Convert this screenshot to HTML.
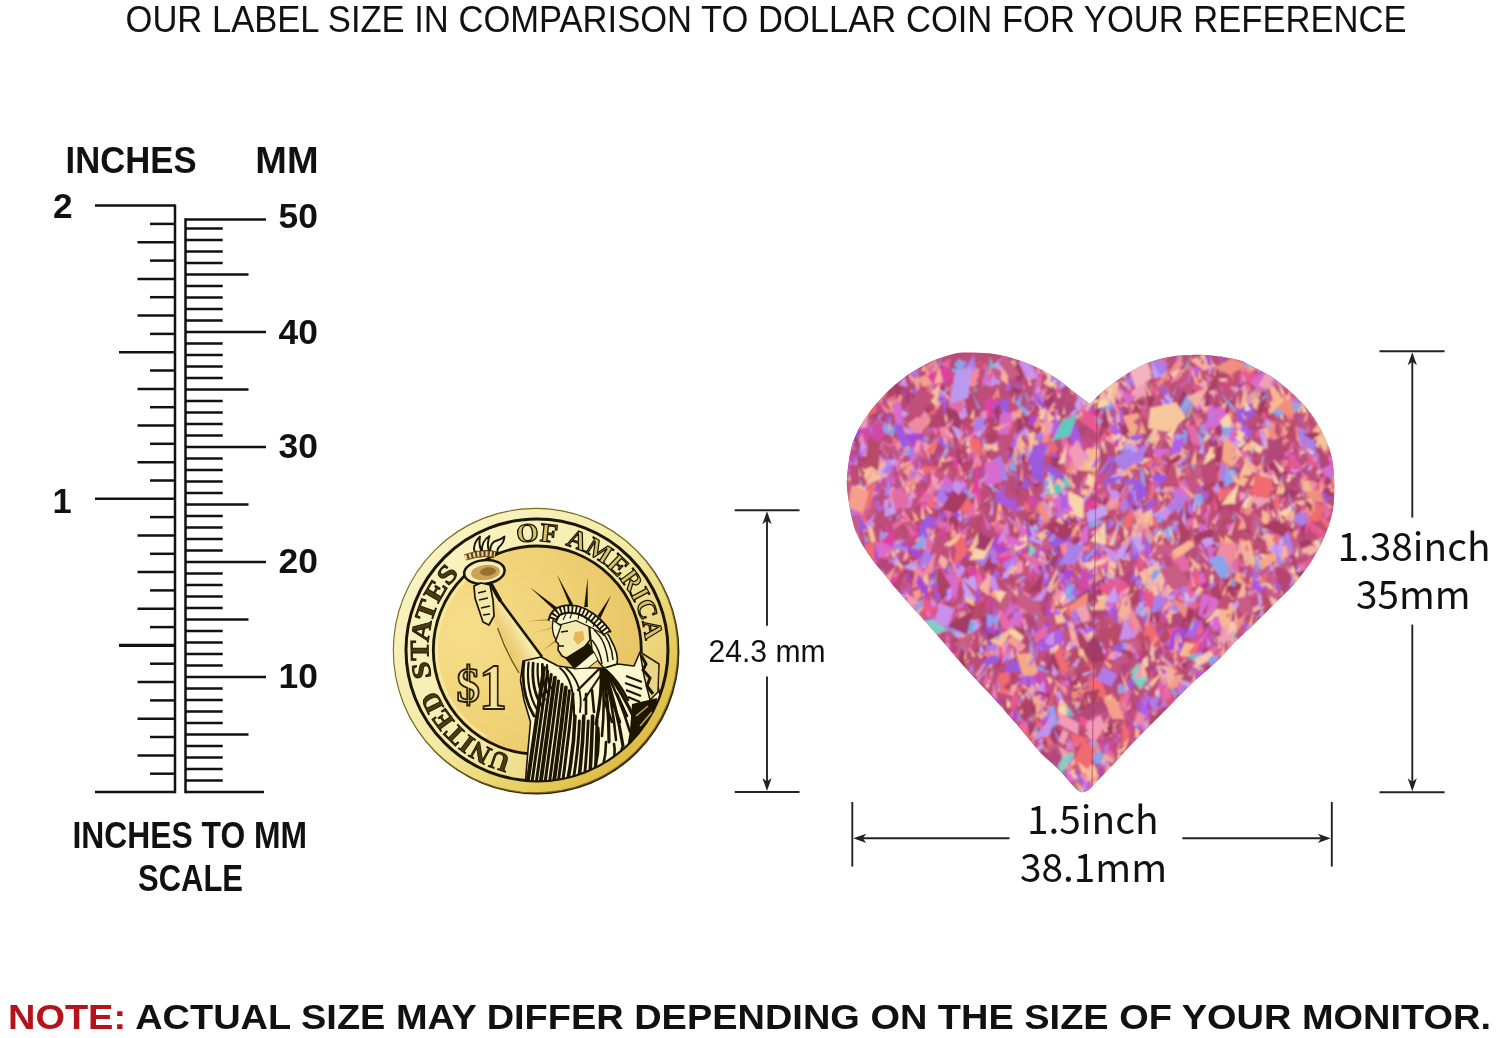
<!DOCTYPE html>
<html lang="en">
<head>
<meta charset="utf-8">
<title>Label size comparison</title>
<style>
html,body{margin:0;padding:0;background:#fff;}
body{width:1500px;height:1038px;overflow:hidden;position:relative;font-family:"Liberation Sans",sans-serif;}
svg{position:absolute;left:0;top:0;display:block;}
text{font-family:"Liberation Sans",sans-serif;fill:#111;}
.b{font-weight:bold;}
.n{font-family:"Noto Sans CJK SC","Liberation Sans",sans-serif;}
</style>
</head>
<body>
<svg width="1500" height="1038" viewBox="0 0 1500 1038">
<rect width="1500" height="1038" fill="#fff"/>
<!--TEXTS-->
<g stroke="#111" stroke-width="2.5" stroke-linecap="butt" fill="none">
<line x1="175.0" y1="204.4" x2="175.0" y2="793.2"/>
<line x1="185.5" y1="218.3" x2="185.5" y2="793.2"/>
<line x1="95" y1="792.0" x2="175.0" y2="792.0" stroke-width="2.5"/>
<line x1="150" y1="773.7" x2="175.0" y2="773.7" stroke-width="2.5"/>
<line x1="137.5" y1="755.4" x2="175.0" y2="755.4" stroke-width="2.5"/>
<line x1="150" y1="737.0" x2="175.0" y2="737.0" stroke-width="2.5"/>
<line x1="137.5" y1="718.7" x2="175.0" y2="718.7" stroke-width="2.5"/>
<line x1="150" y1="700.4" x2="175.0" y2="700.4" stroke-width="2.5"/>
<line x1="137.5" y1="682.0" x2="175.0" y2="682.0" stroke-width="2.5"/>
<line x1="150" y1="663.7" x2="175.0" y2="663.7" stroke-width="2.5"/>
<line x1="119" y1="645.4" x2="175.0" y2="645.4" stroke-width="3.2"/>
<line x1="150" y1="627.1" x2="175.0" y2="627.1" stroke-width="2.5"/>
<line x1="137.5" y1="608.8" x2="175.0" y2="608.8" stroke-width="2.5"/>
<line x1="150" y1="590.4" x2="175.0" y2="590.4" stroke-width="2.5"/>
<line x1="137.5" y1="572.1" x2="175.0" y2="572.1" stroke-width="2.5"/>
<line x1="150" y1="553.8" x2="175.0" y2="553.8" stroke-width="2.5"/>
<line x1="137.5" y1="535.5" x2="175.0" y2="535.5" stroke-width="2.5"/>
<line x1="150" y1="517.1" x2="175.0" y2="517.1" stroke-width="2.5"/>
<line x1="95" y1="498.8" x2="175.0" y2="498.8" stroke-width="2.5"/>
<line x1="150" y1="480.5" x2="175.0" y2="480.5" stroke-width="2.5"/>
<line x1="137.5" y1="462.2" x2="175.0" y2="462.2" stroke-width="2.5"/>
<line x1="150" y1="443.8" x2="175.0" y2="443.8" stroke-width="2.5"/>
<line x1="137.5" y1="425.5" x2="175.0" y2="425.5" stroke-width="2.5"/>
<line x1="150" y1="407.2" x2="175.0" y2="407.2" stroke-width="2.5"/>
<line x1="137.5" y1="388.9" x2="175.0" y2="388.9" stroke-width="2.5"/>
<line x1="150" y1="370.5" x2="175.0" y2="370.5" stroke-width="2.5"/>
<line x1="119" y1="352.2" x2="175.0" y2="352.2" stroke-width="2.5"/>
<line x1="150" y1="333.9" x2="175.0" y2="333.9" stroke-width="2.5"/>
<line x1="137.5" y1="315.6" x2="175.0" y2="315.6" stroke-width="2.5"/>
<line x1="150" y1="297.2" x2="175.0" y2="297.2" stroke-width="2.5"/>
<line x1="137.5" y1="278.9" x2="175.0" y2="278.9" stroke-width="2.5"/>
<line x1="150" y1="260.6" x2="175.0" y2="260.6" stroke-width="2.5"/>
<line x1="137.5" y1="242.2" x2="175.0" y2="242.2" stroke-width="2.5"/>
<line x1="150" y1="223.9" x2="175.0" y2="223.9" stroke-width="2.5"/>
<line x1="95" y1="205.6" x2="175.0" y2="205.6" stroke-width="2.5"/>
<line x1="185.5" y1="792.0" x2="264" y2="792.0"/>
<line x1="185.5" y1="780.5" x2="222.7" y2="780.5"/>
<line x1="185.5" y1="769.0" x2="222.7" y2="769.0"/>
<line x1="185.5" y1="757.5" x2="222.7" y2="757.5"/>
<line x1="185.5" y1="746.0" x2="222.7" y2="746.0"/>
<line x1="185.5" y1="734.5" x2="248.5" y2="734.5"/>
<line x1="185.5" y1="723.0" x2="222.7" y2="723.0"/>
<line x1="185.5" y1="711.5" x2="222.7" y2="711.5"/>
<line x1="185.5" y1="700.0" x2="222.7" y2="700.0"/>
<line x1="185.5" y1="688.5" x2="222.7" y2="688.5"/>
<line x1="185.5" y1="677.0" x2="266" y2="677.0"/>
<line x1="185.5" y1="665.5" x2="222.7" y2="665.5"/>
<line x1="185.5" y1="654.0" x2="222.7" y2="654.0"/>
<line x1="185.5" y1="642.5" x2="222.7" y2="642.5"/>
<line x1="185.5" y1="631.0" x2="222.7" y2="631.0"/>
<line x1="185.5" y1="619.5" x2="248.5" y2="619.5"/>
<line x1="185.5" y1="608.0" x2="222.7" y2="608.0"/>
<line x1="185.5" y1="596.5" x2="222.7" y2="596.5"/>
<line x1="185.5" y1="585.0" x2="222.7" y2="585.0"/>
<line x1="185.5" y1="573.5" x2="222.7" y2="573.5"/>
<line x1="185.5" y1="562.0" x2="266" y2="562.0"/>
<line x1="185.5" y1="550.5" x2="222.7" y2="550.5"/>
<line x1="185.5" y1="539.0" x2="222.7" y2="539.0"/>
<line x1="185.5" y1="527.5" x2="222.7" y2="527.5"/>
<line x1="185.5" y1="516.0" x2="222.7" y2="516.0"/>
<line x1="185.5" y1="504.5" x2="248.5" y2="504.5"/>
<line x1="185.5" y1="493.0" x2="222.7" y2="493.0"/>
<line x1="185.5" y1="481.5" x2="222.7" y2="481.5"/>
<line x1="185.5" y1="470.0" x2="222.7" y2="470.0"/>
<line x1="185.5" y1="458.5" x2="222.7" y2="458.5"/>
<line x1="185.5" y1="447.0" x2="266" y2="447.0"/>
<line x1="185.5" y1="435.5" x2="222.7" y2="435.5"/>
<line x1="185.5" y1="424.0" x2="222.7" y2="424.0"/>
<line x1="185.5" y1="412.5" x2="222.7" y2="412.5"/>
<line x1="185.5" y1="401.0" x2="222.7" y2="401.0"/>
<line x1="185.5" y1="389.5" x2="248.5" y2="389.5"/>
<line x1="185.5" y1="378.0" x2="222.7" y2="378.0"/>
<line x1="185.5" y1="366.5" x2="222.7" y2="366.5"/>
<line x1="185.5" y1="355.0" x2="222.7" y2="355.0"/>
<line x1="185.5" y1="343.5" x2="222.7" y2="343.5"/>
<line x1="185.5" y1="332.0" x2="266" y2="332.0"/>
<line x1="185.5" y1="320.5" x2="222.7" y2="320.5"/>
<line x1="185.5" y1="309.0" x2="222.7" y2="309.0"/>
<line x1="185.5" y1="297.5" x2="222.7" y2="297.5"/>
<line x1="185.5" y1="286.0" x2="222.7" y2="286.0"/>
<line x1="185.5" y1="274.5" x2="248.5" y2="274.5"/>
<line x1="185.5" y1="263.0" x2="222.7" y2="263.0"/>
<line x1="185.5" y1="251.5" x2="222.7" y2="251.5"/>
<line x1="185.5" y1="240.0" x2="222.7" y2="240.0"/>
<line x1="185.5" y1="228.5" x2="222.7" y2="228.5"/>
<line x1="185.5" y1="219.6" x2="266" y2="219.6"/>
</g>
<text x="125.5" y="32.3" font-size="37.5" textLength="1281.0" lengthAdjust="spacingAndGlyphs">OUR LABEL SIZE IN COMPARISON TO DOLLAR COIN FOR YOUR REFERENCE</text>
<text x="65.6" y="173" font-size="36" textLength="130.9" lengthAdjust="spacingAndGlyphs" class="b">INCHES</text>
<text x="255.3" y="173" font-size="36" textLength="63.2" lengthAdjust="spacingAndGlyphs" class="b">MM</text>
<text x="53" y="218" font-size="34.5" textLength="19.6" lengthAdjust="spacingAndGlyphs" class="b">2</text>
<text x="52.6" y="513" font-size="34.5" class="b">1</text>
<text x="278.6" y="228.4" font-size="34.5" textLength="39.4" lengthAdjust="spacingAndGlyphs" class="b">50</text>
<text x="278.6" y="343.5" font-size="34.5" textLength="39.4" lengthAdjust="spacingAndGlyphs" class="b">40</text>
<text x="278.6" y="457.5" font-size="34.5" textLength="39.4" lengthAdjust="spacingAndGlyphs" class="b">30</text>
<text x="278.6" y="572.6" font-size="34.5" textLength="39.4" lengthAdjust="spacingAndGlyphs" class="b">20</text>
<text x="278.6" y="688" font-size="34.5" textLength="39.4" lengthAdjust="spacingAndGlyphs" class="b">10</text>
<text x="72.5" y="848" font-size="36" textLength="234.5" lengthAdjust="spacingAndGlyphs" class="b">INCHES TO MM</text>
<text x="138" y="890.5" font-size="36" textLength="105.0" lengthAdjust="spacingAndGlyphs" class="b">SCALE</text>
<text x="708.5" y="662" font-size="30.5" textLength="117.0" lengthAdjust="spacingAndGlyphs">24.3 mm</text>
<text x="1337.5" y="560.5" font-size="39.5" textLength="153.0" lengthAdjust="spacingAndGlyphs" class="n">1.38inch</text>
<text x="1356" y="608.6" font-size="39.5" textLength="114.5" lengthAdjust="spacingAndGlyphs" class="n">35mm</text>
<text x="1027" y="833.5" font-size="39.5" textLength="131.5" lengthAdjust="spacingAndGlyphs" class="n">1.5inch</text>
<text x="1020" y="881.8" font-size="39.5" textLength="147.0" lengthAdjust="spacingAndGlyphs" class="n">38.1mm</text>
<text x="8" y="1028.5" font-size="35" class="b" textLength="1483" lengthAdjust="spacingAndGlyphs"><tspan fill="#b5121b">NOTE:</tspan> ACTUAL SIZE MAY DIFFER DEPENDING ON THE SIZE OF YOUR MONITOR.</text>
<g stroke="#222" stroke-width="1.9" fill="#222">
<line x1="734.7" y1="510.2" x2="799.5" y2="510.2"/>
<line x1="734.7" y1="792" x2="799.5" y2="792"/>
<line x1="767" y1="520.2" x2="767" y2="625.7"/>
<line x1="767" y1="676.4" x2="767" y2="782"/>
<path stroke="none" d="M767 511.2 L762.4 524.2 L767 520.7 L771.6 524.2 Z"/>
<path stroke="none" d="M767 791 L762.4 778 L767 781.5 L771.6 778 Z"/>
</g>
<g stroke="#222" stroke-width="1.9" fill="#222">
<line x1="1379.5" y1="351.3" x2="1444.6" y2="351.3"/>
<line x1="1379.5" y1="792.3" x2="1444.6" y2="792.3"/>
<line x1="1412.3" y1="361.3" x2="1412.3" y2="517.6"/>
<line x1="1412.3" y1="624.6" x2="1412.3" y2="782.3"/>
<path stroke="none" d="M1412.3 352.3 L1407.7 365.3 L1412.3 361.8 L1416.8999999999999 365.3 Z"/>
<path stroke="none" d="M1412.3 791.3 L1407.7 778.3 L1412.3 781.8 L1416.8999999999999 778.3 Z"/>
</g>
<g stroke="#222" stroke-width="1.9" fill="#222">
<line x1="852.3" y1="802" x2="852.3" y2="866.6"/>
<line x1="1331.8" y1="802" x2="1331.8" y2="866.6"/>
<line x1="862.3" y1="838.3" x2="1009.5" y2="838.3"/>
<line x1="1182.3" y1="838.3" x2="1321.8" y2="838.3"/>
<path stroke="none" d="M853.3 838.3 L866.3 833.6999999999999 L862.8 838.3 L866.3 842.9 Z"/>
<path stroke="none" d="M1330.8 838.3 L1317.8 833.6999999999999 L1321.3 838.3 L1317.8 842.9 Z"/>
</g>
<defs>
<linearGradient id="rimG" gradientUnits="userSpaceOnUse" x1="420" y1="540" x2="650" y2="770">
<stop offset="0" stop-color="#f8f4c4"/><stop offset="0.5" stop-color="#f3e9a4"/><stop offset="0.78" stop-color="#e6cc5c"/><stop offset="1" stop-color="#d8b438"/></linearGradient>
<linearGradient id="ringG" gradientUnits="userSpaceOnUse" x1="420" y1="560" x2="660" y2="740">
<stop offset="0" stop-color="#f8f4c2"/><stop offset="0.5" stop-color="#f5ecac"/><stop offset="0.8" stop-color="#edd47a"/><stop offset="1" stop-color="#e4c258"/></linearGradient>
<radialGradient id="fieldG" gradientUnits="userSpaceOnUse" cx="465" cy="630" r="190">
<stop offset="0" stop-color="#f6de8a"/><stop offset="0.5" stop-color="#f0d277"/><stop offset="1" stop-color="#e7c463"/></radialGradient>
<linearGradient id="armG" gradientUnits="userSpaceOnUse" x1="495" y1="640" x2="520" y2="625">
<stop offset="0" stop-color="#e9c261"/><stop offset="0.55" stop-color="#f0d585"/><stop offset="1" stop-color="#f7f0b4"/></linearGradient>
<filter id="cb" x="380" y="495" width="320" height="320" filterUnits="userSpaceOnUse"><feGaussianBlur stdDeviation="0.55"/></filter>
<clipPath id="ringClip"><circle cx="537.0" cy="650.0" r="131"/></clipPath>
</defs>
<g filter="url(#cb)">
<circle cx="536.5" cy="651.7" r="142.9" fill="#2a2208"/>
<circle cx="535.5" cy="650.6" r="142.2" fill="url(#rimG)" stroke="#7d6a1c" stroke-width="1.1"/>
<circle cx="537.0" cy="650.0" r="131" fill="url(#ringG)" stroke="#1c1505" stroke-width="3"/>
<circle cx="537.3" cy="650.0" r="104" fill="url(#fieldG)" stroke="#1c1505" stroke-width="2.8"/>
<path d="M472.7 573.0 A100.5 100.5 0 0 0 487.0 737.0" fill="none" stroke="#f7eaa6" stroke-width="2.5" opacity="0.8"/>
<path id="tp1" d="M511.6 755.6 A108.6 108.6 0 0 1 436.0 689.8" fill="none"/><text font-weight="bold" font-size="26.5" stroke="#1c1505" stroke-width="0.9" style="font-family:'Liberation Serif',serif;fill:#4a3c10"><textPath href="#tp1" textLength="104.2" lengthAdjust="spacingAndGlyphs">UNITED</textPath></text>
<path id="tp2" d="M431.9 677.2 A108.6 108.6 0 0 1 459.5 573.9" fill="none"/><text font-weight="bold" font-size="26.5" stroke="#1c1505" stroke-width="0.9" style="font-family:'Liberation Serif',serif;fill:#4a3c10"><textPath href="#tp2" textLength="111.8" lengthAdjust="spacingAndGlyphs">STATES</textPath></text>
<path id="tp3" d="M517.2 543.2 A108.6 108.6 0 0 1 556.8 543.2" fill="none"/><text font-weight="bold" font-size="26.5" stroke="#1c1505" stroke-width="1.25" style="font-family:'Liberation Serif',serif;fill:#d8c26a"><textPath href="#tp3" textLength="39.8" lengthAdjust="spacingAndGlyphs">OF</textPath></text>
<path id="tp4" d="M565.1 545.1 A108.6 108.6 0 0 1 645.2 640.5" fill="none"/><text font-weight="bold" font-size="26.5" stroke="#1c1505" stroke-width="1.25" style="font-family:'Liberation Serif',serif;fill:#d8c26a"><textPath href="#tp4" textLength="132.7" lengthAdjust="spacingAndGlyphs">AMERICA</textPath></text>
<g style="font-family:'Liberation Serif',serif" font-weight="bold" stroke="#2c2208" stroke-width="1.9"><text x="456.5" y="702" font-size="50" textLength="23.5" lengthAdjust="spacingAndGlyphs" style="font-family:'Liberation Serif',serif;fill:#f6e49c">$</text><text x="479" y="708.6" font-size="65" textLength="28" lengthAdjust="spacingAndGlyphs" style="font-family:'Liberation Serif',serif;fill:#f6e49c">1</text></g>
<path d="M557.7 608.1L529.8 587.3L555.3 610.9Z" fill="#1c1505" opacity="1"/>
<path d="M573.1 604.2L557.0 574.6L569.9 605.8Z" fill="#1c1505" opacity="1"/>
<path d="M587.8 607.1L587.6 577.5L584.2 606.9Z" fill="#1c1505" opacity="1"/>
<path d="M600.6 617.9L611.3 594.9L597.4 616.1Z" fill="#1c1505" opacity="1"/>
<path d="M550.9 618.5L528.0 621.2L551.1 620.5Z" fill="#a8862c" opacity="0.75"/>
<path d="M554.4 640.7L542.0 651.0L555.6 642.3Z" fill="#a8862c" opacity="0.75"/>
<path d="M551.8 627.2L533.0 633.0L552.2 628.8Z" fill="#b8963c" opacity="0.6"/>
<path d="M478 590 L492 585.5 L508 610 L541.5 656 L545 664 L520 674 L498 628 Z" fill="url(#armG)"/>
<path d="M491.5 585.5 L497 596 L508 611 L541.5 656" fill="none" stroke="#1c1505" stroke-width="2.6" stroke-linecap="round"/>
<path d="M491.5 585 L500 600" fill="none" stroke="#1c1505" stroke-width="3.6" stroke-linecap="round"/>
<path d="M497.5 628 Q506 652 519 673" fill="none" stroke="#6b5514" stroke-width="1.3"/>
<g fill="#fbf8cf" stroke="#1c1505" stroke-width="1.9" stroke-linejoin="round" stroke-linecap="round"><path d="M474.5 552 Q472.5 543 480 536.5 Q478.5 545 481.5 551.5 Z"/><path d="M482 551.5 Q481 541.5 489.5 536 Q486.5 545 489 551 Z"/><path d="M490 551 Q490.5 542 497 540.5 Q501 539.5 504.5 536.5 Q504 543 499 547 Q497 549 497.5 553 Z"/></g>
<path d="M465 557.5 Q480 552 495 554.5" fill="none" stroke="#6a4418" stroke-width="6.4"/>
<path d="M465 557.5 Q480 552 495 554.5" fill="none" stroke="#f0d89a" stroke-width="5" stroke-dasharray="2 2.2"/>
<ellipse cx="484.4" cy="572" rx="20.3" ry="11.8" fill="#f6eeb8" stroke="#1c1505" stroke-width="2.5" transform="rotate(-6 484.4 572)"/>
<ellipse cx="485.5" cy="572.5" rx="14.5" ry="7.6" fill="#c79a4a" opacity="0.9" transform="rotate(-6 485.5 572.5)"/>
<ellipse cx="488" cy="571.5" rx="8" ry="4.2" fill="#8a5c22" opacity="0.75" transform="rotate(-6 488 571.5)"/>
<path d="M474 586 L481 583 L490 585 L493 600 L494 616 L489 625 L483 622 L479 610 L475 598 Z" fill="#f3e8a8" stroke="#1c1505" stroke-width="1.7" stroke-linejoin="round"/>
<path d="M478 593 L486 591 M479 600 L488 598 M481 608 L490 606 M483 615 L490 614" stroke="#1c1505" stroke-width="1.4" fill="none"/>
<clipPath id="robeClip"><path d="M541 657 L523 661 L520.5 680 L524 700 L530.5 722 L528 750 L525.5 780.6 A131 131 0 0 0 660 695 L658 687 L659 664 L640 652 L634 666 L618 664 L604 668 L585 668 L572 668 L558 666 Z"/></clipPath>
<path d="M541 657 L523 661 L520.5 680 L524 700 L530.5 722 L528 750 L525.5 780.6 A131 131 0 0 0 660 695 L658 687 L659 664 L640 652 L634 666 L618 664 L604 668 L585 668 L572 668 L558 666 Z" fill="#fbf8cf" stroke="#1c1505" stroke-width="1.6" stroke-linejoin="round"/>
<g clip-path="url(#robeClip)">
<g fill="none" stroke="#1c1505" stroke-linecap="round"><path d="M544.0 668.0 Q535.5 725.5 527.5 783.0" stroke-width="3.9"/><path d="M547.6 671.2 Q539.6 727.1 531.9 783.0" stroke-width="3.0"/><path d="M551.2 674.5 Q543.8 728.8 536.2 783.0" stroke-width="3.0"/><path d="M554.9 677.8 Q547.9 730.4 540.6 783.0" stroke-width="3.9"/><path d="M558.5 681.0 Q552.0 732.0 545.0 783.0" stroke-width="3.0"/><path d="M562.1 684.2 Q556.2 733.6 549.4 783.0" stroke-width="3.0"/><path d="M565.8 687.5 Q560.4 735.2 553.8 783.0" stroke-width="3.9"/><path d="M569.4 690.8 Q564.5 736.9 558.1 783.0" stroke-width="3.0"/><path d="M573.0 694.0 Q568.6 738.5 562.5 783.0" stroke-width="3.0"/><path d="M524.0 662.0 Q520.0 692.0 534.0 716.0" stroke-width="2.8"/><path d="M528.6 662.6 Q525.5 690.5 537.6 710.5" stroke-width="2.2"/><path d="M533.2 663.2 Q531.0 689.0 541.2 705.0" stroke-width="2.8"/><path d="M537.8 663.8 Q536.5 687.5 544.8 699.5" stroke-width="2.2"/><path d="M542.4 664.4 Q542.0 686.0 548.4 694.0" stroke-width="2.8"/><path d="M547.0 665.0 Q547.5 684.5 552.0 688.5" stroke-width="2.2"/><path d="M575.0 716.0 Q574.0 750 567.0 784" stroke-width="3.6"/><path d="M579.4 721.0 Q578.4 750 572.6 784" stroke-width="2.9"/><path d="M583.8 716.0 Q582.8 750 578.2 784" stroke-width="3.6"/><path d="M588.2 721.0 Q587.2 750 583.8 784" stroke-width="2.9"/><path d="M592.6 716.0 Q591.6 750 589.4 784" stroke-width="3.6"/><path d="M597.0 721.0 Q596.0 750 595.0 784" stroke-width="2.9"/><path d="M560 668 Q575 680 574 716" stroke-width="2"/><path d="M566 668 Q584 684 580 712" stroke-width="1.8"/><path d="M600 668 L578 690" stroke-width="2.4"/><path d="M604 670 L584 700" stroke-width="2"/><path d="M601.0 668.0 Q602.5 693.0 596 724" stroke-width="3.2"/><path d="M601.8 668.4 Q605.5 699.0 602 736" stroke-width="2.6"/><path d="M602.6 668.8 Q609.0 702.0 609 742" stroke-width="3.2"/><path d="M603.4 669.2 Q612.5 701.0 616 740" stroke-width="2.6"/><path d="M604.2 669.6 Q616.0 704.0 623 746" stroke-width="3.2"/><path d="M605.0 670.0 Q619.5 697.0 630 732" stroke-width="2.6"/><path d="M605.8 670.4 Q622.5 692.0 636 722" stroke-width="3.2"/><path d="M606.6 670.8 Q618.5 681.0 628 700" stroke-width="2.6"/><path d="M598 728 Q600 750 594 772" stroke-width="3"/><path d="M606 742 Q606 756 602 770" stroke-width="2.6"/><path d="M614 744 Q616 754 612 764" stroke-width="2.6"/><path d="M622 748 L619 760" stroke-width="2.4"/></g>
<path d="M632 704 L657 698 L656 720 L641 744 L626 754 L630 730 Z" fill="#1c1505"/>
<path d="M604 700 L612 722 M610 696 L620 722 M617 694 L627 716 M592 690 L594 712 M586 694 L586 714" stroke="#1c1505" stroke-width="2.6" fill="none" stroke-linecap="round"/>
<path d="M640 652 L659 664 L658 692 L650 700 L644 676 Z" fill="#e9d68a" stroke="#1c1505" stroke-width="1.5"/>
<path d="M641 655 L646 664 L643 670 L650 678 L647 686 L653 694" fill="none" stroke="#1c1505" stroke-width="3"/>
<path d="M626 676 L642 682 M625 683 L642 689 M626 690 L641 696 M628 697 L640 702" stroke="#1c1505" stroke-width="2.2" fill="none"/>
<path d="M636 716 L648 706 M640 726 L652 712" stroke="#c9a23a" stroke-width="1.6" fill="none"/>
</g>
<path d="M589 622 Q604 624 611 640 Q619 654 617 664 L604 668 Q596 660 592 650 Z" fill="#fbf8cf" stroke="#1c1505" stroke-width="1.6"/>
<path d="M594 630 Q606 640 608 662 M599 628 Q612 642 613 660 M592 640 Q600 650 602 664" fill="none" stroke="#1c1505" stroke-width="1.5"/>
<path d="M561 624 L557.5 634 L555.5 641 L558.5 644 L558 650 L562 656 L568 659 L582 650 L590 640 L589 626 L576 620 Z" fill="#f3eab0" stroke="#1c1505" stroke-width="1.6" stroke-linejoin="round"/>
<path d="M575 632 L583 631 L584.5 639 L578 645 L573 639 Z" fill="#e3a53e" opacity="0.75"/>
<path d="M555 623 L560 615 L570 611.5 L584 614 L598 626 L603 634 L590 627 L576 620.5 L561 624.5 Z" fill="#fbf8cf" stroke="#1c1505" stroke-width="1.2" stroke-linejoin="round"/>
<path d="M563 620 L566 614 M570 618.5 L572 612.5 M578 619.5 L579 613.5 M586 623 L588 616.5 M593 627 L596 621" stroke="#1c1505" stroke-width="1.1" fill="none"/>
<path d="M561 632 L568 631 M559 646 L564 646" stroke="#1c1505" stroke-width="1.4"/>
<path d="M565 658 L589 643 L594 652 L574 669 Z" fill="#1c1505"/>
<path d="M574 669 L594 652 L598 660 L588 668 Z" fill="#fbf8cf" stroke="#1c1505" stroke-width="1"/>
<path d="M552.3 621.5 C553.5 613 559 609.5 568.6 609 C577 608.6 586 611 598.6 623 C603 627.5 606 631 607.5 634" fill="none" stroke="#1c1505" stroke-width="9.5" stroke-linecap="butt"/>
<path d="M552.3 621.5 C553.5 613 559 609.5 568.6 609 C577 608.6 586 611 598.6 623 C603 627.5 606 631 607.5 634" fill="none" stroke="#fbf8cf" stroke-width="5.6" stroke-dasharray="2.1 1.8"/>
<path d="M553 620 Q551 632 556 640 L561 626 Z" fill="#fbf8cf" stroke="#1c1505" stroke-width="1.3"/>
</g>
<defs><clipPath id="hc"><path d="M1090.0 404.0C1093.3 400.7 1095.8 397.7 1100.0 394.0C1104.2 390.3 1110.0 385.7 1115.0 382.0C1120.0 378.3 1125.0 375.0 1130.0 372.0C1135.0 369.0 1140.0 366.2 1145.0 364.0C1150.0 361.8 1155.0 360.3 1160.0 359.0C1165.0 357.7 1170.0 356.7 1175.0 356.0C1180.0 355.3 1185.0 355.2 1190.0 355.0C1195.0 354.8 1200.0 354.8 1205.0 355.0C1210.0 355.2 1214.2 355.6 1220.0 356.5C1225.8 357.4 1234.9 358.9 1240.0 360.5C1245.1 362.1 1245.2 362.9 1250.8 365.8C1256.4 368.7 1266.2 373.1 1273.4 378.0C1280.6 382.9 1287.9 389.2 1294.2 395.3C1300.5 401.4 1306.6 407.8 1311.5 414.4C1316.4 421.0 1320.3 428.3 1323.6 435.2C1326.9 442.1 1329.7 449.1 1331.4 456.0C1333.1 462.9 1333.6 469.9 1334.0 476.8C1334.4 483.7 1334.3 491.4 1334.0 497.6C1333.7 503.8 1333.0 509.0 1332.0 514.0C1331.0 519.0 1329.9 522.1 1327.9 527.5C1325.9 532.9 1323.2 539.9 1319.8 546.4C1316.4 552.9 1312.2 560.1 1307.7 566.6C1303.2 573.1 1298.4 579.2 1292.8 585.5C1287.2 591.8 1280.4 597.9 1273.9 604.4C1267.4 610.9 1260.7 617.9 1253.7 624.6C1246.7 631.4 1238.1 639.0 1232.1 644.9C1226.1 650.8 1224.8 653.6 1217.9 660.2C1211.0 666.8 1199.9 676.0 1190.9 684.5C1181.9 693.0 1173.0 702.5 1164.0 711.5C1155.0 720.5 1145.7 729.5 1137.0 738.5C1128.3 747.5 1119.2 758.1 1112.0 765.8C1104.8 773.4 1098.0 780.3 1094.0 784.4C1090.0 788.5 1090.0 789.0 1088.0 790.3C1086.0 791.6 1083.8 792.3 1082.0 792.2C1080.2 792.1 1078.5 790.9 1077.0 789.8C1075.5 788.7 1076.2 789.1 1073.0 785.6C1069.8 782.1 1063.5 774.4 1058.0 768.8C1052.5 763.2 1046.4 758.9 1040.0 752.0C1033.6 745.1 1026.7 736.0 1019.4 727.5C1012.1 719.0 1003.9 709.4 996.2 700.9C988.5 692.4 980.8 685.1 973.1 676.6C965.4 668.1 957.7 658.9 950.0 650.0C942.3 641.1 934.6 631.9 926.9 623.2C919.2 614.5 911.5 606.7 903.8 597.8C896.1 588.9 886.5 577.1 880.7 570.0C874.9 562.9 873.0 560.7 869.1 555.0C865.2 549.3 860.6 542.2 857.6 535.7C854.6 529.2 853.1 522.9 851.4 515.7C849.7 508.5 848.3 498.9 847.6 492.5C846.9 486.1 846.6 483.9 847.1 477.0C847.6 470.1 849.1 458.0 850.6 451.0C852.1 444.0 853.8 439.9 855.9 435.0C858.0 430.1 860.3 426.1 863.3 421.3C866.3 416.6 869.8 411.4 873.9 406.5C878.0 401.6 882.8 396.4 887.7 391.6C892.7 386.8 898.3 381.9 903.6 377.9C908.9 373.9 914.2 370.8 919.5 367.8C924.8 364.8 929.5 362.2 935.4 359.8C941.3 357.4 949.2 354.7 955.0 353.5C960.8 352.3 965.0 352.6 970.0 352.5C975.0 352.4 980.0 352.6 985.0 353.0C990.0 353.4 995.0 354.0 1000.0 355.0C1005.0 356.0 1010.0 357.4 1015.0 359.0C1020.0 360.6 1025.0 362.4 1030.0 364.5C1035.0 366.6 1040.0 368.8 1045.0 371.5C1050.0 374.2 1055.0 377.4 1060.0 381.0C1065.0 384.6 1070.0 389.2 1075.0 393.0C1080.0 396.8 1085.0 400.3 1090.0 404.0Z"/></clipPath></defs>
<defs><filter id="hb" x="0" y="0" width="100%" height="100%" filterUnits="userSpaceOnUse"><feGaussianBlur stdDeviation="0.85"/></filter></defs>
<g clip-path="url(#hc)"><rect x="836" y="340" width="512" height="464" fill="#bd4d78"/><g filter="url(#hb)">
<path fill="#bd4c76" d="M1303 773L1318 803L1301 811ZM1171 499L1154 524L1140 504L1157 479ZM1061 433L1087 452L1080 466ZM1098 591L1114 600L1110 606ZM925 486L913 516L892 502ZM945 377L936 405L920 391L928 363ZM1054 745L1047 765L1033 766L1039 746ZM931 354L915 362L910 357L927 349ZM916 614L921 635L909 633L904 611ZM955 657L955 676L949 674ZM1115 429L1125 445L1119 453ZM975 770L979 796L972 801L968 776ZM1293 484L1303 499L1299 507L1288 492ZM943 457L949 473L943 476L936 461ZM986 562L975 584L956 578L967 556ZM1332 573L1360 589L1358 611L1330 595ZM1058 706L1052 728L1042 727ZM1134 674L1126 695L1109 696L1117 675ZM1326 648L1352 659L1348 666L1322 656ZM1284 741L1300 752L1294 754L1279 744ZM1230 580L1217 613L1191 618ZM1033 674L1019 696L1002 694L1016 673ZM1145 717L1151 735L1142 735L1135 717ZM1167 690L1137 705L1124 697L1153 682ZM972 442L985 475L974 480ZM1197 496L1194 518L1180 510L1183 487ZM1114 579L1131 606L1119 605L1102 579ZM1227 482L1232 508L1223 504ZM1132 503L1111 513L1100 501ZM1334 445L1327 471L1317 475ZM913 789L916 813L899 817L896 793ZM844 706L836 726L825 725L833 704Z"/>
<path fill="#c2507a" d="M938 547L949 564L935 574ZM1290 591L1262 610L1257 599ZM1120 785L1128 799L1120 801ZM1008 604L1011 635L998 635ZM1188 545L1169 555L1169 539L1188 529ZM927 492L916 522L896 522L907 492ZM1047 720L1049 746L1033 757ZM1211 622L1222 641L1216 646ZM948 731L922 746L903 734L929 719ZM1014 401L1036 430L1015 433L994 405ZM1081 749L1073 776L1063 766ZM1104 733L1104 757L1090 758L1091 733ZM1121 375L1119 394L1104 388L1105 368ZM1003 690L989 699L990 691ZM911 595L896 602L885 596ZM1303 572L1304 595L1288 597L1287 574ZM1194 638L1186 659L1179 660ZM1286 796L1302 803L1296 807L1280 799ZM1043 639L1053 670L1040 683L1029 652ZM1194 485L1223 499L1222 509L1193 496ZM906 371L915 390L908 395L899 376ZM1020 401L999 415L991 395ZM979 419L992 439L978 444ZM1177 608L1162 633L1148 624L1164 599ZM1267 657L1279 676L1271 683Z"/>
<path fill="#c45580" d="M1155 541L1151 572L1136 577ZM870 534L876 550L869 550ZM940 766L960 795L950 813L930 784ZM1149 711L1135 721L1132 712L1147 702ZM1107 467L1120 500L1100 501L1087 468ZM869 764L886 775L882 789L864 777ZM1230 591L1237 609L1223 613ZM1156 516L1137 531L1125 524ZM1226 463L1233 485L1218 481ZM1304 371L1326 386L1321 393L1300 378ZM1198 409L1201 429L1195 432ZM1309 734L1327 762L1302 770L1284 742ZM994 448L970 463L962 457L986 442ZM1074 525L1084 542L1079 547L1070 530ZM1243 767L1248 783L1238 785ZM1218 670L1210 692L1192 687ZM1093 450L1097 466L1093 471ZM1124 620L1130 638L1125 642L1119 624ZM1304 762L1312 784L1296 786ZM1034 564L1043 589L1021 589L1012 564ZM1000 559L997 580L986 583L989 562ZM1332 373L1321 391L1314 387ZM1270 642L1256 675L1232 667L1246 635ZM1147 480L1160 509L1140 512L1127 483ZM911 740L910 771L887 771L888 740ZM1051 604L1062 637L1040 639L1028 606ZM1251 684L1247 709L1228 711ZM1192 587L1170 601L1158 592L1180 578ZM1288 620L1290 643L1283 646Z"/>
<path fill="#ae4264" d="M1208 601L1207 635L1193 642L1194 609ZM1132 385L1129 409L1118 407ZM1334 414L1352 428L1343 434ZM860 699L865 716L859 723ZM1128 579L1152 597L1132 606ZM1125 553L1112 584L1099 587L1112 556ZM1186 459L1173 478L1165 475ZM1026 629L1020 653L1001 654L1007 629ZM1151 712L1175 724L1168 731L1145 719ZM1033 713L1036 732L1022 730L1019 710ZM1271 661L1277 676L1268 682ZM1102 409L1102 428L1097 426ZM1036 517L1036 539L1025 539L1025 517ZM868 661L857 690L832 693ZM1254 513L1273 543L1261 564ZM856 662L861 693L844 691L839 661ZM931 624L959 637L953 655L925 642ZM1024 692L1037 717L1030 732L1016 708ZM945 620L963 645L954 647ZM894 422L885 440L876 438ZM874 375L880 397L865 399L859 378ZM1167 449L1179 481L1166 488ZM1158 780L1130 800L1117 778L1145 758ZM944 499L935 527L924 530ZM1271 379L1269 404L1260 405L1262 379ZM1312 496L1309 518L1295 513Z"/>
<path fill="#a83a62" d="M1200 613L1186 633L1175 623L1189 602ZM1238 569L1243 591L1229 603L1224 581ZM1116 718L1113 736L1101 736ZM978 500L980 516L973 515ZM1123 627L1132 657L1114 666L1105 636ZM893 361L889 384L876 370L880 347ZM1283 788L1285 823L1261 814ZM1234 600L1236 617L1226 622ZM908 722L904 748L897 744L901 718ZM1260 685L1242 694L1237 682L1255 673ZM1026 745L1004 757L994 752L1016 740ZM1335 696L1349 723L1330 726ZM1265 498L1286 509L1280 522L1259 511ZM1327 656L1356 676L1337 692ZM1070 526L1097 536L1087 547L1060 536ZM1291 362L1262 377L1260 366L1289 352ZM971 422L965 444L948 442L954 420ZM999 566L970 581L963 565L992 550ZM1195 709L1199 743L1184 754L1180 720ZM1064 736L1037 748L1023 732L1050 720ZM1287 551L1316 568L1302 587ZM1220 462L1249 474L1245 488L1216 476ZM1146 780L1139 798L1129 790ZM1094 490L1116 504L1112 511ZM862 686L856 712L835 711ZM1185 765L1198 791L1180 797ZM926 617L913 650L893 654L906 622ZM1080 356L1081 388L1064 391ZM861 744L846 769L832 765L848 739ZM1258 534L1273 544L1271 550ZM1078 395L1083 412L1071 409ZM1136 436L1148 469L1135 481ZM1178 407L1198 435L1187 438ZM846 621L831 633L823 620ZM1230 474L1213 505L1196 487ZM978 691L983 709L978 713L973 696Z"/>
<path fill="#b5446d" d="M1312 547L1308 565L1302 567L1306 550ZM1247 461L1267 475L1260 490ZM1153 660L1163 686L1157 696L1147 670ZM928 716L903 727L903 709ZM1318 609L1326 640L1310 661ZM1113 537L1097 560L1084 546L1100 523ZM1126 604L1114 634L1105 629L1117 599ZM1113 611L1122 643L1107 642ZM1140 616L1129 651L1117 644ZM975 714L979 733L968 737L963 717ZM872 754L866 769L858 758L864 743ZM897 388L921 400L923 414L898 402ZM1296 414L1264 428L1255 408ZM1246 534L1242 559L1228 557ZM1255 500L1232 515L1223 504ZM886 355L905 366L906 377L887 366ZM1072 412L1053 440L1041 417L1061 390ZM859 438L868 464L860 464L850 438ZM1048 753L1025 766L1020 755ZM972 619L976 638L970 636ZM1331 752L1353 762L1353 777ZM985 782L970 793L962 786ZM1170 645L1143 662L1138 640ZM1104 461L1103 480L1094 482L1095 462ZM918 654L932 664L928 672L914 661ZM933 743L917 774L899 772L915 741ZM1057 674L1056 707L1034 722ZM1009 698L1017 717L1000 720L993 702ZM1224 754L1234 769L1229 778ZM1321 401L1324 418L1317 426L1313 409ZM1011 755L992 762L991 756ZM934 738L927 765L914 761L922 733ZM927 386L944 418L933 432L916 401ZM1043 645L1058 665L1043 679L1028 659ZM895 661L909 671L902 679ZM884 605L881 635L867 642ZM1057 530L1066 557L1055 564L1046 538ZM1055 366L1065 381L1053 387ZM874 507L873 531L862 524ZM990 593L976 618L966 599L980 574ZM1048 614L1032 622L1031 613L1047 604ZM1305 784L1325 812L1307 820L1288 792ZM1210 741L1215 772L1200 768L1195 736Z"/>
<path fill="#b2477a" d="M1066 537L1081 547L1070 557ZM911 676L888 687L881 682L904 672ZM859 523L872 556L858 574L846 541ZM1204 714L1177 734L1162 722L1189 701ZM1231 646L1219 677L1198 677L1210 646ZM1335 611L1335 642L1319 635L1319 604ZM931 512L923 530L910 522L918 504ZM958 548L958 570L945 579ZM1112 564L1114 592L1091 592L1089 564ZM1186 685L1202 697L1197 702ZM890 357L871 365L863 351ZM1059 580L1050 605L1031 599L1040 574ZM1090 425L1080 440L1068 434ZM970 492L989 503L980 511L961 500ZM900 661L900 692L881 706ZM983 415L982 448L959 447ZM945 763L950 791L929 800L924 772ZM1046 626L1041 659L1022 646L1026 613ZM1078 706L1080 728L1068 725ZM1261 711L1267 731L1258 744L1252 724ZM1281 570L1304 585L1302 595L1279 579ZM1093 697L1099 712L1092 717L1086 702ZM1157 436L1160 470L1151 474L1148 440ZM1335 668L1318 680L1302 675L1319 663ZM1157 645L1158 672L1140 685L1139 658ZM858 586L866 604L855 612ZM1000 644L997 670L979 674L982 648ZM1142 646L1129 656L1126 644Z"/>
<path fill="#c95c84" d="M1143 479L1139 501L1120 501ZM953 611L922 627L923 602ZM1165 378L1171 394L1159 396L1153 381ZM1288 500L1272 527L1264 514ZM852 542L884 558L868 575L836 559ZM908 664L920 685L909 691L897 670ZM940 625L928 643L912 637L924 618ZM1065 749L1061 777L1045 767L1049 739ZM985 452L1000 474L978 474ZM957 789L927 800L928 785ZM1167 689L1147 701L1138 697ZM876 374L877 408L850 401ZM1076 754L1055 764L1055 754ZM998 733L992 750L984 746ZM922 574L920 599L904 602ZM969 362L953 373L945 364ZM1080 580L1098 590L1094 595ZM1296 486L1286 515L1274 515ZM1215 645L1214 666L1204 662L1205 641ZM911 431L909 447L904 445L906 429ZM1089 711L1101 736L1092 745L1079 720ZM1000 788L1002 816L986 821ZM923 719L938 750L921 772L906 742ZM1311 439L1319 455L1313 456ZM1146 371L1160 398L1154 406L1141 379ZM899 721L883 752L865 751L882 721ZM1331 397L1354 407L1341 415ZM1077 775L1088 806L1073 817ZM1249 542L1231 571L1215 571ZM1069 582L1057 609L1048 604L1060 577ZM873 658L863 676L857 668ZM1162 750L1144 758L1138 754ZM1101 699L1098 715L1088 710L1091 693ZM1157 668L1174 681L1166 694L1149 682ZM1253 512L1280 531L1278 549L1251 530Z"/>
<path fill="#b94a68" d="M1051 714L1051 739L1033 742L1034 717ZM1039 672L1027 701L1011 704ZM1151 684L1161 710L1147 707ZM984 569L985 596L968 604L966 577ZM899 541L913 551L911 564ZM1295 702L1301 719L1294 729L1289 711ZM1159 626L1183 642L1180 653L1156 637ZM1047 437L1035 470L1024 471ZM1172 497L1140 511L1129 485L1160 471ZM1254 593L1285 606L1275 622L1243 609ZM1232 515L1243 532L1235 541ZM1315 665L1321 680L1313 688L1307 673ZM958 516L949 539L933 533L943 510ZM1170 610L1166 631L1157 630ZM1061 585L1077 610L1055 612ZM850 680L836 705L816 701L830 677ZM945 609L944 636L929 645ZM1191 632L1183 646L1177 640ZM1192 674L1190 692L1180 688L1182 671ZM1153 497L1137 507L1136 502L1152 491ZM951 566L956 598L932 588ZM1059 452L1077 464L1073 474L1054 462ZM1320 649L1341 660L1343 676L1322 664ZM1257 742L1257 761L1248 765L1248 746ZM935 516L905 530L893 524L923 509ZM1285 381L1295 406L1280 404L1270 379ZM1281 782L1307 793L1292 804ZM1056 378L1064 399L1046 404L1038 383ZM1016 730L1046 749L1036 773L1006 755ZM983 514L979 538L963 530ZM1234 641L1234 668L1216 663L1216 635ZM1055 387L1069 419L1057 428L1043 396ZM842 530L844 559L833 562ZM1311 634L1305 658L1298 653ZM1284 585L1291 610L1278 609ZM982 612L995 631L985 643L972 624ZM900 383L903 400L891 404ZM875 755L901 769L903 782L876 768ZM1049 761L1072 774L1058 782L1036 769ZM998 478L1010 511L984 517ZM1149 635L1144 652L1136 652L1141 634ZM1214 385L1210 416L1195 420L1199 389ZM1322 431L1299 445L1300 425L1323 411ZM1163 476L1172 492L1169 498ZM925 630L939 662L919 661Z"/>
<path fill="#a23a68" d="M1055 717L1057 744L1044 743ZM873 400L871 418L862 422L864 403ZM1052 438L1063 466L1052 467ZM1215 479L1199 506L1189 507ZM1311 562L1330 588L1312 605L1293 579ZM1142 428L1117 440L1107 426L1133 414ZM861 435L887 454L877 458L851 439ZM1142 572L1172 592L1159 600L1130 581ZM963 686L965 704L953 706ZM1290 690L1276 709L1268 710L1282 690ZM1203 386L1190 413L1174 411L1186 384ZM1274 460L1284 480L1270 492L1260 472ZM1318 647L1331 681L1310 687L1297 654ZM941 767L939 785L928 786L930 768ZM1078 541L1061 567L1037 569L1054 543ZM1062 635L1046 642L1039 630ZM1130 431L1114 438L1110 431L1127 424ZM1267 706L1262 722L1258 717L1263 702ZM905 785L899 804L892 802L898 784ZM1018 641L991 661L970 654L997 634ZM1018 413L1026 432L1016 440ZM951 495L951 525L935 519ZM1034 723L1023 739L1016 730ZM1065 787L1063 805L1055 802L1057 784ZM1111 566L1100 595L1091 590ZM999 439L1027 455L1027 466ZM918 602L915 624L906 617ZM1089 588L1098 601L1091 606L1082 592ZM970 397L959 427L948 424ZM941 684L950 701L938 708ZM1212 697L1236 707L1225 714Z"/>
<path fill="#b94a68" d="M988 415L977 442L962 426L973 399ZM1057 502L1039 510L1031 503ZM898 610L899 629L886 631L885 611ZM1079 617L1071 643L1054 637L1062 611ZM1230 443L1238 465L1231 466ZM1054 514L1052 525L1055 525ZM1175 424L1195 436L1192 447L1172 435ZM964 707L966 723L961 724L959 708ZM1057 771L1062 783L1056 791L1051 779Z"/>
<path fill="#b5446d" d="M1173 709L1171 742L1150 727L1153 694ZM993 705L988 712L989 713ZM859 699L869 709L871 707ZM891 526L880 537L882 538ZM1179 578L1180 589L1181 589ZM1269 389L1261 401L1263 403ZM1220 694L1223 714L1213 711L1209 691ZM1336 667L1326 694L1315 684L1325 657ZM1226 601L1221 614L1211 612L1215 600ZM1178 738L1179 749L1181 748Z"/>
<path fill="#a23a68" d="M1068 516L1093 526L1080 536L1055 526ZM1210 640L1221 672L1210 676L1199 643ZM1046 511L1036 526L1028 525L1038 510ZM1232 445L1225 474L1210 476L1217 447ZM1124 352L1126 366L1128 365ZM884 780L888 788L889 788ZM1083 493L1105 503L1096 515L1074 505ZM945 767L950 781L943 780Z"/>
<path fill="#c45580" d="M1292 559L1291 592L1275 598L1276 565ZM1302 626L1304 654L1288 667L1286 638ZM1041 767L1048 779L1041 782L1035 770ZM964 621L975 635L969 639ZM1139 387L1138 393L1141 393ZM918 773L909 788L903 777ZM986 614L972 628L976 631ZM1030 480L1020 489L1021 491ZM999 405L990 427L994 428ZM1111 528L1101 552L1083 556ZM1324 739L1321 763L1326 763ZM853 514L859 521L861 519Z"/>
<path fill="#b2477a" d="M1114 400L1091 418L1073 404L1096 386ZM1147 639L1167 667L1156 694ZM915 644L922 660L915 673ZM928 780L909 794L900 781ZM1073 472L1083 498L1069 496L1060 471ZM1163 638L1166 657L1155 654L1152 636ZM949 361L958 371L959 369Z"/>
<path fill="#c95c84" d="M855 684L865 699L854 701L845 685ZM1005 497L1009 508L1011 506ZM1301 784L1309 799L1299 810ZM854 723L852 742L837 742ZM881 352L880 362L883 362ZM991 730L990 741L992 741ZM1280 416L1300 426L1304 444L1284 434ZM1173 433L1178 445L1173 452L1168 441ZM947 730L948 741L950 741ZM1099 535L1100 554L1087 554L1087 536ZM956 407L952 409L953 410ZM1267 717L1255 735L1240 725L1253 707Z"/>
<path fill="#c2507a" d="M877 584L865 611L848 595ZM1160 459L1147 480L1132 482L1145 461ZM1220 734L1225 744L1229 741ZM1036 398L1034 404L1036 404Z"/>
<path fill="#a83a62" d="M979 568L978 592L970 587ZM1037 732L1025 752L1017 750L1029 730ZM1142 792L1129 810L1125 802L1138 785ZM1217 681L1221 702L1210 708ZM1085 778L1086 788L1088 787ZM1306 427L1328 441L1326 456L1305 442ZM912 760L913 771L915 770ZM1153 664L1148 673L1150 674Z"/>
<path fill="#bd4c76" d="M971 588L982 604L976 608L965 591ZM1298 389L1311 415L1290 413L1276 386ZM1263 619L1253 623L1255 626ZM903 446L898 449L899 450ZM1258 730L1249 754L1236 752ZM1114 464L1110 481L1103 482L1107 465ZM941 631L955 637L949 646L935 639ZM1076 564L1079 575L1082 573ZM999 539L999 549L1001 549ZM1082 472L1077 490L1081 491Z"/>
<path fill="#8aa4ec" d="M970 710L978 718L979 717ZM1209 630L1215 643L1217 642ZM1137 790L1145 799L1147 797ZM1172 422L1188 431L1186 445L1171 436ZM868 752L877 773L862 784ZM1328 555L1335 576L1324 575L1316 554ZM907 510L896 517L897 519ZM1323 430L1332 442L1321 446ZM973 465L968 478L971 479ZM898 559L908 569L909 568ZM958 727L975 739L962 745Z"/>
<path fill="#c890ec" d="M1049 543L1053 556L1056 555ZM1025 657L1036 666L1038 664ZM1096 579L1093 584L1095 585ZM964 778L953 785L954 787ZM964 379L963 395L967 395ZM955 487L954 500L957 500Z"/>
<path fill="#f06a70" d="M1153 619L1151 634L1144 637L1145 622ZM955 531L953 540L955 540ZM1077 640L1083 644L1081 646L1075 642ZM974 363L982 382L967 390L959 370ZM898 427L890 432L891 433ZM1323 411L1324 417L1327 415ZM988 570L992 582L993 581ZM1220 638L1240 651L1237 666L1217 653ZM1240 406L1243 425L1233 434L1230 415ZM1206 737L1203 746L1200 744L1202 735ZM1025 638L1021 643L1022 643ZM1334 353L1326 370L1332 372ZM1085 638L1081 651L1086 651ZM1291 372L1283 376L1284 372L1291 368ZM946 493L936 499L938 501ZM1299 596L1298 601L1301 601Z"/>
<path fill="#f08aa0" d="M1316 446L1311 456L1307 455L1313 446ZM951 396L945 415L930 420L937 400ZM886 703L883 712L887 712ZM1021 546L1023 571L1013 576ZM1163 579L1167 588L1168 587ZM1159 423L1161 441L1163 441ZM1278 722L1269 728L1271 730ZM848 463L839 467L833 462L842 458Z"/>
<path fill="#f4a08c" d="M1301 428L1306 440L1299 443L1294 432ZM941 466L940 479L943 479ZM1016 561L1021 571L1016 574ZM1109 756L1105 769L1106 769ZM1078 530L1072 541L1067 536L1073 525ZM901 395L913 416L894 415L882 394ZM1072 778L1083 796L1087 793ZM1313 643L1312 666L1316 666Z"/>
<path fill="#e040a0" d="M980 483L981 499L975 499L974 484ZM874 359L868 362L870 364ZM865 732L849 752L851 754ZM1003 653L1002 665L1005 665ZM974 548L978 564L983 562ZM886 523L884 534L889 533ZM907 772L917 777L916 784L906 780Z"/>
<path fill="#a848d4" d="M856 694L851 707L853 708ZM1148 659L1149 666L1151 666ZM940 787L928 805L923 794L936 776Z"/>
<path fill="#e46aa6" d="M1112 641L1120 647L1117 650L1109 644ZM1076 673L1080 686L1082 685ZM995 682L991 696L996 697ZM894 693L889 703L891 703ZM1101 422L1096 429L1098 430ZM884 789L870 795L861 788L874 783ZM887 499L880 509L882 510ZM1078 380L1078 395L1081 394ZM1057 790L1055 798L1053 797ZM1238 666L1221 684L1223 686ZM1164 508L1159 516L1161 517ZM1128 527L1125 539L1126 539ZM907 575L901 582L904 584ZM1029 557L1029 566L1032 566ZM865 677L855 697L858 698ZM1084 353L1088 375L1077 381ZM1090 631L1093 641L1086 644ZM1006 525L1012 547L1003 551L996 529Z"/>
<path fill="#f7b890" d="M1206 707L1186 717L1185 705ZM1337 707L1350 715L1344 726L1331 718ZM1217 584L1220 606L1213 609ZM1288 464L1308 477L1297 485ZM1328 688L1331 696L1333 694ZM1241 672L1239 680L1241 680ZM1333 492L1326 510L1328 510ZM1003 522L1002 542L1007 542ZM1130 440L1132 449L1135 448Z"/>
<path fill="#e85890" d="M1289 364L1285 378L1288 379ZM1239 735L1232 743L1237 746ZM1315 517L1304 536L1293 534ZM930 568L933 581L934 581ZM1314 505L1305 520L1296 517L1305 502ZM1211 425L1208 431L1210 431ZM1081 762L1076 770L1078 771ZM1186 493L1188 504L1190 503ZM1224 374L1229 381L1227 386L1222 380Z"/>
<path fill="#f0a0b4" d="M977 605L969 610L970 612ZM1258 348L1254 354L1257 355ZM1290 755L1291 763L1292 762ZM1199 694L1201 705L1203 704ZM991 737L987 747L984 745L988 735ZM1335 485L1338 498L1341 497ZM1303 752L1301 763L1302 764ZM1071 728L1064 745L1058 741L1065 725Z"/>
<path fill="#f6c09a" d="M1162 687L1155 700L1157 701ZM906 758L895 764L893 753L904 747ZM862 649L857 665L863 666ZM1147 433L1137 447L1125 445L1135 431ZM942 392L939 400L937 398L940 390ZM896 668L906 675L904 685L894 678ZM1117 792L1121 804L1124 803ZM1132 430L1140 441L1135 445L1127 434ZM867 350L887 358L879 369ZM1168 566L1166 575L1168 575ZM1163 432L1154 450L1147 440L1157 422ZM871 735L867 748L857 742L862 730ZM851 793L850 800L852 800ZM1280 622L1276 631L1279 632ZM1169 487L1164 498L1166 499ZM1047 500L1059 519L1063 517ZM1015 580L1015 593L1016 593ZM1214 461L1222 472L1225 470Z"/>
<path fill="#d86ad0" d="M1056 398L1047 413L1038 410L1047 395ZM1084 664L1093 673L1094 672ZM868 445L872 455L873 455ZM1168 743L1167 757L1170 757ZM1076 610L1083 633L1076 641L1069 618ZM1024 453L1014 459L1012 454ZM1288 611L1300 619L1297 622ZM1055 697L1060 709L1062 708ZM926 673L938 690L929 701ZM899 657L895 676L880 682L884 663ZM1270 421L1283 430L1275 437L1262 428ZM976 687L959 694L959 687ZM1101 462L1105 468L1107 466Z"/>
<path fill="#ae4264" d="M953 687L950 698L951 698ZM865 690L855 698L856 699ZM926 440L934 456L928 461L919 445ZM1184 448L1193 458L1194 457ZM1316 545L1313 553L1315 554ZM1015 581L1013 588L1016 588ZM1057 548L1069 558L1065 562ZM870 445L863 460L867 461Z"/>
<path fill="#9a5ae0" d="M998 752L993 761L988 756L993 747ZM1083 569L1094 590L1085 590ZM854 410L852 420L855 420ZM1027 663L1020 675L1023 676ZM1063 478L1062 492L1065 491ZM940 436L955 443L951 454L935 447ZM947 524L957 542L962 538ZM865 702L857 723L847 722L855 701Z"/>
<path fill="#f29ab8" d="M1117 420L1113 444L1102 438L1106 414ZM845 770L850 783L852 782ZM908 792L911 812L901 819L898 800Z"/>
<path fill="#b060e8" d="M924 404L924 416L928 415ZM1172 639L1190 652L1182 656L1163 643ZM949 784L939 789L941 792ZM979 500L978 512L973 510ZM1262 554L1269 564L1273 560ZM1158 411L1147 421L1149 423ZM955 597L955 614L960 613ZM1096 498L1090 506L1093 507Z"/>
<path fill="#f08e80" d="M1244 539L1245 548L1240 548L1239 539ZM1123 495L1117 509L1104 511L1110 497ZM1073 549L1071 556L1074 556ZM1048 758L1042 767L1039 759L1045 750Z"/>
<path fill="#f9d4a8" d="M1057 639L1060 651L1051 656L1049 644ZM1273 552L1277 563L1273 564ZM1055 682L1039 689L1029 680L1045 673ZM985 632L979 643L980 644ZM1016 361L1012 377L1003 376L1007 361ZM1299 485L1308 495L1310 493ZM1126 435L1117 441L1118 443Z"/>
<path fill="#c4a0f4" d="M1108 676L1110 685L1108 685ZM1045 663L1054 677L1059 673ZM1266 419L1278 427L1272 435L1260 427ZM953 602L954 610L956 609ZM910 455L910 464L912 464ZM1107 602L1108 615L1112 614ZM896 496L897 513L885 517L884 500ZM1125 626L1120 633L1121 634ZM1020 687L1021 700L1023 699ZM1060 583L1048 591L1050 593ZM1177 771L1164 778L1165 781Z"/>
<path fill="#f5b0a0" d="M1001 540L997 552L1000 552ZM1321 734L1317 740L1318 741ZM1334 427L1334 440L1336 440ZM1012 643L1020 647L1013 651ZM997 671L1001 680L1004 678ZM1294 552L1279 563L1275 551L1289 540ZM1089 678L1096 691L1091 693ZM1246 437L1236 457L1229 457Z"/>
<path fill="#f4a888" d="M1261 572L1257 583L1259 583ZM1290 614L1287 623L1279 622L1282 613ZM1234 749L1224 756L1226 758ZM1311 358L1311 369L1314 368ZM1177 635L1177 650L1178 650ZM1306 615L1303 625L1305 625ZM913 422L908 435L910 435ZM1021 417L999 425L1000 417L1022 408Z"/>
<path fill="#a880e8" d="M1101 680L1099 688L1103 688ZM1117 727L1113 742L1117 742ZM1319 665L1330 684L1324 688ZM1193 598L1194 609L1195 608ZM913 396L918 402L920 399ZM1184 468L1175 475L1176 476ZM1067 484L1057 507L1052 500L1062 478ZM1235 724L1237 748L1220 751ZM1138 720L1138 729L1135 729L1135 720Z"/>
<path fill="#f8c8b0" d="M1246 778L1244 788L1248 788ZM1145 666L1141 679L1143 680ZM1332 475L1330 485L1332 485ZM946 389L954 410L958 408ZM1042 614L1037 623L1040 624ZM1182 550L1180 560L1182 560ZM1261 464L1263 480L1255 482ZM1304 618L1305 634L1308 634ZM1013 686L1023 699L1025 697ZM1092 504L1088 511L1084 511L1089 503Z"/>
<path fill="#b07ae6" d="M1118 606L1125 629L1119 636ZM1217 511L1218 519L1220 519ZM1003 551L1003 568L991 562L991 545ZM969 554L971 561L973 560ZM1112 518L1102 526L1106 530ZM1189 498L1188 517L1194 516ZM852 355L850 361L852 362ZM923 541L934 556L931 563ZM1026 391L1028 408L1032 406ZM875 573L893 584L884 589ZM963 596L964 606L961 608ZM899 616L890 621L891 623Z"/>
<path fill="#d04aa8" d="M1110 741L1116 759L1107 762L1101 744ZM877 399L876 408L878 408ZM896 555L896 562L898 561ZM1087 631L1093 647L1087 651ZM956 398L948 404L949 405ZM1292 702L1289 708L1291 709ZM1224 699L1231 722L1212 727L1205 704Z"/>
<path fill="#5fc4c8" d="M1180 553L1172 559L1173 560ZM900 734L909 743L910 742ZM1071 485L1059 501L1055 490L1067 474ZM1326 622L1319 627L1319 628ZM988 580L993 587L996 585Z"/>
<path fill="#a858d8" d="M1335 562L1339 583L1342 583ZM1205 611L1214 622L1216 620ZM1041 687L1034 691L1036 693ZM1196 614L1207 630L1210 627ZM1006 606L1007 617L1009 617ZM1201 768L1206 780L1207 780Z"/>
<path fill="#6ab0e4" d="M1039 550L1034 553L1035 555ZM930 703L941 711L935 717Z"/>
<path fill="#d86ad0" d="M990 616L986 622L987 622ZM989 782L984 806L988 806ZM1248 400L1240 404L1242 406ZM980 513L977 518L980 519ZM1009 525L1006 541L1010 541ZM1051 379L1055 389L1051 389L1047 379ZM1162 558L1168 580L1163 585ZM1087 507L1083 518L1084 518ZM1076 738L1073 744L1076 744ZM884 606L873 614L874 615ZM894 706L898 714L895 715L891 707ZM1076 384L1087 401L1075 412L1063 395ZM1014 707L1009 716L1013 717ZM1261 767L1261 777L1264 777ZM1153 760L1160 773L1164 771ZM1326 350L1322 371L1326 372ZM1128 529L1125 542L1128 542ZM1062 497L1072 513L1066 516L1055 501ZM852 448L846 457L847 458ZM880 478L889 487L890 485Z"/>
<path fill="#d04aa8" d="M910 489L904 499L905 500ZM952 572L949 584L952 585ZM894 747L893 760L883 760L883 747ZM952 369L958 375L959 373Z"/>
<path fill="#8aa4ec" d="M1249 621L1252 641L1255 640ZM943 750L936 755L938 757ZM1308 672L1310 687L1314 686ZM1039 794L1048 813L1040 818L1031 799ZM950 607L942 613L944 614ZM1300 614L1301 627L1303 626ZM863 738L860 756L847 752ZM1055 474L1053 492L1042 495L1045 477ZM1180 726L1186 742L1189 741ZM1169 418L1168 430L1169 430ZM1124 735L1125 746L1126 745ZM1030 372L1032 380L1035 379ZM1283 471L1280 483L1282 484ZM1283 498L1276 503L1277 504ZM1276 649L1281 661L1285 658ZM1037 724L1038 740L1029 741ZM1091 574L1082 581L1083 582ZM1022 439L1032 455L1026 456ZM1297 562L1298 571L1300 570Z"/>
<path fill="#f8c8b0" d="M1196 454L1207 462L1203 467ZM1006 533L1018 553L1021 551ZM872 405L875 412L876 412ZM1233 701L1241 711L1243 709ZM1281 400L1284 411L1287 409ZM1288 539L1283 548L1286 549Z"/>
<path fill="#e46aa6" d="M1308 760L1295 766L1294 757ZM1268 778L1261 789L1266 791ZM1174 786L1168 799L1170 799ZM1085 639L1087 657L1082 658ZM1032 491L1026 500L1031 501ZM986 602L980 607L978 603L984 598ZM1018 469L1028 475L1022 481L1012 474ZM1141 412L1133 423L1135 424ZM1085 719L1085 730L1088 730ZM900 683L894 697L881 699L887 684ZM1174 417L1178 426L1175 428ZM1340 445L1344 455L1345 454ZM847 621L829 634L824 626L842 613ZM1226 699L1227 719L1218 715ZM1050 375L1041 399L1044 400Z"/>
<path fill="#bd4c76" d="M1287 406L1276 423L1271 417L1283 400ZM1154 740L1147 754L1135 753ZM861 588L857 596L860 596ZM1260 454L1261 463L1264 462ZM1003 740L1008 752L1012 749ZM987 456L987 474L973 476ZM996 644L996 664L985 671L986 651ZM879 386L888 403L882 407L874 390ZM1184 522L1181 545L1165 552L1167 528ZM888 405L890 420L893 419ZM1014 655L1009 657L1011 659ZM880 418L864 425L855 419L871 412ZM1339 696L1339 707L1342 707Z"/>
<path fill="#f29ab8" d="M903 372L917 379L911 383ZM1281 477L1278 494L1281 494ZM891 584L890 590L892 590ZM1142 392L1133 396L1133 390L1142 386ZM962 505L969 523L956 530ZM1132 726L1127 732L1130 733ZM1120 491L1103 509L1106 511ZM1054 689L1058 702L1061 701ZM915 437L908 454L898 444L905 426ZM940 427L957 436L945 445ZM969 614L959 630L954 620ZM994 728L976 736L974 727L992 720ZM1097 699L1105 708L1106 707Z"/>
<path fill="#c95c84" d="M869 782L874 795L876 794ZM844 682L850 691L853 689ZM970 405L966 415L962 415ZM905 619L890 635L893 638ZM1119 580L1118 585L1120 585ZM866 750L856 758L857 759ZM876 693L875 699L878 699ZM985 542L974 551L977 553Z"/>
<path fill="#c45580" d="M947 488L946 509L931 506L932 485ZM1263 656L1253 662L1254 664ZM1272 394L1261 402L1262 404ZM1211 791L1208 809L1210 810ZM1316 428L1313 438L1308 434L1311 424ZM1014 794L1019 807L1021 806ZM994 743L999 761L986 766L980 748ZM1000 747L1003 762L1006 761ZM1059 398L1077 410L1076 426L1058 415ZM1306 409L1311 432L1304 439L1299 416Z"/>
<path fill="#f08aa0" d="M1003 491L1001 500L1005 500ZM906 589L898 613L903 614ZM1078 457L1086 464L1087 462ZM850 390L847 395L849 396ZM842 646L844 656L838 653L836 644ZM846 605L845 628L849 627ZM1093 789L1089 799L1090 799ZM941 564L946 573L939 578L934 568Z"/>
<path fill="#b94a68" d="M1211 522L1204 535L1207 536ZM1238 685L1231 694L1234 695ZM965 576L958 589L961 590ZM1202 382L1201 393L1205 392ZM1028 706L1031 727L1036 726ZM1032 404L1029 415L1033 415Z"/>
<path fill="#f06a70" d="M981 443L977 460L980 460ZM1016 743L1013 764L1016 764ZM915 604L927 624L909 628L898 607ZM1228 666L1232 673L1227 673L1223 666ZM853 780L849 793L851 793ZM1261 369L1259 377L1261 377ZM1283 353L1283 361L1286 361ZM1282 724L1285 742L1288 741ZM1228 644L1239 649L1240 653L1228 648ZM1090 546L1091 555L1086 555L1085 545ZM930 378L923 384L927 386ZM884 442L882 454L885 455ZM1158 450L1165 469L1149 475L1143 455ZM846 548L841 555L842 556Z"/>
<path fill="#e85890" d="M1272 712L1271 720L1273 720ZM1075 754L1066 770L1060 758L1069 742ZM1161 676L1167 694L1160 701L1153 682ZM1234 448L1228 452L1227 448L1233 443ZM1323 634L1324 641L1321 641ZM1259 782L1265 802L1269 801ZM923 700L919 707L922 708ZM1319 727L1327 747L1316 755L1308 735ZM1134 497L1133 504L1135 504ZM1034 361L1031 374L1033 374ZM1195 705L1206 712L1201 716ZM1276 651L1276 657L1279 656Z"/>
<path fill="#f5b0a0" d="M1275 536L1277 554L1264 549L1261 531ZM1071 717L1065 726L1067 727ZM972 389L963 403L951 402ZM1136 387L1141 399L1134 401L1129 389ZM1335 466L1332 479L1334 479ZM1061 384L1055 387L1056 388Z"/>
<path fill="#e040a0" d="M868 581L858 596L853 594L863 579ZM941 769L934 781L938 783ZM1091 432L1088 457L1091 457ZM1188 450L1190 458L1192 458ZM1229 386L1237 391L1232 393L1224 388ZM1092 444L1096 456L1098 455ZM897 373L889 385L891 386ZM960 714L971 732L975 728ZM1089 411L1081 414L1076 411ZM1233 387L1226 400L1230 402ZM1181 350L1177 356L1179 356Z"/>
<path fill="#b5446d" d="M1285 418L1285 423L1287 423ZM946 415L927 425L915 417L934 407ZM1261 462L1251 479L1236 479L1247 462ZM1295 576L1284 598L1267 588L1278 567ZM1022 528L1024 542L1017 542L1015 528ZM1272 652L1272 676L1275 676Z"/>
<path fill="#a23a68" d="M1126 499L1142 510L1135 515ZM1010 462L1002 468L1003 469ZM1241 371L1249 378L1250 377ZM1237 578L1235 589L1228 590ZM1314 542L1296 553L1287 550L1305 539ZM1276 469L1277 481L1268 476ZM999 467L997 477L1003 476ZM1134 721L1132 730L1135 731ZM1303 644L1298 660L1292 660ZM1275 483L1299 492L1291 499L1267 490ZM1257 611L1247 627L1252 629ZM865 689L860 699L863 700Z"/>
<path fill="#a83a62" d="M1222 612L1231 620L1232 619ZM962 509L962 530L950 537L951 515ZM946 402L948 411L950 410ZM1278 740L1284 749L1279 752ZM1257 364L1271 385L1254 395ZM943 526L947 532L950 530Z"/>
<path fill="#ae4264" d="M1152 715L1140 724L1141 725ZM932 795L931 809L933 809ZM1318 741L1318 748L1321 748ZM1049 701L1049 713L1052 712ZM1268 549L1273 560L1275 559ZM859 784L862 798L864 798ZM1018 486L1017 494L1020 494ZM1120 579L1113 584L1114 585ZM895 563L895 568L898 567Z"/>
<path fill="#f7b890" d="M1135 642L1136 654L1131 651ZM1079 604L1076 608L1077 609ZM1278 376L1286 384L1287 383ZM1038 440L1040 450L1033 450L1031 440ZM1139 729L1140 738L1135 738L1135 729ZM1216 704L1216 710L1219 709ZM1126 787L1136 796L1137 795Z"/>
<path fill="#b07ae6" d="M1031 505L1018 511L1016 507ZM1032 433L1024 438L1026 440ZM953 662L958 680L950 683L946 664ZM858 656L858 671L861 670ZM936 444L934 451L937 451ZM1095 784L1094 807L1082 806L1082 782ZM1319 455L1317 464L1313 463L1315 455Z"/>
<path fill="#f08e80" d="M1072 456L1079 475L1066 473L1059 453ZM1246 430L1242 442L1244 443ZM1024 627L1027 636L1028 635ZM1007 468L998 475L1000 476ZM1191 707L1188 712L1191 713Z"/>
<path fill="#c4a0f4" d="M1012 350L1003 372L991 366ZM1288 658L1285 676L1287 676ZM873 759L876 768L878 767ZM1083 536L1083 555L1068 560ZM1240 568L1226 579L1217 571ZM1025 663L1029 676L1022 680L1019 666ZM983 566L978 578L981 579ZM967 774L966 794L956 788ZM1154 637L1164 646L1165 645ZM1230 497L1228 504L1224 505ZM982 573L978 583L971 583ZM951 717L936 728L929 722ZM1262 552L1253 557L1255 559ZM1258 669L1250 674L1249 670L1257 665ZM1126 589L1119 592L1120 594ZM923 700L909 716L911 718Z"/>
<path fill="#a848d4" d="M1006 677L1013 702L1017 700ZM942 515L936 519L938 521ZM1264 650L1260 661L1264 662ZM996 602L990 607L991 608ZM874 353L865 360L866 361Z"/>
<path fill="#c890ec" d="M1219 523L1222 527L1224 525ZM1331 616L1323 631L1317 630L1324 614ZM901 460L881 471L876 459ZM1079 630L1076 636L1079 636ZM865 668L861 679L866 679ZM1117 488L1124 493L1123 496ZM910 539L895 545L890 542ZM905 592L915 606L908 619ZM919 468L921 474L923 472ZM1189 681L1197 690L1199 687Z"/>
<path fill="#b2477a" d="M1027 412L1033 422L1029 423L1023 414ZM1048 401L1055 424L1059 423ZM1124 580L1119 591L1114 589L1118 578ZM1276 574L1257 583L1248 575L1267 566Z"/>
<path fill="#f0a0b4" d="M1253 747L1253 758L1255 757ZM925 511L930 524L932 523ZM964 399L969 408L965 409L960 401Z"/>
<path fill="#f4a888" d="M1100 720L1103 731L1098 737ZM1022 787L1026 796L1028 795ZM1048 697L1057 720L1039 719L1030 695ZM1337 383L1331 398L1326 397ZM998 473L1006 480L1007 479ZM1136 759L1127 766L1131 769ZM1191 590L1191 601L1194 600ZM952 522L957 535L951 538ZM1331 607L1325 610L1326 612Z"/>
<path fill="#c2507a" d="M1288 726L1282 738L1284 739ZM1292 479L1303 488L1304 487ZM953 575L954 587L945 587L944 575ZM1280 390L1278 403L1281 403ZM1075 784L1080 808L1066 802L1062 778Z"/>
<path fill="#f6c09a" d="M1196 664L1204 669L1199 671L1192 666ZM1049 708L1045 714L1047 715ZM971 626L963 636L955 635L963 624ZM1031 464L1033 479L1026 479ZM1217 748L1216 755L1217 755ZM895 408L901 412L901 417ZM861 698L845 707L840 700L856 691ZM1338 521L1332 534L1335 535ZM939 721L941 726L942 725ZM1001 455L997 464L1000 465ZM864 706L874 710L873 714L864 710ZM1116 419L1114 427L1115 427ZM958 779L945 787L946 789ZM1025 726L1017 729L1013 727L1021 724ZM1171 652L1177 665L1179 664ZM1248 641L1245 646L1246 646ZM1334 522L1333 536L1337 536ZM1237 621L1242 641L1233 649L1228 629ZM1316 353L1321 366L1311 365ZM951 391L956 399L952 402ZM1266 554L1257 575L1249 575L1258 554ZM1304 433L1299 445L1302 446ZM934 441L935 452L937 451Z"/>
<path fill="#a880e8" d="M954 688L957 701L960 700ZM1211 571L1215 585L1209 591ZM965 708L962 731L952 727ZM1030 557L1037 564L1039 562ZM1297 676L1317 684L1309 689ZM1248 795L1244 801L1247 802Z"/>
<path fill="#a858d8" d="M953 780L953 792L955 792ZM1270 577L1282 586L1280 590L1268 581ZM1188 374L1190 385L1193 383ZM1186 513L1184 526L1185 526ZM1153 742L1153 761L1142 754ZM1257 396L1260 404L1261 404ZM1336 444L1330 451L1326 447L1331 440ZM1188 733L1181 748L1172 745L1178 730ZM1262 368L1265 383L1255 390L1253 375Z"/>
<path fill="#f9d4a8" d="M1308 672L1308 677L1311 677Z"/>
<path fill="#b060e8" d="M867 537L866 547L868 547ZM929 496L923 507L928 509ZM1033 565L1050 579L1045 586ZM1124 450L1129 462L1125 465ZM853 782L858 794L849 792ZM1112 596L1110 613L1103 608ZM871 662L864 675L866 676ZM941 613L938 617L940 618ZM1000 760L1013 778L996 780Z"/>
<path fill="#f4a08c" d="M956 500L953 506L956 507ZM857 756L860 760L862 759ZM1030 508L1033 520L1036 519ZM862 405L859 416L852 418ZM1228 582L1220 598L1224 600Z"/>
<path fill="#9a5ae0" d="M930 359L929 367L931 367ZM919 349L915 368L904 369ZM1045 547L1043 554L1039 550L1041 543ZM1066 707L1072 711L1071 714L1065 710Z"/>
<path fill="#6ab0e4" d="M1224 740L1228 763L1212 765L1208 742Z"/>
<path fill="#5fc4c8" d="M905 427L896 433L898 435ZM990 357L989 369L995 368ZM1024 759L1021 763L1023 764Z"/>
<path fill="#8aa4ec" d="M1084 656L1092 660L1090 662L1082 658ZM1177 351L1178 366L1184 365ZM848 701L840 706L841 707ZM1117 635L1121 640L1123 638ZM1181 580L1180 597L1185 596ZM921 429L923 435L919 435L916 428ZM1253 724L1254 746L1239 739L1238 717ZM1152 596L1142 603L1144 605ZM981 434L985 450L989 448ZM1316 383L1298 397L1301 401ZM1180 536L1175 544L1177 545ZM1217 758L1219 770L1222 769ZM863 751L863 760L860 761ZM1150 634L1152 652L1157 650ZM1011 560L1010 569L1013 569ZM925 401L923 411L928 411ZM1012 361L1028 378L1029 376ZM1281 379L1293 385L1291 390L1279 384ZM1238 777L1241 798L1230 797ZM1246 631L1244 639L1245 639Z"/>
<path fill="#f7b890" d="M1182 674L1177 689L1181 690ZM1336 462L1317 477L1320 481ZM1060 424L1050 431L1052 433ZM1260 567L1268 587L1256 590ZM1238 365L1244 376L1248 372ZM1195 736L1189 755L1193 756ZM1001 704L1008 722L999 728Z"/>
<path fill="#c95c84" d="M874 587L872 593L874 593ZM1174 759L1185 775L1188 773ZM873 776L873 800L863 799ZM1122 640L1119 658L1123 658ZM1121 641L1120 647L1123 647ZM1122 750L1113 767L1105 763ZM1111 472L1100 481L1098 473L1109 464ZM1041 626L1053 635L1051 641L1039 632Z"/>
<path fill="#e85890" d="M1146 523L1145 537L1148 537ZM994 477L1003 494L1006 491ZM1098 656L1105 659L1105 665L1098 661ZM1268 625L1253 635L1243 630L1258 620ZM1259 426L1270 431L1266 440L1256 434ZM1161 794L1178 806L1173 817L1155 806ZM1251 646L1263 665L1258 677L1246 659ZM1158 684L1174 692L1168 702L1152 694ZM1289 724L1290 739L1283 740L1282 726ZM1109 708L1102 713L1104 715ZM1249 792L1250 802L1251 802ZM1304 594L1305 603L1307 602ZM1110 487L1112 493L1113 492Z"/>
<path fill="#e46aa6" d="M1337 368L1326 373L1322 364L1334 359ZM898 696L891 715L879 710ZM1191 350L1190 360L1192 360ZM986 745L985 751L988 751ZM1070 539L1069 544L1071 545ZM1272 744L1272 750L1275 750ZM1001 565L991 574L993 576ZM1006 656L1012 670L1006 677ZM1045 389L1040 399L1034 399L1038 389ZM1109 574L1105 580L1101 580L1105 574ZM1005 364L1015 369L1010 374L1000 370ZM1131 668L1137 680L1141 677ZM860 479L856 486L853 484ZM1017 384L1011 391L1013 392ZM866 520L864 532L867 532ZM895 581L890 590L893 591Z"/>
<path fill="#a880e8" d="M1000 477L1001 483L1002 482ZM1215 699L1217 712L1219 711ZM1159 497L1163 502L1164 501ZM923 678L912 686L914 689ZM948 617L958 626L959 623ZM1197 552L1197 566L1200 566ZM1289 699L1307 708L1302 713ZM1059 471L1048 477L1046 468Z"/>
<path fill="#f8c8b0" d="M1135 584L1134 590L1136 590ZM1062 413L1057 425L1054 421L1058 409ZM1307 581L1300 586L1302 588ZM1004 582L1020 600L1022 598ZM1288 502L1285 508L1287 508ZM1228 638L1227 649L1230 649ZM1037 543L1025 565L1028 566ZM1018 744L1013 746L1015 748ZM1024 671L1030 683L1034 680ZM1097 414L1084 423L1076 417ZM1152 383L1148 408L1151 408Z"/>
<path fill="#c890ec" d="M957 546L966 569L955 585ZM902 555L905 562L906 562ZM1018 511L1008 517L1009 519ZM843 732L852 754L833 757L824 735ZM940 391L944 402L941 406ZM954 603L959 609L961 607ZM915 486L911 507L901 508ZM1220 610L1213 625L1215 626Z"/>
<path fill="#b07ae6" d="M1194 762L1204 783L1198 789L1188 767ZM891 547L891 555L892 554ZM1157 737L1168 757L1162 764ZM913 556L914 571L916 570ZM880 470L876 473L877 474Z"/>
<path fill="#d86ad0" d="M1132 573L1136 586L1137 585ZM1263 489L1261 498L1267 497ZM1143 754L1141 763L1144 763ZM1307 601L1304 607L1307 608ZM1324 502L1313 511L1308 503L1319 495ZM888 712L891 731L883 735ZM1337 435L1335 446L1329 443ZM1277 669L1291 687L1293 685ZM862 391L869 397L870 395ZM859 556L863 565L865 564ZM1144 533L1139 546L1128 544L1134 531ZM1117 387L1137 397L1123 408ZM936 354L935 360L937 359ZM1038 567L1040 574L1034 572L1032 565Z"/>
<path fill="#f08aa0" d="M842 650L823 659L820 651L839 642ZM938 391L930 394L927 393ZM936 406L939 411L941 409ZM938 399L934 410L936 411Z"/>
<path fill="#b2477a" d="M930 453L927 459L929 460ZM1003 716L996 728L999 730ZM923 472L923 491L926 491ZM1136 576L1128 587L1121 581L1129 570ZM998 639L988 645L990 648ZM985 382L994 392L996 390ZM1006 411L1012 417L1013 416ZM1140 473L1163 488L1154 501L1131 487ZM1297 497L1309 503L1305 509ZM889 643L889 653L890 653ZM1073 672L1078 690L1081 689ZM1331 392L1340 400L1341 399Z"/>
<path fill="#f9d4a8" d="M1046 554L1044 563L1038 560L1040 551ZM1120 702L1118 715L1108 715L1109 702ZM1301 433L1301 454L1306 453ZM1157 491L1160 501L1163 500ZM1022 451L1019 462L1020 463ZM993 666L986 688L989 688ZM1133 689L1137 695L1139 694Z"/>
<path fill="#a848d4" d="M914 619L914 639L904 636ZM1041 747L1039 760L1042 760ZM868 489L877 496L870 500ZM1080 698L1089 715L1081 714ZM1007 725L1009 731L1011 731ZM987 363L986 377L988 377ZM1092 556L1094 564L1089 562L1088 554Z"/>
<path fill="#c2507a" d="M1052 423L1058 431L1052 433L1046 424ZM1007 796L1004 814L995 818L998 801ZM886 710L898 728L901 725ZM996 474L998 488L1000 487ZM976 577L977 586L980 585ZM1301 363L1308 373L1299 374L1292 364ZM1020 776L1013 787L1014 787ZM936 429L916 438L916 428L936 419ZM978 571L973 581L978 582Z"/>
<path fill="#f29ab8" d="M1147 549L1155 553L1152 558L1144 554ZM936 443L948 450L946 457L933 451ZM988 641L985 651L986 651ZM1036 357L1037 374L1041 374ZM1123 499L1110 508L1106 505L1118 496ZM1023 555L1016 572L1022 573Z"/>
<path fill="#f08e80" d="M1029 569L1031 576L1034 575ZM1090 466L1096 480L1093 483L1087 469ZM1113 415L1109 438L1114 439ZM998 755L1003 781L1007 780ZM1093 560L1103 580L1094 585L1084 565Z"/>
<path fill="#f6c09a" d="M1099 687L1095 697L1097 698ZM890 475L868 485L861 471L883 461ZM1040 708L1051 718L1052 716ZM950 399L942 422L947 424ZM878 732L870 755L876 756ZM955 499L952 506L954 507ZM1229 608L1222 619L1212 615L1219 604ZM988 619L980 624L982 626ZM1052 496L1053 510L1045 509ZM1136 425L1140 437L1130 440ZM1307 378L1309 385L1305 386L1302 378ZM1261 630L1257 651L1260 651ZM1207 737L1212 750L1214 749ZM937 762L934 778L924 773ZM1216 766L1218 775L1220 774ZM902 748L894 754L895 755ZM1078 706L1086 715L1087 713ZM1162 750L1168 768L1158 767L1153 749ZM1305 370L1306 380L1309 379ZM1220 545L1218 559L1220 560ZM1203 425L1211 437L1204 443ZM1056 586L1057 595L1060 594ZM1142 523L1149 537L1140 539L1133 525ZM951 711L959 733L943 731ZM851 696L852 704L846 704Z"/>
<path fill="#f06a70" d="M1307 585L1307 595L1302 594ZM968 768L963 792L966 792ZM1336 588L1336 601L1338 600ZM1252 391L1248 410L1250 410ZM948 769L944 777L947 778ZM861 589L867 602L859 600L853 588ZM1108 674L1105 680L1108 681ZM1299 726L1285 736L1272 732L1286 722ZM1252 537L1252 552L1255 551Z"/>
<path fill="#e040a0" d="M1090 368L1088 374L1090 374ZM1079 396L1075 407L1069 405L1073 394ZM1129 552L1126 565L1129 565ZM856 657L845 667L848 670ZM1212 715L1212 725L1215 724ZM1073 748L1069 758L1070 758ZM844 711L842 721L844 721ZM1007 790L999 795L998 789L1006 784ZM998 398L995 418L983 418L986 399ZM870 416L865 436L850 431L854 411ZM1152 449L1161 455L1158 457L1149 451ZM852 631L849 651L836 658L839 638Z"/>
<path fill="#ae4264" d="M1293 517L1297 527L1298 527ZM991 349L989 355L992 356ZM1064 561L1049 574L1052 576ZM981 571L990 581L991 579Z"/>
<path fill="#b94a68" d="M1196 613L1195 621L1197 621ZM1171 354L1162 379L1141 385L1150 360ZM904 525L905 542L907 542ZM943 528L931 537L926 533L938 523ZM1301 596L1310 606L1311 605ZM1224 538L1221 546L1223 546Z"/>
<path fill="#b5446d" d="M1289 625L1290 650L1281 652ZM1077 413L1085 420L1082 425ZM1227 424L1227 438L1216 435L1216 421ZM1027 729L1029 742L1020 749Z"/>
<path fill="#b060e8" d="M1021 785L1020 797L1023 796ZM949 487L950 507L938 503L936 484ZM867 527L869 533L870 533ZM1254 394L1255 403L1258 402ZM907 748L908 762L911 762ZM927 462L924 482L927 482Z"/>
<path fill="#5fc4c8" d="M1194 559L1207 566L1206 577Z"/>
<path fill="#c4a0f4" d="M1219 783L1240 792L1242 801ZM847 696L862 708L860 723L845 711ZM1091 621L1099 642L1093 645L1085 624ZM1032 656L1033 670L1025 672ZM1224 534L1219 549L1210 541ZM1248 565L1239 580L1243 581ZM1204 766L1226 775L1212 789ZM1084 643L1065 654L1060 640ZM855 648L853 654L855 654ZM1242 625L1237 638L1240 639ZM1332 693L1335 702L1337 701ZM892 348L895 362L892 366L889 351ZM1250 677L1261 695L1265 692ZM1046 788L1043 796L1037 798L1040 791ZM986 412L987 419L982 419ZM1322 774L1319 788L1307 789ZM1029 360L1023 372L1024 373ZM1060 690L1063 699L1060 703L1056 694ZM1122 652L1125 659L1120 659L1118 652Z"/>
<path fill="#f5b0a0" d="M1267 424L1270 438L1266 439L1262 425ZM1044 663L1047 674L1041 681L1038 669ZM1324 418L1330 425L1332 424ZM1067 396L1059 414L1063 415ZM1057 701L1063 714L1058 718Z"/>
<path fill="#f4a08c" d="M1132 534L1135 556L1124 565L1121 543ZM970 731L969 742L962 738L963 728ZM878 616L865 638L871 640ZM1081 510L1080 529L1071 533ZM1288 475L1290 481L1292 480ZM939 474L939 482L941 481ZM922 426L917 438L919 439ZM1034 395L1030 399L1033 400Z"/>
<path fill="#a23a68" d="M964 390L958 403L949 402ZM1325 653L1323 666L1312 667L1314 653ZM1206 586L1201 596L1202 597ZM1133 490L1132 503L1123 498L1125 485ZM1171 721L1168 726L1170 727ZM859 795L853 813L855 813ZM1213 445L1215 460L1218 459ZM1145 563L1144 575L1146 575ZM1150 528L1146 552L1149 552ZM1335 405L1327 411L1329 413Z"/>
<path fill="#f4a888" d="M1289 466L1290 478L1296 477ZM1191 454L1196 466L1198 465ZM1226 478L1216 482L1215 473L1225 469ZM1192 535L1191 544L1194 544ZM1309 408L1307 420L1303 422ZM919 417L922 422L924 420Z"/>
<path fill="#c45580" d="M905 671L899 681L901 682ZM915 431L916 447L910 451L909 435ZM1264 495L1260 513L1265 514ZM1285 558L1279 567L1282 568ZM1116 652L1110 677L1092 670L1098 645ZM1273 671L1278 676L1280 673ZM858 763L852 766L853 767ZM1035 646L1036 652L1038 652ZM1179 760L1180 773L1182 773Z"/>
<path fill="#9a5ae0" d="M1101 556L1083 566L1077 558L1095 548ZM1054 741L1056 746L1057 746ZM867 744L866 762L870 762ZM855 441L848 448L851 450ZM1099 362L1090 384L1082 382L1091 360ZM845 447L854 464L858 461ZM862 634L853 639L850 632L858 627ZM925 785L930 802L924 800ZM969 389L964 411L969 411Z"/>
<path fill="#a83a62" d="M951 426L954 440L957 439ZM1312 654L1312 665L1313 665ZM1308 747L1307 763L1301 758L1302 742ZM966 529L967 538L969 538ZM1231 699L1228 708L1230 709ZM1205 690L1208 709L1212 708ZM1227 667L1219 673L1222 675ZM1244 606L1241 618L1246 619ZM1021 668L1023 680L1026 679ZM927 755L935 766L939 763ZM1149 370L1143 394L1133 389L1139 364ZM1204 468L1207 478L1210 476Z"/>
<path fill="#f0a0b4" d="M1097 492L1085 497L1080 488ZM1303 699L1300 714L1303 714ZM1281 735L1285 741L1286 739ZM1271 473L1272 487L1264 487L1263 473Z"/>
<path fill="#bd4c76" d="M890 495L888 508L891 508ZM1281 780L1270 787L1270 781ZM1314 627L1331 639L1323 646ZM1166 708L1164 715L1165 715ZM996 645L1000 662L1002 662ZM1152 400L1151 406L1154 406ZM983 696L991 702L991 701ZM1058 420L1061 435L1063 434Z"/>
<path fill="#a858d8" d="M1316 483L1337 492L1329 508ZM1098 599L1096 619L1100 619ZM1231 493L1234 501L1228 500L1225 492ZM1083 551L1093 569L1097 566ZM1232 434L1227 443L1230 444ZM1157 500L1150 514L1143 513L1150 499ZM1136 645L1135 650L1137 650ZM1279 734L1286 742L1287 740ZM1100 596L1120 609L1120 628L1100 615Z"/>
<path fill="#d04aa8" d="M1115 731L1120 739L1118 742L1113 734ZM900 555L901 563L902 563ZM1072 793L1064 800L1068 802ZM947 779L970 788L963 796L939 787Z"/>
<path fill="#c4a0f4" d="M1216 538L1214 550L1216 550ZM991 420L974 434L979 438ZM877 557L883 570L885 569ZM1301 482L1303 497L1305 497ZM936 370L935 382L939 382ZM1121 791L1118 796L1120 797ZM1081 408L1089 413L1086 415ZM1161 353L1162 364L1156 361L1155 351ZM1276 606L1270 617L1272 618ZM898 735L903 748L898 752L892 739ZM972 609L980 627L968 637L960 620ZM1127 540L1124 560L1113 555ZM1293 389L1288 400L1291 401ZM862 439L870 445L868 451L860 445ZM848 677L847 687L849 687Z"/>
<path fill="#ae4264" d="M1011 675L1013 686L1017 684ZM1232 451L1228 455L1231 457ZM845 494L864 503L856 510L837 500ZM939 700L933 709L936 710ZM1066 647L1064 657L1067 657ZM1332 667L1340 687L1343 686ZM1073 350L1082 374L1068 389L1059 365ZM952 359L950 370L952 371ZM1095 606L1097 615L1099 615Z"/>
<path fill="#a83a62" d="M1270 777L1268 782L1269 783ZM1193 639L1192 648L1194 647ZM1029 711L1039 719L1040 718ZM1189 709L1195 724L1186 725ZM1117 457L1141 470L1134 486ZM891 411L878 421L867 411ZM893 719L909 739L910 737ZM1321 595L1314 615L1304 606ZM954 502L947 507L949 509Z"/>
<path fill="#9a5ae0" d="M1061 615L1078 626L1072 630L1055 618ZM1203 568L1200 575L1196 574ZM921 417L912 433L915 434ZM864 612L866 623L868 622ZM1188 425L1180 428L1181 424ZM867 515L854 522L843 516L857 509ZM879 768L873 785L861 789L866 771ZM1145 786L1148 812L1150 811ZM1011 568L1024 585L1026 583ZM884 612L879 625L874 622L879 609ZM1112 522L1108 530L1104 529ZM989 545L987 556L990 556ZM1135 698L1140 715L1145 713ZM1106 713L1097 720L1098 721ZM996 491L994 502L997 503ZM936 582L934 599L940 599ZM979 704L989 709L987 716L976 711Z"/>
<path fill="#f6c09a" d="M938 417L947 432L949 431ZM1064 533L1045 544L1036 535L1054 524ZM1181 748L1173 752L1175 754ZM1101 430L1101 450L1106 449ZM992 495L984 501L985 502ZM886 708L877 714L879 715ZM973 525L976 532L972 532ZM1271 424L1279 428L1276 430L1269 426ZM1121 522L1129 532L1125 539ZM1338 776L1342 787L1336 787L1332 776ZM1329 432L1327 455L1316 446L1318 423ZM986 475L985 483L988 483ZM899 754L889 770L894 772ZM1102 500L1100 513L1102 513ZM1036 507L1044 523L1048 520ZM1055 480L1045 488L1047 489ZM1314 774L1312 786L1314 786ZM945 657L933 677L921 670ZM912 510L919 520L915 521ZM1162 672L1151 691L1143 688Z"/>
<path fill="#f9d4a8" d="M1052 481L1041 497L1046 499ZM1130 405L1130 419L1131 419ZM1294 521L1291 527L1294 528ZM1134 630L1126 639L1128 641ZM1286 744L1276 751L1278 753ZM1326 649L1315 657L1310 652ZM1003 369L997 378L1000 380Z"/>
<path fill="#d86ad0" d="M1273 371L1275 387L1278 387ZM1207 526L1206 551L1198 548L1199 523ZM1041 532L1035 535L1033 529ZM1113 543L1117 555L1119 555ZM905 473L911 478L912 476ZM944 628L939 635L937 629L942 622ZM1173 675L1175 681L1177 680ZM967 599L953 619L943 620ZM1152 782L1147 785L1149 786ZM967 639L966 660L958 653ZM1210 775L1207 788L1209 789ZM985 676L985 686L988 686ZM1240 698L1232 719L1219 708L1227 687ZM1254 360L1257 371L1260 370Z"/>
<path fill="#b5446d" d="M888 416L886 427L888 428ZM969 379L964 389L966 390ZM1190 423L1192 437L1195 436ZM1061 543L1056 568L1061 569ZM943 658L926 676L929 678ZM1254 450L1253 457L1256 457ZM1006 417L1014 443L994 445L986 418ZM1056 783L1068 804L1073 801ZM1118 789L1121 799L1115 800ZM1319 500L1315 509L1318 510Z"/>
<path fill="#c890ec" d="M1138 777L1147 798L1141 807L1132 786ZM958 645L966 658L960 670ZM958 664L941 673L931 668ZM958 673L968 681L969 679ZM920 425L919 433L920 433ZM1090 678L1070 687L1068 672ZM966 793L960 797L961 799ZM1007 641L1014 658L1002 663Z"/>
<path fill="#f06a70" d="M975 769L973 783L976 783ZM1047 424L1046 445L1035 440ZM948 703L940 708L943 712ZM1168 664L1177 673L1179 671ZM1144 758L1142 776L1148 776ZM1279 717L1270 729L1276 732ZM962 665L957 673L960 674ZM1279 794L1282 812L1271 809ZM1197 617L1202 626L1197 628ZM1024 655L1043 669L1039 675ZM1233 463L1221 480L1210 477L1222 459ZM852 600L853 622L838 616L837 594ZM920 552L909 557L910 547L920 542ZM948 596L944 602L939 599L943 593ZM1177 467L1176 485L1181 484ZM983 600L972 619L977 621ZM874 677L872 690L875 690Z"/>
<path fill="#f4a888" d="M995 589L1008 598L1002 604L989 594ZM1280 589L1288 601L1282 601ZM942 377L939 388L941 388ZM1132 669L1131 677L1133 677Z"/>
<path fill="#f4a08c" d="M988 794L995 805L990 807L983 797ZM1218 684L1227 690L1225 699L1217 692ZM1071 526L1073 534L1074 534ZM946 479L944 484L946 485ZM1016 515L1026 530L1019 538ZM906 350L899 361L895 356L902 345ZM987 571L994 574L991 579L984 577Z"/>
<path fill="#c95c84" d="M845 380L846 386L847 385ZM910 573L886 583L872 576ZM1092 384L1093 388L1094 388ZM860 383L854 394L850 390L857 379Z"/>
<path fill="#e46aa6" d="M1195 655L1191 669L1193 669ZM1257 743L1267 753L1269 751ZM1038 372L1040 393L1032 398ZM1005 593L1013 604L1007 608L999 598ZM1118 491L1120 503L1123 502ZM1083 367L1070 376L1067 368L1081 359ZM951 358L945 379L928 372ZM1268 518L1265 528L1270 528ZM1237 551L1239 571L1225 570L1223 550ZM1294 352L1286 365L1289 366ZM907 520L894 530L892 525L905 515ZM893 453L903 463L904 462ZM1049 699L1054 712L1049 713L1043 700ZM1181 584L1199 596L1195 611L1177 599ZM950 671L939 678L940 680ZM1172 507L1163 515L1165 516ZM1283 544L1288 551L1290 549ZM1151 668L1150 679L1153 679ZM1051 563L1051 573L1054 572ZM846 387L849 396L845 395ZM1198 575L1191 590L1181 591Z"/>
<path fill="#a858d8" d="M1021 588L1032 596L1028 605L1017 596ZM1274 422L1284 429L1282 433L1272 426ZM1078 770L1083 779L1080 783L1075 774ZM1087 696L1102 703L1099 711ZM1292 722L1293 730L1295 729ZM1239 742L1245 751L1239 751L1233 742ZM1141 737L1141 749L1143 749Z"/>
<path fill="#b060e8" d="M1048 442L1058 450L1059 449ZM1084 772L1097 781L1095 793L1081 784ZM862 536L850 558L853 559ZM908 589L905 599L900 593L902 584ZM917 708L911 715L913 716ZM877 777L874 784L877 784ZM1203 651L1207 656L1208 654Z"/>
<path fill="#b94a68" d="M970 516L974 534L978 533ZM877 486L876 496L879 496ZM1284 465L1276 475L1278 476ZM1175 508L1175 522L1165 517L1165 503ZM1029 458L1036 465L1038 463ZM1299 643L1303 658L1308 655ZM960 784L970 801L962 802L953 786Z"/>
<path fill="#8aa4ec" d="M940 427L929 450L931 451ZM1191 464L1179 472L1174 469ZM1221 368L1227 372L1226 376L1220 372ZM1215 447L1199 460L1202 463ZM866 669L865 694L868 694ZM1337 745L1333 752L1327 750L1331 743ZM976 493L963 501L962 496ZM1198 641L1205 665L1198 667ZM1224 529L1222 541L1224 541ZM1284 617L1282 639L1272 643ZM1187 680L1184 697L1189 697ZM1040 529L1033 533L1029 528L1036 524ZM1035 764L1034 786L1022 784L1024 762ZM1024 526L1022 535L1017 536Z"/>
<path fill="#b2477a" d="M981 655L982 665L984 665ZM944 701L944 711L947 711ZM1174 366L1171 377L1173 378ZM1028 473L1023 481L1024 482ZM1219 668L1219 679L1214 684ZM1108 356L1092 364L1092 356ZM1164 716L1163 727L1165 727ZM1161 692L1153 711L1146 706ZM1100 757L1095 768L1090 763ZM1128 442L1151 456L1146 464L1123 450ZM1109 523L1093 544L1079 535L1094 514ZM1173 427L1173 440L1175 439ZM1213 539L1210 543L1211 544Z"/>
<path fill="#a23a68" d="M1147 723L1144 740L1146 741ZM1120 643L1121 654L1127 652ZM1273 792L1289 800L1286 806L1270 798ZM1052 764L1049 772L1051 772ZM1129 791L1119 798L1122 802ZM1148 780L1148 790L1150 790ZM843 364L846 376L837 380L834 367Z"/>
<path fill="#f5b0a0" d="M1339 724L1343 734L1344 733ZM1249 541L1256 550L1251 553L1245 544ZM1243 748L1247 763L1251 761ZM1230 486L1232 504L1236 504ZM1238 452L1248 466L1252 462ZM1270 790L1263 801L1259 799ZM1173 398L1170 412L1163 412L1166 398ZM1085 678L1081 690L1074 692ZM1325 626L1320 633L1322 634Z"/>
<path fill="#f7b890" d="M1287 529L1284 536L1286 536ZM1209 606L1215 612L1216 611ZM1260 464L1270 486L1265 492L1254 470ZM1105 719L1106 727L1109 726ZM1185 470L1183 476L1185 476ZM1266 753L1261 761L1264 762ZM1069 605L1070 614L1073 613ZM1230 776L1221 780L1219 778ZM1075 505L1065 526L1056 521L1066 501Z"/>
<path fill="#f29ab8" d="M851 724L854 738L847 743ZM994 369L993 376L995 376ZM929 376L933 385L934 385ZM1112 795L1104 800L1105 802ZM958 761L960 779L950 776ZM928 443L930 459L921 456L919 440ZM1082 553L1079 561L1081 561ZM950 458L963 465L960 469Z"/>
<path fill="#a880e8" d="M1317 451L1310 455L1308 452ZM1302 549L1296 572L1301 572ZM1319 371L1303 379L1302 370L1319 362ZM1126 359L1127 370L1124 369L1122 358ZM1159 621L1150 627L1153 629ZM1037 711L1027 720L1030 722Z"/>
<path fill="#f08aa0" d="M854 733L861 737L858 740L850 737ZM992 541L986 551L989 552ZM1207 404L1208 412L1203 414ZM856 666L854 677L858 677ZM1201 795L1204 805L1206 803ZM1067 357L1062 369L1057 368L1062 356ZM890 614L880 620L876 613ZM999 794L1004 800L1005 799ZM1000 635L1011 646L1012 645ZM975 638L962 644L960 636L973 630ZM967 581L955 589L956 590ZM1090 546L1075 558L1071 549Z"/>
<path fill="#e85890" d="M985 364L993 380L997 377ZM1243 635L1234 642L1235 643ZM1303 771L1296 792L1300 793ZM941 775L961 785L962 796L942 786ZM1252 571L1247 575L1250 576ZM923 712L923 723L926 723ZM1311 562L1312 573L1314 573Z"/>
<path fill="#f0a0b4" d="M1328 360L1320 376L1315 374L1323 358ZM1299 351L1296 358L1300 359ZM1124 391L1122 407L1112 405L1113 390ZM1285 764L1294 774L1295 773ZM1253 572L1251 585L1252 585ZM1337 349L1334 358L1337 358Z"/>
<path fill="#f8c8b0" d="M1166 733L1169 753L1173 751ZM1289 749L1279 756L1282 759ZM1260 376L1256 385L1259 386ZM1257 764L1253 777L1254 777Z"/>
<path fill="#b07ae6" d="M852 490L850 495L852 496ZM916 438L924 444L923 450L915 444ZM1056 644L1045 667L1049 668ZM1119 526L1116 543L1108 536L1111 519ZM1016 516L1014 524L1017 524ZM876 713L879 727L881 726ZM899 418L897 426L892 428L894 420ZM1025 549L1013 570L999 567L1012 547ZM856 598L852 622L854 622ZM842 496L862 511L858 524Z"/>
<path fill="#c45580" d="M1212 669L1205 674L1206 676ZM1014 517L999 532L1003 535ZM1124 483L1115 498L1102 496L1110 481ZM995 433L988 444L991 446ZM1199 561L1208 573L1203 583ZM1321 594L1319 611L1308 615ZM1257 542L1245 564L1250 566ZM874 627L873 640L863 639Z"/>
<path fill="#d04aa8" d="M920 653L922 664L924 664ZM852 584L851 598L852 598ZM906 719L903 724L904 725ZM1128 714L1132 721L1128 721L1124 714Z"/>
<path fill="#f08e80" d="M1220 592L1217 599L1219 600ZM1245 630L1234 638L1234 633ZM1277 619L1274 630L1276 630ZM1179 630L1184 639L1181 640ZM1327 424L1326 437L1328 437ZM1092 745L1075 753L1064 742Z"/>
<path fill="#e040a0" d="M849 656L843 660L844 662ZM1144 745L1135 749L1132 742L1141 737ZM1058 551L1069 561L1071 559ZM908 767L911 779L901 779L898 766ZM1056 505L1063 516L1058 517L1051 507ZM996 731L992 739L995 740ZM1091 365L1090 373L1094 372ZM1051 415L1054 428L1048 428ZM1071 395L1083 404L1083 411ZM930 592L920 609L926 611Z"/>
<path fill="#a848d4" d="M951 727L957 742L948 743L942 728ZM1295 453L1305 474L1286 475L1276 455ZM1041 373L1037 388L1039 388ZM904 385L911 408L902 407Z"/>
<path fill="#c2507a" d="M1236 677L1240 699L1234 705ZM1082 717L1087 731L1089 730ZM984 470L981 485L977 480L979 464ZM1182 764L1184 778L1187 777Z"/>
<path fill="#bd4c76" d="M1155 723L1153 732L1155 732ZM959 790L953 800L956 801ZM1021 520L1017 540L1020 540ZM1147 573L1139 578L1141 580ZM942 770L933 791L935 792Z"/>
<path fill="#6ab0e4" d="M1211 630L1203 641L1209 643Z"/>
<path fill="#c890ec" d="M1060 406L1055 413L1057 415ZM941 577L944 585L946 583ZM925 421L917 438L904 430Z"/>
<path fill="#b060e8" d="M927 455L929 463L931 462ZM855 628L852 632L854 633ZM1075 726L1071 730L1074 731ZM924 389L921 411L911 410L914 388ZM879 379L876 389L878 389ZM918 406L920 420L921 420ZM979 644L980 657L983 656ZM1053 446L1058 457L1050 456L1045 445ZM1134 630L1132 640L1128 638L1129 629ZM848 748L834 760L838 763Z"/>
<path fill="#9a5ae0" d="M869 626L866 631L868 632ZM1009 411L994 418L993 404L1008 398ZM945 588L941 598L937 595ZM1101 794L1097 807L1098 808ZM936 420L929 434L931 435ZM880 443L879 456L880 456ZM1213 541L1210 551L1215 552Z"/>
<path fill="#8aa4ec" d="M1238 462L1234 466L1236 467ZM1329 457L1325 467L1319 465ZM1311 637L1331 648L1325 652L1305 641ZM1185 402L1186 413L1190 412ZM987 364L990 379L982 387ZM1131 442L1119 450L1121 452ZM1013 451L1009 475L1011 476ZM1163 506L1168 516L1172 512ZM1146 673L1142 680L1140 679ZM1328 785L1323 797L1326 797ZM862 744L866 755L860 753ZM1207 647L1211 652L1212 650ZM1022 519L1025 525L1027 523Z"/>
<path fill="#ae4264" d="M1238 478L1239 486L1241 485ZM929 650L927 655L930 656ZM1193 616L1190 636L1176 634ZM1305 657L1306 671L1301 674ZM1001 660L995 669L1000 670ZM1117 415L1114 426L1116 427Z"/>
<path fill="#b2477a" d="M1202 357L1211 368L1213 367ZM1087 726L1069 733L1058 723ZM1150 748L1146 764L1148 764ZM1326 360L1310 373L1312 376ZM1183 708L1197 729L1200 727ZM1135 746L1134 753L1136 753Z"/>
<path fill="#e46aa6" d="M969 517L965 542L957 535L961 510ZM1070 774L1058 783L1062 786ZM893 794L885 807L876 806L884 793ZM1289 376L1283 387L1285 388ZM1038 515L1045 525L1041 525ZM898 601L907 615L898 617ZM1330 456L1325 477L1317 473ZM861 607L855 624L846 613L851 596ZM1018 585L1015 590L1017 591ZM1128 368L1122 372L1123 374ZM980 722L972 738L974 739ZM1301 444L1303 451L1305 450ZM1214 645L1234 655L1223 665L1202 655ZM878 559L870 583L873 584ZM1264 770L1259 773L1261 774ZM1147 414L1151 428L1153 427ZM997 791L993 794L994 795ZM1021 419L1035 425L1035 434ZM1132 690L1125 714L1117 714L1125 690Z"/>
<path fill="#c4a0f4" d="M1186 590L1192 601L1186 608L1180 597ZM958 500L972 520L967 532L953 512ZM926 773L925 782L929 782ZM1230 440L1230 452L1232 452ZM1019 750L1018 775L1024 775ZM992 664L974 682L976 684ZM857 598L861 611L862 611ZM894 459L891 474L893 474ZM949 661L938 668L940 670ZM1043 492L1046 496L1048 495ZM1111 550L1120 556L1115 563L1106 556ZM1049 790L1037 811L1033 805L1045 784ZM1336 785L1341 796L1336 798L1332 787ZM941 603L950 609L944 612L935 606ZM1128 442L1140 450L1136 462L1123 453ZM1307 705L1304 715L1300 714L1303 703ZM947 387L947 405L935 404L936 385ZM949 673L945 695L932 697L936 674ZM1038 687L1040 702L1043 701ZM1337 716L1335 722L1337 723ZM1143 594L1144 611L1134 614ZM1100 788L1103 808L1109 806Z"/>
<path fill="#a858d8" d="M1285 530L1287 544L1291 543ZM1111 558L1106 569L1109 569ZM1152 506L1156 519L1146 524L1143 511ZM1283 753L1286 766L1289 765ZM1105 688L1101 701L1103 701Z"/>
<path fill="#f9d4a8" d="M1327 750L1326 760L1330 760ZM1190 364L1176 376L1178 378ZM1295 502L1292 522L1279 513ZM891 630L888 644L883 640ZM1304 674L1312 681L1310 685L1301 678ZM1121 644L1100 652L1098 643ZM972 576L982 587L983 586Z"/>
<path fill="#c2507a" d="M1016 708L1024 724L1017 726ZM1058 457L1062 472L1067 469ZM982 501L984 513L979 514L977 502ZM1074 422L1068 432L1070 433ZM956 745L955 752L958 752ZM1323 713L1319 719L1321 720ZM1334 402L1336 412L1338 411ZM1080 745L1080 756L1074 757L1074 747ZM1036 498L1030 509L1033 510ZM1115 648L1115 661L1117 661ZM1017 706L1015 719L1021 718ZM945 425L940 435L942 436ZM907 560L914 567L916 566ZM1203 579L1193 588L1194 590ZM915 482L908 487L910 489ZM1111 554L1104 558L1105 559Z"/>
<path fill="#f4a888" d="M1161 524L1159 534L1161 534ZM1318 725L1319 734L1314 736ZM1101 704L1081 713L1071 701ZM1299 384L1297 390L1300 390ZM1032 666L1021 687L1026 689ZM1319 639L1320 654L1322 654ZM1227 710L1214 718L1216 720ZM1227 791L1226 805L1217 810L1219 796ZM1312 385L1301 392L1303 394Z"/>
<path fill="#f29ab8" d="M1120 729L1119 738L1120 738ZM920 495L931 504L932 503ZM947 474L947 496L931 492L931 470ZM1107 582L1113 603L1117 601ZM967 663L971 672L973 671ZM1079 551L1080 570L1085 569ZM887 489L891 504L893 503Z"/>
<path fill="#f7b890" d="M909 749L908 761L911 761ZM1259 592L1256 609L1251 605L1254 589ZM1130 736L1125 751L1120 752L1125 737ZM1288 627L1283 636L1284 637ZM1262 556L1272 578L1260 585L1250 564ZM1316 497L1302 506L1294 502Z"/>
<path fill="#f8c8b0" d="M889 782L899 790L900 788ZM1110 426L1130 441L1116 454ZM1264 509L1267 518L1269 517ZM1105 762L1112 775L1115 773ZM1273 471L1280 484L1275 484L1268 470ZM1015 585L1017 598L1020 597ZM1231 449L1227 454L1229 455ZM1167 366L1162 378L1164 379ZM1256 444L1239 457L1230 441ZM1169 524L1173 541L1175 541Z"/>
<path fill="#d86ad0" d="M1152 423L1143 430L1144 432ZM861 467L856 480L846 474L850 460ZM1297 443L1286 454L1288 456ZM887 696L891 705L893 704ZM941 530L946 540L947 539ZM1060 579L1072 594L1065 605ZM1209 510L1205 522L1207 523ZM1168 776L1163 799L1145 795L1150 772ZM1066 736L1073 749L1077 745ZM1141 584L1139 600L1144 600ZM881 597L886 620L879 623L874 600ZM1160 583L1156 595L1148 596L1152 584ZM1214 698L1220 722L1224 721ZM1324 552L1321 562L1316 557ZM864 604L859 615L861 616ZM957 474L959 484L961 484ZM974 455L982 461L980 463L971 457ZM1092 676L1074 689L1059 682ZM1185 590L1172 597L1168 587Z"/>
<path fill="#f5b0a0" d="M1285 460L1294 464L1292 472ZM1093 401L1086 419L1073 418ZM1302 557L1307 569L1303 571L1297 559ZM1223 644L1206 659L1210 662ZM967 432L961 444L963 445ZM1325 369L1319 379L1321 380ZM1282 721L1283 729L1284 729Z"/>
<path fill="#e85890" d="M1173 610L1176 620L1177 619ZM1146 541L1148 555L1150 554ZM1314 507L1322 518L1324 516ZM1029 646L1033 657L1027 665ZM1253 706L1242 712L1243 714ZM1098 489L1107 495L1104 499ZM1036 581L1033 586L1035 587ZM1161 384L1157 395L1149 392Z"/>
<path fill="#a83a62" d="M1292 458L1290 474L1281 475L1284 460ZM1087 350L1069 359L1058 352L1076 344ZM1057 594L1055 606L1057 606ZM863 399L860 408L863 408Z"/>
<path fill="#f08e80" d="M1024 575L1015 582L1017 584ZM1304 431L1284 444L1267 436L1286 422ZM1129 349L1130 359L1132 359ZM1201 664L1197 674L1200 675ZM1093 689L1073 700L1071 692ZM1254 361L1251 382L1241 380L1244 360ZM1314 456L1312 462L1315 462ZM1219 504L1219 511L1221 511ZM1315 452L1318 462L1319 462ZM1215 428L1225 439L1226 436ZM1338 359L1337 369L1332 371Z"/>
<path fill="#f06a70" d="M1085 577L1085 586L1082 586ZM882 487L874 493L878 496ZM955 466L960 477L962 475ZM1211 685L1201 700L1206 702ZM861 390L867 400L864 405L858 395ZM970 769L971 780L974 780ZM1335 440L1320 457L1324 460ZM1198 373L1194 389L1197 389ZM1047 405L1050 414L1051 413ZM1297 381L1306 395L1308 393ZM1222 365L1234 375L1233 381ZM1049 429L1058 450L1047 457ZM1160 656L1168 668L1171 664ZM1202 438L1202 446L1204 446ZM962 643L945 661L948 664ZM922 598L921 612L925 612ZM1022 547L1025 557L1027 556ZM1180 367L1175 375L1176 376ZM965 580L956 585L955 576ZM1247 445L1249 451L1252 450Z"/>
<path fill="#f0a0b4" d="M1251 374L1244 397L1247 398ZM1031 746L1035 766L1037 766ZM1057 401L1054 407L1050 406ZM1289 456L1293 465L1295 464ZM966 473L964 479L967 479ZM1103 560L1089 577L1091 579ZM1229 620L1235 641L1223 642L1217 622ZM1146 476L1143 489L1145 489ZM1328 534L1321 543L1324 545ZM1173 606L1154 617L1143 608L1162 596Z"/>
<path fill="#e040a0" d="M1105 556L1107 568L1112 565ZM1095 644L1104 652L1105 650ZM1092 407L1099 420L1096 424L1089 411ZM1107 637L1102 654L1096 654ZM1074 435L1086 442L1086 449L1074 443ZM844 362L841 373L844 374Z"/>
<path fill="#b07ae6" d="M1151 415L1148 420L1151 420ZM1036 747L1040 762L1029 766L1025 751ZM958 720L967 730L968 728ZM1275 641L1257 655L1249 643L1266 630ZM942 590L940 603L943 603ZM957 663L961 677L965 675ZM1135 537L1138 549L1139 549ZM1099 586L1090 593L1091 594ZM903 702L905 709L906 708Z"/>
<path fill="#b5446d" d="M916 682L914 702L903 697L905 677ZM958 351L962 373L956 378ZM1293 424L1284 429L1286 432ZM1257 390L1264 407L1253 407ZM965 644L957 661L948 652ZM1197 788L1195 800L1188 802ZM989 748L1008 761L1009 775ZM966 682L963 694L966 694ZM1334 726L1336 750L1324 760L1322 736ZM982 569L975 583L968 571ZM1146 753L1150 762L1151 762Z"/>
<path fill="#a848d4" d="M848 558L836 567L825 564L837 555ZM1156 709L1159 720L1161 719ZM1058 644L1039 656L1029 648L1048 636ZM866 492L852 500L845 493L859 486ZM964 501L970 507L972 504ZM963 779L968 792L969 791ZM936 737L956 749L945 763ZM997 534L1010 553L1004 563L991 545Z"/>
<path fill="#bd4c76" d="M897 777L906 798L888 804L879 783ZM1268 549L1254 556L1251 545L1265 539ZM857 369L844 376L842 365L854 358ZM1179 724L1187 745L1189 744ZM1253 428L1249 450L1253 450ZM868 658L887 667L879 678ZM1331 680L1334 694L1335 693ZM1045 662L1049 685L1042 690L1038 667ZM926 479L929 491L930 491Z"/>
<path fill="#f08aa0" d="M988 411L979 425L970 426L980 411ZM1067 378L1071 393L1062 400ZM975 718L973 727L976 728ZM961 671L955 677L956 678ZM928 774L928 797L915 792ZM978 628L979 640L981 640ZM903 510L911 521L902 522ZM868 756L847 765L847 747L867 739Z"/>
<path fill="#c95c84" d="M1234 638L1235 652L1238 651ZM1312 764L1301 788L1290 774ZM907 392L903 416L908 416ZM1172 469L1161 491L1167 493ZM1320 567L1310 575L1315 578ZM1221 548L1224 560L1227 559Z"/>
<path fill="#a23a68" d="M1306 524L1304 539L1299 535L1302 520ZM1179 506L1192 515L1192 522L1179 514ZM858 398L856 412L859 412ZM1185 416L1174 424L1165 420ZM1319 500L1331 506L1328 509L1317 504ZM1030 624L1039 632L1040 631Z"/>
<path fill="#f4a08c" d="M1072 385L1070 394L1075 394ZM856 531L846 538L847 539ZM1043 680L1039 686L1041 687ZM877 628L880 640L875 638L872 626ZM879 739L866 756L869 758ZM1047 403L1056 410L1052 412L1043 405ZM910 650L902 665L896 659L905 644ZM902 436L903 456L909 455ZM918 616L912 621L913 622Z"/>
<path fill="#b94a68" d="M1068 493L1087 503L1082 511ZM1006 505L1005 514L1009 514ZM1304 732L1312 744L1306 748L1297 735ZM1065 601L1057 617L1062 618ZM913 627L918 637L914 639L909 629ZM1233 713L1228 738L1230 738ZM1213 600L1205 604L1207 606ZM1085 360L1100 366L1099 378L1085 371Z"/>
<path fill="#d04aa8" d="M996 546L1000 556L997 560ZM1115 397L1122 402L1118 406L1111 402ZM908 487L907 495L909 495Z"/>
<path fill="#c45580" d="M1157 738L1168 752L1171 750ZM1169 749L1166 756L1168 757ZM1054 670L1055 695L1046 703ZM1036 654L1029 671L1024 666L1030 649ZM884 722L890 748L879 753ZM1252 683L1235 701L1240 705Z"/>
<path fill="#7fd0c0" d="M1138 662L1149 678L1140 690L1129 674Z"/>
<path fill="#f6c09a" d="M916 474L911 489L915 490ZM881 787L895 798L893 805ZM1261 367L1258 371L1260 372ZM1093 758L1100 781L1084 781L1077 759ZM1123 698L1124 706L1125 706ZM1204 742L1204 753L1206 753ZM943 605L949 621L939 621Z"/>
<path fill="#a880e8" d="M1308 503L1304 515L1307 515ZM1292 609L1289 634L1295 634ZM1197 456L1191 467L1192 467ZM1317 517L1300 527L1289 518L1306 509Z"/>
<path fill="#5fc4c8" d="M1157 775L1150 780L1151 781ZM1168 412L1175 419L1177 417ZM1220 681L1222 688L1224 687Z"/>
<path fill="#6ab0e4" d="M873 649L867 666L855 659L860 642Z"/>
<path fill="#f4a08c" d="M1031 465L1026 476L1027 476ZM927 618L927 624L929 623ZM1076 670L1073 678L1069 675L1072 667ZM1199 759L1220 770L1211 774ZM855 578L857 594L850 591ZM1034 466L1036 482L1029 484L1027 468Z"/>
<path fill="#f5b0a0" d="M1202 355L1217 366L1204 371L1190 360ZM1105 724L1108 732L1104 732L1101 724ZM1178 423L1184 429L1185 428ZM1106 403L1113 423L1099 431ZM1228 616L1230 626L1231 625ZM1206 477L1209 490L1213 487ZM1147 709L1161 716L1159 722ZM1008 372L1008 385L1001 380L1001 367Z"/>
<path fill="#ae4264" d="M1197 487L1205 502L1196 505ZM1148 683L1150 691L1153 689ZM1010 573L1014 586L1016 585ZM905 393L902 418L905 418ZM928 426L931 440L933 439ZM1021 433L1022 443L1024 443ZM1145 385L1144 392L1146 392ZM1137 523L1157 538L1146 546ZM931 569L908 581L902 563L925 551ZM1244 588L1250 610L1254 608Z"/>
<path fill="#e46aa6" d="M1093 584L1091 607L1097 607ZM1181 549L1195 568L1181 573L1167 554ZM1013 650L996 662L983 655L1000 643ZM1186 597L1187 604L1190 604ZM1097 584L1095 590L1098 590ZM975 566L972 581L964 581L968 566ZM1012 779L998 788L990 784ZM1043 365L1037 386L1041 387ZM1106 428L1094 451L1099 453ZM1159 464L1148 473L1149 474ZM1131 625L1128 634L1131 634ZM1037 791L1040 804L1042 803ZM1171 505L1169 514L1172 514ZM877 621L876 634L877 634ZM1201 705L1206 719L1197 727ZM905 445L898 457L900 458ZM1033 599L1032 611L1023 609L1023 597ZM1074 735L1069 749L1071 750ZM1124 488L1120 494L1117 492L1121 486ZM1145 368L1144 383L1146 383Z"/>
<path fill="#8aa4ec" d="M1305 605L1312 608L1313 613L1306 611ZM1277 765L1272 768L1274 769ZM849 411L846 421L841 421ZM1156 515L1159 532L1153 535ZM896 704L892 728L877 731L882 708ZM1019 733L1019 743L1016 744L1015 734ZM1144 683L1150 689L1151 687ZM1238 787L1243 801L1244 800ZM1273 530L1260 538L1257 526ZM1273 676L1285 684L1283 692L1271 685ZM1000 794L995 807L988 808L993 795ZM845 366L844 373L845 373ZM862 707L859 718L862 718ZM1061 557L1062 578L1064 578ZM1221 630L1221 637L1223 637ZM851 634L852 646L853 646ZM1070 578L1076 599L1069 602L1063 581ZM1112 790L1110 797L1106 795L1108 788ZM1123 376L1117 379L1118 381ZM1098 632L1109 647L1101 657L1090 642ZM1141 607L1158 616L1153 623L1136 614Z"/>
<path fill="#f6c09a" d="M1027 794L1019 813L1008 805ZM934 764L940 774L936 774L929 764ZM1292 453L1289 461L1291 462ZM860 482L868 498L857 505L849 490ZM1206 585L1199 596L1194 593L1201 583ZM1057 369L1056 390L1043 383ZM950 777L958 787L960 785ZM1040 638L1041 650L1042 650Z"/>
<path fill="#e040a0" d="M861 677L867 686L862 693L856 684ZM1003 613L1005 622L1008 621ZM991 777L983 793L975 788ZM1054 537L1047 541L1049 543ZM922 735L918 742L919 743ZM867 588L858 610L850 601ZM883 680L893 690L895 688ZM1147 723L1156 733L1157 731ZM1128 522L1131 535L1133 534ZM1318 639L1324 643L1321 646ZM996 516L995 530L998 530ZM864 560L867 574L870 573Z"/>
<path fill="#f08e80" d="M1302 688L1310 691L1309 694L1302 690ZM1253 403L1249 406L1252 408ZM1162 709L1157 718L1160 719ZM1170 371L1156 383L1160 387ZM1087 610L1069 623L1069 606L1088 592ZM1080 387L1085 399L1080 402ZM1320 487L1319 501L1321 501ZM1084 502L1085 511L1081 508L1079 500ZM1249 716L1243 731L1234 727L1240 713ZM1139 791L1137 797L1140 797ZM1253 585L1249 600L1240 603ZM1222 612L1221 623L1225 622Z"/>
<path fill="#a83a62" d="M943 371L947 397L934 403L931 377ZM1332 733L1329 746L1331 747ZM923 722L946 735L949 758L926 744ZM1281 738L1285 747L1278 753ZM907 454L897 460L899 462ZM1057 680L1057 686L1059 686ZM940 366L940 382L944 381ZM1125 406L1133 429L1121 434Z"/>
<path fill="#c95c84" d="M1026 602L1022 614L1023 615ZM1002 784L987 790L981 786ZM860 538L865 552L853 552L847 539ZM1036 501L1033 520L1037 520ZM1136 555L1133 570L1136 570ZM993 367L1002 373L999 382ZM1097 453L1102 458L1104 456ZM1002 750L1004 762L1006 761ZM1291 436L1282 440L1278 436ZM1082 643L1071 652L1074 655Z"/>
<path fill="#f29ab8" d="M1049 696L1043 705L1045 705ZM1022 616L1016 620L1018 622ZM909 413L925 422L920 429L904 421ZM953 457L946 467L941 466L948 457ZM888 730L884 742L888 742ZM1066 759L1064 767L1067 767ZM995 779L1002 786L1003 785ZM1105 581L1109 591L1110 591ZM905 370L920 382L919 392Z"/>
<path fill="#f0a0b4" d="M1279 505L1277 520L1279 520ZM1241 739L1238 748L1233 748ZM1300 616L1298 621L1301 621ZM1146 423L1143 431L1138 428L1141 420ZM1309 722L1319 732L1320 729ZM1282 642L1286 647L1287 645ZM1199 710L1197 720L1200 720ZM1101 727L1091 742L1085 738L1094 723ZM1090 361L1084 375L1085 375ZM1330 761L1327 780L1311 780Z"/>
<path fill="#9a5ae0" d="M858 695L852 704L854 705ZM910 683L906 696L909 697ZM1030 529L1024 551L1026 552ZM1134 631L1134 646L1136 646ZM918 442L918 466L921 466ZM930 632L935 646L929 646L923 632ZM1279 719L1274 731L1275 731ZM978 677L980 689L982 688Z"/>
<path fill="#f7b890" d="M1276 776L1268 780L1268 774ZM1059 746L1078 761L1068 770ZM1339 713L1357 721L1356 728L1337 720ZM1164 436L1175 444L1171 448ZM1059 563L1054 575L1057 576ZM1089 687L1098 694L1099 693ZM1285 627L1280 637L1284 638Z"/>
<path fill="#e85890" d="M1202 670L1204 682L1206 682ZM1114 426L1118 433L1112 435L1108 428ZM1263 404L1267 419L1261 419ZM1090 552L1107 561L1104 574ZM1068 617L1070 629L1072 628ZM1337 783L1341 788L1343 786ZM1248 368L1238 375L1241 378Z"/>
<path fill="#c45580" d="M946 642L944 654L947 654ZM1297 577L1282 595L1286 597ZM968 576L960 589L955 589ZM925 741L925 753L926 753ZM947 721L935 728L937 731ZM1022 647L1025 659L1027 658Z"/>
<path fill="#d86ad0" d="M873 601L873 623L877 623ZM1065 769L1078 778L1066 785L1054 776ZM1267 538L1276 547L1278 545ZM1040 397L1038 417L1032 413L1034 393ZM918 414L918 424L921 424ZM1334 457L1333 462L1336 462ZM1005 609L996 615L997 616ZM1337 560L1331 569L1333 570ZM1077 494L1074 501L1076 501ZM907 755L909 768L903 774L901 761ZM1088 454L1090 462L1086 462L1084 454ZM1176 690L1172 704L1175 705ZM1319 475L1317 481L1319 481ZM1094 697L1095 704L1097 703ZM1215 554L1216 564L1209 563L1208 552ZM977 582L978 595L982 594Z"/>
<path fill="#c890ec" d="M1096 603L1095 627L1099 626ZM920 750L923 755L925 753ZM1035 549L1036 567L1029 571ZM954 750L952 760L955 760ZM892 688L886 702L890 703ZM974 693L965 715L970 716ZM962 400L968 416L961 420L955 404Z"/>
<path fill="#f06a70" d="M1323 681L1318 690L1312 685ZM1099 615L1097 629L1099 629ZM1115 762L1112 778L1102 777ZM1149 515L1159 521L1155 529ZM865 510L870 528L856 532L851 515ZM1220 580L1219 592L1221 592ZM908 567L901 572L898 570ZM896 421L906 439L909 436ZM873 399L877 412L870 418L867 406ZM1209 774L1198 783L1200 785ZM965 582L969 589L965 590ZM966 774L972 785L974 783ZM1281 486L1261 498L1245 489Z"/>
<path fill="#b94a68" d="M1087 364L1099 370L1096 375ZM1117 521L1114 538L1105 533ZM858 521L862 532L854 531L849 519ZM1164 640L1167 651L1170 650ZM891 468L897 487L886 485ZM1136 554L1126 561L1128 564ZM906 384L899 389L901 391ZM1185 712L1183 722L1185 722ZM1137 768L1135 774L1138 774ZM1152 783L1150 793L1156 792ZM1099 428L1110 432L1109 437L1099 432Z"/>
<path fill="#7fd0c0" d="M1262 581L1265 586L1267 583ZM1080 560L1078 565L1080 565Z"/>
<path fill="#f8c8b0" d="M1160 725L1157 735L1159 735ZM1337 542L1319 551L1312 542L1330 533ZM1283 395L1279 420L1283 420ZM965 428L976 449L967 456ZM1320 637L1313 640L1315 643ZM1320 746L1317 764L1321 764ZM1156 410L1161 417L1162 416ZM1148 575L1137 585L1141 589ZM977 679L973 701L977 702Z"/>
<path fill="#b060e8" d="M1046 481L1040 506L1044 506ZM1042 665L1035 688L1018 684L1025 661ZM1089 655L1088 669L1078 672L1079 659ZM937 490L938 504L941 503ZM907 778L895 786L896 787ZM843 357L840 363L841 363ZM1004 623L996 644L999 645ZM913 649L914 658L908 661ZM962 682L951 689L944 681L955 674Z"/>
<path fill="#b2477a" d="M1251 753L1261 759L1257 765L1246 758ZM1096 701L1112 721L1115 718ZM1179 709L1179 717L1180 717ZM1260 674L1270 679L1268 685L1258 680Z"/>
<path fill="#b5446d" d="M847 351L848 367L854 366ZM960 555L954 565L951 560ZM990 378L974 389L969 378Z"/>
<path fill="#a858d8" d="M1338 744L1344 751L1346 748ZM1029 401L1025 406L1028 407ZM1314 454L1310 473L1304 467ZM1185 705L1179 724L1183 725ZM1189 661L1192 670L1195 669ZM1164 626L1159 644L1146 648ZM1280 552L1278 561L1281 561ZM1160 605L1152 625L1140 620Z"/>
<path fill="#f9d4a8" d="M1319 577L1310 601L1315 602ZM1257 422L1259 432L1262 431ZM1255 676L1255 682L1257 681ZM1278 388L1275 405L1269 405ZM993 459L1005 480L1008 478ZM1182 447L1188 453L1189 452ZM924 363L925 371L922 371Z"/>
<path fill="#bd4c76" d="M986 486L996 495L998 492ZM1080 532L1070 539L1072 542ZM1134 674L1113 691L1111 670ZM1165 633L1154 652L1140 642ZM852 543L847 554L840 553Z"/>
<path fill="#a880e8" d="M1313 437L1313 447L1316 446ZM1043 659L1045 674L1049 673ZM1168 759L1171 768L1173 767ZM1228 763L1223 769L1225 770ZM1140 496L1139 511L1143 511ZM1073 756L1065 777L1047 779L1054 758Z"/>
<path fill="#d04aa8" d="M844 676L843 690L837 690L837 676ZM1308 428L1306 440L1300 435ZM975 371L958 380L952 376ZM908 448L907 458L909 458ZM847 601L853 617L840 619ZM942 636L936 643L942 645ZM1022 779L1023 798L1026 797Z"/>
<path fill="#b07ae6" d="M1087 667L1080 673L1081 674ZM950 379L951 388L954 387ZM1093 405L1086 411L1088 412ZM845 397L846 407L848 407ZM880 468L888 476L889 474ZM1150 539L1141 560L1123 557L1132 535ZM902 761L905 771L907 770Z"/>
<path fill="#a848d4" d="M901 612L904 621L896 621L893 611ZM844 443L851 466L834 472L827 449ZM1026 522L1035 539L1029 543ZM1059 671L1067 679L1069 677ZM1067 766L1056 788L1036 785L1047 763ZM941 352L928 367L930 368ZM1063 544L1068 556L1072 553ZM980 704L981 711L979 714L978 706Z"/>
<path fill="#f4a888" d="M1196 782L1192 805L1182 805L1186 781ZM1264 427L1263 435L1258 436L1259 428ZM1180 659L1175 667L1172 667ZM1140 584L1145 593L1147 591ZM951 706L964 727L957 735ZM1281 564L1263 574L1259 560L1277 550ZM987 620L981 639L986 640ZM1059 427L1060 434L1061 434ZM1016 766L1030 775L1024 785L1010 776ZM1193 708L1186 719L1179 718Z"/>
<path fill="#c4a0f4" d="M1224 608L1219 614L1221 615ZM1285 534L1281 558L1269 549ZM851 438L848 450L841 447L844 434ZM1136 468L1133 485L1136 486ZM993 500L993 514L989 516ZM1015 559L1008 578L999 579ZM950 657L954 663L956 662ZM1312 502L1313 519L1308 518L1307 501ZM1107 477L1108 491L1111 491ZM1203 597L1203 610L1206 610ZM951 425L965 432L959 442ZM861 536L857 547L859 548ZM883 441L878 450L881 451ZM914 723L918 732L920 731ZM873 485L867 494L861 493L866 484ZM1273 356L1289 364L1286 372ZM1026 425L1024 436L1030 435Z"/>
<path fill="#a23a68" d="M893 554L906 569L908 567ZM886 752L887 762L889 761ZM1159 412L1151 417L1153 419ZM1129 674L1130 683L1132 683ZM1002 617L993 622L994 624Z"/>
<path fill="#c2507a" d="M1043 604L1039 613L1041 613ZM1159 616L1157 624L1159 624ZM1019 493L1026 506L1029 504ZM950 601L948 615L951 615ZM1253 679L1250 687L1252 688ZM961 392L961 400L963 400Z"/>
<path fill="#f08aa0" d="M957 656L961 661L962 659ZM999 459L999 471L1001 471ZM945 569L938 573L936 570L943 566ZM875 395L888 417L892 414ZM1169 638L1170 653L1175 652ZM1052 678L1068 689L1066 696ZM954 768L954 790L947 787L947 765Z"/>
<path fill="#5fc4c8" d="M1195 400L1189 418L1180 414Z"/>
<path fill="#a848d4" d="M909 569L910 580L905 580ZM843 728L838 741L841 742ZM1008 740L1012 756L1016 754ZM1135 442L1156 452L1145 463ZM899 493L886 498L887 489Z"/>
<path fill="#f4a888" d="M1313 635L1311 647L1312 647ZM1276 384L1277 395L1280 395ZM1122 368L1107 383L1110 386ZM1131 593L1124 604L1127 606ZM1284 672L1282 687L1284 687ZM1292 710L1300 728L1290 731L1282 713ZM1172 716L1177 741L1180 740ZM1048 356L1054 367L1050 366L1044 355Z"/>
<path fill="#d86ad0" d="M1239 352L1227 361L1229 363ZM1014 724L1013 741L1016 741ZM1029 464L1025 477L1029 477ZM1014 676L1014 684L1016 684ZM1109 762L1106 770L1108 770ZM912 724L900 731L901 733ZM912 464L917 478L919 477ZM1121 429L1120 442L1122 442ZM933 697L928 709L932 711ZM884 411L882 418L876 418ZM968 520L963 526L960 526Z"/>
<path fill="#f08aa0" d="M952 793L954 802L958 800ZM1010 712L1009 724L1011 724ZM859 757L855 780L847 783L852 759ZM936 488L941 502L934 502L929 489ZM1007 464L1009 472L1006 472L1004 464ZM1303 483L1314 490L1307 493ZM963 512L972 523L974 522ZM1003 643L997 660L982 654Z"/>
<path fill="#c45580" d="M1186 643L1187 653L1189 653ZM1276 560L1267 582L1256 574ZM923 350L919 357L923 358ZM1127 774L1122 780L1125 782ZM1259 744L1250 758L1247 751L1255 737ZM1068 467L1061 479L1063 480ZM1062 611L1076 618L1072 624ZM1006 656L1006 664L1009 663ZM1150 693L1158 701L1160 699ZM1043 504L1051 514L1053 513ZM909 687L910 709L894 705Z"/>
<path fill="#f29ab8" d="M1156 424L1158 435L1156 438ZM886 783L880 791L872 788ZM1115 643L1123 666L1105 661ZM927 468L922 480L914 481L920 469ZM1017 414L1014 421L1011 419L1014 411ZM874 504L870 509L872 510ZM1061 788L1068 796L1070 794ZM1062 590L1071 602L1063 606L1054 594ZM988 372L990 381L991 380ZM1052 401L1049 420L1037 413Z"/>
<path fill="#e46aa6" d="M1006 791L1009 807L999 803ZM914 457L916 477L908 482L906 463ZM946 492L943 499L938 497ZM851 672L843 690L831 680L839 662ZM1124 487L1118 509L1122 510ZM1182 592L1182 605L1185 605ZM916 601L921 625L902 625L897 601ZM1067 436L1071 460L1065 464L1061 440ZM1043 721L1042 729L1036 726ZM1302 547L1310 571L1299 568ZM1157 374L1162 398L1164 397ZM1047 487L1044 497L1046 497ZM843 612L835 617L837 619ZM966 623L969 628L971 626ZM1191 438L1197 444L1198 443Z"/>
<path fill="#8aa4ec" d="M1117 478L1115 483L1119 483ZM1197 643L1200 657L1190 660L1187 646ZM952 753L945 771L951 772ZM852 608L875 617L866 629ZM1144 470L1145 490L1133 486L1132 466ZM1073 582L1074 595L1079 594ZM1177 384L1171 399L1173 400ZM944 520L949 531L952 530ZM1232 705L1226 709L1227 710ZM905 435L909 438L909 437ZM965 692L960 700L962 701ZM1046 670L1035 675L1028 672L1038 666ZM1208 431L1200 447L1194 439L1202 423Z"/>
<path fill="#c2507a" d="M999 786L1004 811L994 818L990 792ZM1180 581L1179 590L1182 590ZM963 425L966 438L969 437ZM1061 778L1052 792L1047 780ZM1233 590L1225 602L1227 603ZM1224 787L1222 794L1225 794ZM1320 666L1313 671L1314 672ZM1235 603L1246 612L1246 611ZM923 358L915 377L921 378ZM847 527L849 533L851 532ZM1134 738L1131 741L1134 743ZM1010 388L1013 407L1018 406ZM880 668L887 691L892 688ZM1042 787L1052 796L1053 795ZM1096 487L1090 500L1082 496Z"/>
<path fill="#a880e8" d="M1253 379L1260 397L1253 399ZM1037 636L1032 646L1034 647ZM1052 725L1057 739L1059 738ZM1084 603L1074 627L1078 628ZM1275 543L1277 567L1281 566ZM1238 664L1239 671L1242 669ZM1334 605L1341 628L1323 627L1317 604ZM1173 597L1182 611L1177 622L1167 609ZM941 705L933 721L922 722L930 707Z"/>
<path fill="#c4a0f4" d="M850 501L845 507L848 508ZM1037 536L1042 544L1044 543ZM1153 704L1155 713L1157 712ZM1055 704L1056 714L1058 713ZM848 371L840 390L825 393ZM1210 657L1203 661L1200 658L1207 655ZM1248 356L1251 363L1252 363ZM1208 699L1206 710L1198 710ZM992 377L1000 381L1000 386ZM864 670L855 676L849 671ZM1212 387L1213 394L1214 393ZM1181 463L1179 471L1181 471ZM1091 736L1087 742L1089 743ZM1047 491L1044 497L1039 495ZM1275 494L1270 504L1265 498ZM1064 380L1075 385L1072 391L1060 387Z"/>
<path fill="#f06a70" d="M1053 350L1053 359L1055 358ZM1046 465L1040 479L1042 479ZM882 366L882 374L875 376ZM890 741L886 747L888 748ZM1071 759L1069 771L1071 771ZM1212 518L1217 534L1220 533ZM1034 508L1028 519L1030 520ZM1121 538L1109 546L1102 540L1114 531ZM1275 640L1281 643L1280 647ZM875 573L869 587L861 579L867 565ZM1223 720L1220 730L1223 731ZM981 359L975 368L978 369ZM1246 458L1247 482L1249 481Z"/>
<path fill="#e85890" d="M1336 614L1334 623L1337 623ZM923 698L926 720L917 727ZM1322 376L1322 390L1324 390ZM1255 363L1240 371L1241 359ZM1199 739L1195 742L1196 743ZM1156 695L1153 705L1156 706ZM1253 659L1250 669L1253 670ZM1233 726L1223 732L1224 734ZM1195 691L1193 697L1196 697ZM1301 460L1290 467L1292 469Z"/>
<path fill="#a23a68" d="M985 478L993 484L991 490L983 484ZM854 595L855 607L857 607ZM1322 401L1318 420L1321 420ZM843 484L841 493L845 493ZM982 532L982 542L975 543L975 533ZM1229 412L1227 419L1228 420ZM896 513L892 520L895 521ZM1268 384L1257 392L1258 393ZM882 452L875 456L876 458ZM1036 703L1031 716L1035 717Z"/>
<path fill="#ae4264" d="M1202 735L1194 751L1182 741ZM1110 369L1107 384L1096 385L1100 370ZM1138 352L1142 361L1143 360ZM1112 357L1107 361L1108 362ZM1117 362L1107 370L1109 372ZM1133 753L1138 764L1140 763Z"/>
<path fill="#f9d4a8" d="M1252 431L1240 448L1228 438ZM1184 587L1187 601L1189 601ZM1185 602L1179 613L1180 614ZM1320 635L1320 654L1311 658L1312 639ZM1334 698L1337 721L1342 720ZM1054 364L1057 383L1049 386L1045 367ZM1010 692L1019 700L1020 699ZM1308 766L1297 774L1299 776Z"/>
<path fill="#b060e8" d="M941 449L944 459L938 462ZM1060 537L1080 548L1071 555ZM964 456L959 467L960 467ZM976 709L975 720L977 720ZM858 713L852 722L844 721L850 712ZM871 389L876 401L878 400ZM1168 369L1165 375L1162 374L1164 367ZM1199 669L1221 678L1215 689L1193 680ZM1006 450L1008 461L1013 459ZM1154 769L1160 774L1162 772Z"/>
<path fill="#b5446d" d="M1269 481L1266 489L1267 490ZM1153 463L1150 469L1153 470ZM962 554L975 562L966 568L953 561ZM864 404L853 409L850 401ZM960 442L974 462L968 477L954 457ZM1049 722L1043 733L1044 733ZM848 665L847 688L851 687ZM1271 745L1268 759L1272 760ZM1324 643L1312 650L1313 652Z"/>
<path fill="#f8c8b0" d="M1277 538L1287 548L1288 546ZM1301 599L1298 603L1300 604ZM1118 433L1121 447L1123 447ZM1096 659L1077 673L1067 663L1085 650Z"/>
<path fill="#c95c84" d="M860 584L856 588L858 589ZM919 355L912 367L914 367ZM965 651L958 662L953 657L959 646ZM916 522L919 537L909 537L907 521ZM953 473L941 481L932 474L944 466ZM941 600L943 607L946 606ZM1149 394L1147 419L1138 423L1141 398ZM1036 419L1044 429L1046 427ZM1120 698L1118 713L1122 713ZM1093 393L1088 404L1085 398Z"/>
<path fill="#bd4c76" d="M941 734L931 756L920 756L930 734ZM1274 647L1299 659L1302 678L1277 667ZM1047 552L1044 558L1047 559ZM1018 600L1027 608L1028 607ZM988 365L974 376L970 364ZM1336 569L1329 581L1332 582ZM1093 472L1083 479L1080 471L1090 465Z"/>
<path fill="#f6c09a" d="M1274 716L1267 735L1255 731ZM1280 672L1276 687L1281 687ZM1158 586L1155 595L1160 595ZM864 486L870 495L865 502ZM1033 664L1034 673L1036 673ZM896 683L885 691L889 695ZM1275 499L1281 523L1284 522ZM1036 658L1043 666L1045 663ZM1139 349L1134 358L1137 359ZM1070 507L1068 518L1074 518Z"/>
<path fill="#a858d8" d="M1076 423L1083 444L1074 450L1066 430ZM1328 758L1327 773L1322 773ZM1174 589L1175 602L1167 607L1166 594ZM1296 427L1302 448L1305 447ZM1229 443L1223 454L1225 455ZM1286 727L1290 736L1285 736L1282 727ZM1203 541L1203 551L1206 550ZM1306 761L1304 773L1306 773ZM947 375L966 388L962 406ZM1140 508L1135 517L1138 518ZM1231 358L1232 372L1222 371ZM1313 547L1311 555L1314 555ZM1339 647L1346 654L1347 651Z"/>
<path fill="#d04aa8" d="M995 653L996 663L998 663ZM944 636L949 654L953 652ZM874 628L879 639L883 637ZM1128 486L1129 503L1124 507L1123 489ZM1007 609L1010 615L1007 618ZM1276 375L1284 383L1285 382ZM1086 362L1086 372L1088 372ZM930 685L923 696L925 697ZM1054 705L1045 710L1047 713Z"/>
<path fill="#c890ec" d="M1217 668L1219 680L1214 681L1212 669ZM1124 492L1112 501L1108 489ZM851 407L849 416L843 413L844 404ZM1110 669L1103 682L1099 682ZM1007 722L1021 732L1015 740L1002 731ZM1017 418L1012 420L1013 422ZM908 763L913 779L904 779L898 764ZM844 669L843 675L846 675Z"/>
<path fill="#b2477a" d="M908 365L904 385L895 387L898 367ZM1182 447L1167 456L1154 450ZM976 579L970 582L973 584ZM1204 354L1201 364L1204 364ZM1190 532L1189 547L1193 547ZM1040 749L1055 755L1055 764L1040 757ZM1322 584L1318 608L1323 609ZM1312 589L1320 606L1314 609L1307 592ZM896 390L894 396L897 396ZM1028 671L1027 697L1031 696ZM848 375L841 379L842 380Z"/>
<path fill="#b94a68" d="M1175 673L1177 685L1179 685ZM1164 406L1170 423L1159 424ZM1317 363L1321 373L1317 373ZM1288 685L1307 697L1307 704ZM1040 510L1029 516L1025 512Z"/>
<path fill="#e040a0" d="M1038 405L1038 419L1028 426ZM936 585L939 593L933 592ZM905 622L916 641L913 648ZM924 521L918 537L910 533ZM922 486L933 507L920 514ZM940 693L942 706L944 706ZM1099 501L1089 514L1080 513L1089 499ZM876 610L883 621L886 618ZM1238 372L1240 379L1241 379Z"/>
<path fill="#b07ae6" d="M996 668L997 691L1002 691ZM1018 697L1022 703L1024 701ZM1041 512L1041 525L1037 524ZM1037 382L1046 404L1032 416ZM1013 623L1009 627L1012 629ZM1089 632L1082 653L1088 654ZM906 703L916 708L918 714L907 708ZM1142 417L1140 428L1143 428ZM1076 770L1077 782L1079 781ZM1091 482L1094 494L1095 494ZM856 386L855 396L858 396Z"/>
<path fill="#f5b0a0" d="M1005 774L987 782L988 776L1006 768ZM1053 487L1057 497L1053 498ZM1130 599L1132 620L1119 623L1116 602ZM948 560L943 582L936 576L940 554ZM1242 645L1238 649L1241 651Z"/>
<path fill="#f7b890" d="M1296 505L1289 522L1293 523ZM1253 640L1244 646L1237 641ZM1267 350L1276 360L1278 358ZM1267 771L1271 785L1273 784ZM1066 524L1065 534L1060 534L1062 523ZM1244 389L1248 406L1238 415ZM1266 715L1259 732L1250 724ZM1313 726L1297 739L1301 743ZM849 725L846 738L852 738ZM963 528L957 538L959 539Z"/>
<path fill="#9a5ae0" d="M853 586L853 591L856 590ZM1087 701L1082 711L1083 711ZM948 424L943 434L938 427L942 416ZM976 754L965 776L971 778ZM990 624L986 635L980 635L984 624ZM1117 549L1104 571L1108 573ZM969 519L975 524L976 523Z"/>
<path fill="#f0a0b4" d="M1190 419L1188 428L1184 426ZM1263 703L1258 711L1253 707ZM1312 661L1319 667L1320 665ZM1319 568L1309 575L1311 577Z"/>
<path fill="#f08e80" d="M1320 405L1323 418L1326 417ZM1180 387L1189 394L1189 393ZM1129 670L1125 677L1127 678ZM1038 761L1036 772L1040 772ZM1067 744L1067 758L1068 758ZM1042 421L1053 442L1040 442L1029 421Z"/>
<path fill="#7fd0c0" d="M1021 366L1027 377L1030 375ZM1015 771L1008 775L1009 777Z"/>
<path fill="#f4a08c" d="M1076 768L1073 776L1067 772ZM1132 452L1140 474L1125 475ZM1016 444L1018 465L1010 464ZM1100 744L1106 760L1096 763Z"/>
<path fill="#a83a62" d="M843 736L838 755L843 755ZM1229 396L1243 419L1228 431L1215 408ZM1025 470L1044 480L1037 488L1017 478ZM1169 477L1156 486L1144 482L1158 473ZM901 404L906 415L907 414ZM1101 606L1099 615L1103 615ZM1310 349L1320 371L1310 371Z"/>
<path fill="#5fc4c8" d="M1146 429L1149 439L1151 438Z"/>
<path fill="#e040a0" d="M1102 726L1101 735L1105 735ZM917 676L928 685L929 683ZM912 379L905 393L894 392ZM989 442L987 450L989 450ZM1005 522L1004 544L998 547L998 524ZM1107 506L1104 516L1108 516ZM1021 534L1021 559L1026 559ZM1145 452L1150 461L1143 461L1139 452ZM1011 643L1021 648L1017 657Z"/>
<path fill="#f7b890" d="M1297 573L1290 586L1291 587ZM1269 554L1264 556L1266 558ZM1098 545L1105 564L1108 563ZM1098 537L1102 546L1103 545ZM949 791L948 797L950 797ZM1278 788L1272 800L1273 800ZM1282 443L1293 452L1294 451ZM1181 573L1171 591L1173 592ZM1110 697L1115 707L1107 707L1102 696ZM1238 616L1235 628L1237 629ZM1167 499L1162 509L1163 509Z"/>
<path fill="#f9d4a8" d="M1048 476L1046 480L1048 481ZM1074 555L1068 566L1069 567ZM1253 441L1264 448L1260 454L1249 447ZM873 684L869 698L870 699ZM1071 767L1078 779L1073 778ZM1094 573L1096 585L1098 584ZM1244 493L1246 510L1250 510ZM1268 748L1287 759L1284 766ZM1063 700L1073 714L1062 716L1052 702ZM1142 511L1132 519L1130 512ZM1239 744L1243 752L1238 754ZM1120 741L1117 752L1122 752ZM1025 524L1028 545L1013 553Z"/>
<path fill="#f8c8b0" d="M1108 596L1110 610L1099 610L1097 596ZM1304 389L1303 399L1306 399ZM1264 355L1255 371L1241 364ZM1272 458L1281 473L1285 470ZM1275 375L1282 395L1285 394Z"/>
<path fill="#e46aa6" d="M1093 699L1100 719L1086 715L1079 695ZM950 516L946 523L948 524ZM970 417L984 435L985 434ZM1028 553L1044 564L1037 567L1021 556ZM1164 394L1164 408L1166 407ZM1130 759L1134 763L1135 762ZM1030 500L1026 512L1029 512ZM921 431L924 455L908 458ZM897 356L919 365L914 372ZM959 481L959 493L961 493ZM1265 464L1249 481L1253 484ZM1308 446L1308 458L1309 458ZM1239 715L1242 728L1245 727ZM1193 757L1189 764L1191 764ZM1228 526L1232 537L1234 536ZM972 767L970 774L972 775ZM905 766L896 771L897 773ZM929 373L929 382L925 383L925 374ZM994 366L981 380L985 383ZM966 369L963 375L965 376ZM1123 370L1123 379L1125 379Z"/>
<path fill="#b5446d" d="M1086 461L1084 474L1088 474ZM910 529L921 548L923 546ZM1128 688L1134 711L1136 710ZM890 419L885 431L888 431ZM1004 673L1011 685L1004 690L997 679ZM1194 547L1190 551L1193 553ZM1164 459L1156 466L1157 467ZM1235 371L1220 381L1216 376L1231 365ZM993 479L999 485L1000 483ZM1099 407L1095 417L1097 417ZM1298 669L1305 690L1291 697Z"/>
<path fill="#f29ab8" d="M1196 743L1188 747L1189 749ZM912 691L906 696L908 698ZM1279 727L1279 740L1281 740ZM1061 760L1063 784L1056 781ZM1145 488L1143 500L1145 500ZM973 653L973 664L976 664ZM1008 639L1004 656L999 651Z"/>
<path fill="#f06a70" d="M972 605L974 617L976 617ZM922 642L932 650L933 648ZM1195 614L1192 636L1197 636ZM968 623L964 636L962 633L965 620ZM1197 649L1193 655L1195 655ZM898 389L891 401L894 402ZM938 376L937 401L926 399L927 374ZM850 457L841 478L836 471L844 450ZM949 528L950 535L953 534ZM893 561L892 578L879 579L880 562ZM1123 629L1116 652L1107 650L1114 627ZM932 495L936 508L929 508L924 495ZM1098 688L1103 699L1097 699ZM1207 629L1199 645L1191 638L1200 622ZM1045 764L1042 786L1047 786ZM1283 527L1278 544L1268 544ZM1311 587L1313 607L1304 614L1301 594ZM863 591L874 611L867 626L856 606ZM946 706L944 713L947 713ZM878 385L893 397L890 402L875 391Z"/>
<path fill="#d86ad0" d="M1241 707L1243 716L1244 716ZM1143 586L1145 598L1147 598ZM1230 734L1227 743L1229 743ZM851 381L861 395L855 399ZM848 455L847 465L850 465ZM1300 515L1297 531L1300 531ZM1202 371L1193 377L1184 373L1194 367ZM1154 565L1150 570L1151 570ZM1076 437L1080 457L1070 464ZM1210 379L1214 403L1217 402ZM1320 731L1316 737L1317 738ZM1015 778L1007 783L1005 778L1013 773ZM1139 549L1141 557L1142 557ZM991 749L990 755L994 755ZM898 694L909 709L903 717L892 702ZM1264 790L1260 801L1263 801ZM1205 407L1197 411L1193 406L1201 401ZM1176 425L1174 439L1176 439Z"/>
<path fill="#8aa4ec" d="M862 433L860 438L863 438ZM932 648L921 654L923 656ZM1276 365L1269 372L1270 374ZM987 483L1004 494L1004 503ZM941 447L947 455L940 457L935 450ZM1192 726L1193 734L1189 733L1188 725ZM959 786L957 793L959 793ZM1186 496L1183 505L1184 505ZM1156 627L1150 635L1152 636ZM866 609L860 621L861 622ZM864 543L864 555L865 555ZM1163 678L1175 697L1178 694ZM1267 482L1260 502L1263 503ZM1198 740L1210 754L1212 752Z"/>
<path fill="#c95c84" d="M1057 522L1055 549L1036 549ZM1027 475L1033 491L1029 495ZM1244 773L1237 788L1228 785ZM1007 509L1016 518L1016 517ZM1205 399L1208 411L1204 409L1200 398ZM1223 404L1241 415L1242 422ZM1061 663L1083 676L1074 683L1052 670Z"/>
<path fill="#c890ec" d="M949 636L949 651L943 650ZM899 719L887 732L889 735ZM856 456L858 469L853 472ZM939 788L942 798L938 801Z"/>
<path fill="#f08e80" d="M1254 495L1262 505L1264 503ZM1111 396L1118 418L1123 416ZM1319 483L1324 504L1307 498L1302 478ZM1326 778L1323 802L1309 802L1312 778ZM1164 676L1159 684L1160 685ZM1102 658L1098 680L1090 672ZM1182 353L1182 377L1168 373Z"/>
<path fill="#f0a0b4" d="M1047 701L1042 707L1041 703L1045 697ZM1203 379L1220 391L1215 397L1198 385ZM1082 570L1075 582L1070 579L1077 568ZM1059 544L1066 550L1067 549ZM1085 475L1088 484L1084 486ZM1148 377L1148 397L1135 396L1135 376ZM1308 461L1300 468L1303 470ZM957 535L958 542L960 542ZM1019 697L1018 706L1020 706ZM1064 553L1065 575L1068 575ZM1295 735L1301 741L1302 740ZM1275 669L1269 686L1263 681ZM843 404L834 411L836 412Z"/>
<path fill="#9a5ae0" d="M1063 556L1062 566L1056 561ZM964 796L952 818L944 815L956 793ZM1233 650L1233 669L1222 678ZM971 627L974 635L975 634ZM881 349L885 355L887 353ZM878 487L874 494L875 495ZM1136 473L1149 494L1134 504L1122 483ZM1031 590L1034 615L1037 614ZM953 498L950 512L945 507Z"/>
<path fill="#d04aa8" d="M1210 497L1219 509L1221 507ZM1105 390L1113 397L1114 396ZM1194 440L1194 451L1197 450ZM858 578L860 585L858 587L856 580ZM861 386L865 404L868 403Z"/>
<path fill="#a848d4" d="M1259 785L1267 806L1251 805L1244 784ZM852 425L865 431L868 443L854 437ZM1051 622L1043 643L1030 644L1037 623ZM961 720L960 733L962 733ZM917 651L922 666L917 674ZM965 548L968 558L962 557ZM1056 393L1062 406L1063 405ZM899 717L893 720L894 722ZM923 558L916 571L917 571ZM903 542L922 552L920 560L901 550Z"/>
<path fill="#a880e8" d="M1169 363L1160 376L1150 374L1159 361ZM1129 631L1123 634L1125 636ZM978 772L973 790L962 795L967 776ZM1256 442L1251 454L1253 454ZM1137 402L1145 409L1146 407ZM1193 790L1190 796L1192 797ZM1220 691L1222 698L1216 700ZM1335 574L1333 587L1335 587Z"/>
<path fill="#b94a68" d="M1242 613L1242 619L1243 619ZM954 350L956 356L958 355ZM888 622L895 635L890 640Z"/>
<path fill="#f6c09a" d="M1248 454L1254 475L1239 476ZM886 537L893 558L896 556ZM930 535L927 551L919 547L923 532ZM949 466L944 474L946 475ZM978 699L974 706L975 707ZM913 472L902 493L908 495ZM999 723L995 734L1000 735ZM1214 427L1210 433L1213 434ZM1221 385L1223 396L1225 395ZM1130 586L1125 602L1114 598ZM1075 496L1071 505L1074 505ZM850 604L840 622L829 612ZM1227 483L1230 496L1231 495ZM944 677L949 702L930 700ZM1038 404L1055 418L1045 427ZM1138 427L1137 435L1140 435ZM1256 766L1252 776L1247 770ZM1092 669L1096 684L1098 683ZM1170 448L1167 456L1168 457Z"/>
<path fill="#c45580" d="M1174 543L1193 552L1190 558ZM1206 549L1199 561L1201 562ZM931 712L926 735L931 735ZM880 648L884 657L888 653ZM1254 468L1255 487L1246 485ZM1205 461L1199 483L1203 484ZM1107 468L1109 483L1097 488L1095 473ZM1190 556L1210 566L1208 575L1188 566ZM975 641L965 650L966 651ZM1194 456L1195 464L1197 464ZM1002 420L1003 428L1004 428ZM1139 471L1130 475L1127 468Z"/>
<path fill="#f4a08c" d="M877 640L875 647L869 647ZM883 416L879 431L873 429ZM909 428L906 439L907 440ZM928 411L931 425L926 429L923 415ZM887 545L887 567L872 570ZM981 380L972 386L973 388Z"/>
<path fill="#a858d8" d="M1219 471L1201 485L1200 477L1218 463ZM1295 674L1291 691L1294 692ZM1059 747L1050 755L1051 756ZM1307 645L1300 648L1302 650ZM1061 792L1050 801L1052 803ZM1325 362L1322 373L1324 373ZM1281 675L1284 694L1272 695L1269 676Z"/>
<path fill="#a83a62" d="M932 357L922 361L918 358L928 353ZM917 351L909 355L911 358ZM1170 394L1174 399L1176 397ZM1276 783L1259 796L1252 792ZM903 384L898 399L890 395L896 380Z"/>
<path fill="#b07ae6" d="M1188 436L1183 444L1185 444ZM873 468L878 475L879 474ZM977 605L978 616L980 616ZM878 366L873 377L874 378ZM1048 425L1041 444L1035 436ZM1157 687L1168 705L1154 711L1143 693ZM1149 719L1151 733L1142 734L1140 721Z"/>
<path fill="#e85890" d="M1293 521L1288 523L1289 525ZM1157 462L1155 467L1158 467ZM969 620L971 631L965 636L964 625ZM1111 413L1098 421L1096 414L1109 406ZM1242 507L1242 513L1244 513ZM932 650L932 662L933 662Z"/>
<path fill="#f08aa0" d="M900 380L887 387L882 377L896 370ZM962 421L958 443L962 443ZM1191 408L1197 427L1201 425ZM1132 608L1141 626L1136 637L1127 619ZM888 424L891 437L894 436ZM849 423L845 430L847 431ZM985 567L994 577L995 575ZM1062 415L1058 420L1060 421ZM849 627L843 639L845 640ZM1203 695L1202 704L1205 704Z"/>
<path fill="#a23a68" d="M891 759L891 770L894 770ZM931 617L928 634L930 635ZM988 584L969 595L966 585L985 574ZM1192 608L1214 617L1204 632ZM842 778L841 791L833 795L834 783ZM1058 394L1048 411L1043 403L1053 386Z"/>
<path fill="#c4a0f4" d="M1005 726L1016 735L1018 733ZM904 626L903 634L898 635L899 627ZM1261 594L1264 617L1251 616L1248 593ZM919 737L917 745L920 745ZM1229 433L1242 443L1230 448L1217 438ZM1245 627L1255 644L1240 643ZM869 728L870 739L873 738ZM920 652L905 670L908 672ZM1268 749L1275 765L1261 762L1254 746ZM941 751L946 756L947 755ZM1028 522L1033 539L1037 537ZM1312 627L1296 642L1300 645ZM937 361L941 366L943 364Z"/>
<path fill="#c2507a" d="M1141 417L1151 427L1152 425ZM1034 624L1031 650L1036 650ZM1308 494L1312 504L1313 504ZM981 795L972 801L974 803ZM1057 664L1046 675L1050 678ZM1061 362L1078 368L1068 376L1051 369ZM1020 439L1003 451L995 441L1012 430Z"/>
<path fill="#5fc4c8" d="M1077 415L1072 429L1067 429L1073 415ZM1190 355L1185 367L1187 368Z"/>
<path fill="#f4a888" d="M1161 567L1158 573L1161 574ZM1254 611L1251 633L1242 638ZM892 658L901 672L896 677L887 663ZM1322 747L1317 765L1320 766ZM1286 739L1283 746L1279 746L1283 739ZM1098 747L1113 754L1114 763L1098 757ZM1222 714L1220 721L1222 721ZM992 625L982 644L987 646Z"/>
<path fill="#bd4c76" d="M1014 613L1016 620L1018 619ZM1148 720L1144 729L1147 730ZM1112 358L1125 381L1118 386L1105 363Z"/>
<path fill="#b2477a" d="M1052 604L1052 619L1055 619ZM1100 600L1109 615L1097 620L1088 605ZM1245 595L1240 604L1242 605ZM967 558L960 564L961 565ZM954 387L949 403L941 393ZM1055 747L1067 768L1062 775L1050 753ZM1030 401L1037 409L1039 406ZM852 518L844 529L847 530ZM1029 468L1029 492L1018 489L1018 465Z"/>
<path fill="#f5b0a0" d="M1064 609L1054 612L1052 609ZM1175 463L1183 474L1177 478ZM1051 522L1061 529L1062 539ZM1322 649L1325 660L1319 666ZM1331 406L1334 416L1337 415Z"/>
<path fill="#b060e8" d="M887 754L885 778L887 778ZM1083 623L1081 635L1082 635ZM1076 653L1074 661L1070 663Z"/>
<path fill="#ae4264" d="M1155 353L1153 364L1155 364ZM1209 488L1229 500L1220 513L1199 501ZM1163 713L1164 723L1159 725ZM1251 772L1244 777L1245 778ZM1022 354L1024 367L1020 370L1019 357Z"/>
<path fill="#6ab0e4" d="M1271 390L1255 405L1258 408ZM1128 614L1125 620L1127 620Z"/>
<path fill="#f8c8b0" d="M1114 417L1118 430L1120 429ZM1004 727L1010 735L1012 732ZM1304 612L1313 627L1306 628ZM1070 641L1063 657L1068 659ZM1229 468L1227 482L1232 482ZM1096 493L1102 498L1103 497ZM1278 492L1277 505L1279 505ZM1249 780L1268 794L1254 807Z"/>
<path fill="#b94a68" d="M1142 369L1132 383L1121 373ZM1270 653L1271 666L1273 665ZM1313 661L1315 681L1302 678L1300 658ZM843 527L833 548L837 550ZM1115 755L1117 763L1120 762ZM1188 413L1181 429L1185 430ZM1295 462L1288 467L1290 469ZM1110 681L1103 704L1087 703ZM1197 452L1219 467L1212 479L1189 464ZM1000 370L990 376L991 378ZM963 354L959 368L953 365ZM959 370L952 390L938 380ZM944 745L947 762L951 761ZM1038 401L1029 406L1026 403ZM987 365L987 379L989 379ZM965 455L965 461L968 460ZM1070 510L1070 523L1072 523Z"/>
<path fill="#ae4264" d="M850 738L857 762L840 765L833 741ZM1335 466L1335 475L1338 474ZM1158 757L1155 770L1157 770ZM1157 637L1164 643L1165 641ZM1203 527L1204 542L1207 541Z"/>
<path fill="#d04aa8" d="M1176 416L1171 436L1174 436ZM1095 471L1096 481L1098 480ZM997 531L999 538L1002 537ZM973 490L969 493L971 495ZM1123 456L1122 463L1124 462ZM1120 439L1118 447L1113 448L1115 440ZM1036 585L1032 599L1034 599Z"/>
<path fill="#f08aa0" d="M886 390L875 395L869 386ZM1028 505L1021 508L1023 511ZM1142 787L1148 808L1151 807ZM898 506L894 513L896 514ZM965 610L964 624L955 628L955 614ZM1134 404L1137 411L1132 411L1129 403ZM1064 534L1069 553L1063 556L1057 537ZM1096 574L1089 588L1083 585Z"/>
<path fill="#a83a62" d="M853 722L852 735L854 735ZM1328 731L1344 738L1341 750ZM986 445L987 455L989 455ZM1181 700L1187 718L1181 728L1174 710ZM1327 466L1340 487L1329 502L1316 481ZM1032 418L1035 430L1026 428L1023 416Z"/>
<path fill="#f7b890" d="M1020 436L1028 448L1022 455L1013 442ZM1119 674L1118 693L1122 693ZM1230 470L1248 479L1244 487L1225 478ZM1080 685L1080 691L1082 691ZM1279 484L1284 494L1276 494ZM1195 546L1177 558L1172 551L1190 540Z"/>
<path fill="#bd4c76" d="M1336 502L1333 516L1326 509L1330 495ZM1294 765L1284 772L1286 774ZM873 630L872 642L874 642ZM1254 376L1251 387L1255 387ZM1082 362L1088 387L1080 392L1074 367ZM953 763L951 776L952 776Z"/>
<path fill="#c4a0f4" d="M912 386L910 392L912 392ZM1011 584L1021 593L1023 592ZM908 789L914 793L911 797L905 793ZM1142 714L1132 724L1136 727ZM1274 612L1270 624L1274 625ZM1255 793L1260 802L1262 801ZM1177 776L1176 787L1178 787ZM911 661L914 667L912 668ZM935 622L935 635L940 634ZM1056 514L1045 522L1038 517ZM956 593L954 602L957 602ZM870 484L874 495L877 494ZM900 535L899 548L901 548ZM1227 741L1224 753L1225 753ZM961 788L955 807L946 806Z"/>
<path fill="#8aa4ec" d="M1052 559L1045 563L1047 565ZM1101 543L1084 558L1087 561ZM1166 563L1160 571L1163 572ZM1176 523L1170 542L1161 531ZM911 683L912 693L915 692ZM1272 376L1274 396L1264 391L1262 371ZM1114 403L1107 416L1096 410L1103 397ZM904 354L906 364L898 364L897 354ZM959 364L956 378L958 378ZM916 640L916 656L910 657ZM1143 452L1138 475L1141 476ZM1035 356L1038 361L1040 359ZM874 596L871 603L874 604ZM1011 397L1026 416L1030 412Z"/>
<path fill="#f06a70" d="M1291 412L1295 420L1288 420L1284 413ZM867 650L888 660L874 669L853 659ZM1071 407L1067 419L1068 420ZM865 506L861 518L864 518ZM1147 482L1150 491L1152 490ZM1046 731L1054 744L1049 746L1041 732ZM1239 786L1236 802L1232 799L1235 784ZM987 676L982 683L984 684ZM941 410L921 420L911 414ZM1084 680L1085 702L1090 701ZM1278 494L1280 507L1275 509L1272 497ZM1229 785L1230 801L1220 802L1219 785ZM1271 367L1265 379L1270 380ZM1260 531L1257 538L1259 538ZM1164 696L1165 704L1166 703ZM949 598L949 610L950 610ZM1114 459L1111 468L1113 468ZM1280 767L1271 780L1268 773L1277 760ZM1193 398L1188 415L1180 416ZM847 653L846 673L851 673ZM1210 604L1209 621L1211 621ZM904 788L904 804L899 802ZM924 740L924 746L926 745ZM1327 505L1318 522L1306 521L1315 503ZM1232 572L1224 576L1225 578ZM1136 515L1129 529L1122 524L1129 510Z"/>
<path fill="#b060e8" d="M1020 589L1023 597L1025 596ZM952 623L954 629L952 633ZM910 611L899 620L901 622ZM1290 609L1283 613L1284 615ZM915 646L909 649L910 646L916 643ZM964 359L966 369L968 369ZM1145 371L1129 386L1132 389Z"/>
<path fill="#5fc4c8" d="M1095 361L1093 370L1096 370ZM914 776L910 783L912 783Z"/>
<path fill="#f9d4a8" d="M1310 361L1318 371L1320 369ZM1127 500L1123 513L1124 513ZM1157 713L1157 718L1158 718ZM1161 529L1165 551L1159 559L1154 537ZM1165 576L1162 592L1157 591L1159 574ZM1326 709L1319 725L1314 722ZM966 784L966 804L969 803ZM1095 478L1093 489L1086 484L1088 473ZM1281 611L1281 621L1278 623L1278 613Z"/>
<path fill="#d86ad0" d="M1225 407L1227 429L1208 427L1206 404ZM1126 679L1123 688L1125 689ZM868 594L867 603L869 603ZM1227 707L1220 725L1225 726ZM1192 493L1177 513L1169 498L1184 478ZM1209 517L1205 526L1207 527ZM907 694L898 700L891 694L900 689ZM1024 605L1021 627L1004 625L1007 604ZM1049 794L1048 808L1051 808ZM1034 600L1031 612L1034 612ZM1021 606L1006 617L1009 621ZM1144 586L1149 592L1150 591ZM1060 541L1054 545L1055 546ZM1047 572L1057 581L1059 579ZM949 480L960 487L955 496L944 489ZM1033 762L1023 769L1024 770Z"/>
<path fill="#f4a08c" d="M854 611L849 618L851 619ZM1013 431L1018 443L1020 442ZM1233 445L1237 460L1240 459Z"/>
<path fill="#c2507a" d="M967 523L966 534L969 534ZM1073 554L1085 572L1076 583L1064 566ZM1121 733L1124 746L1119 752ZM869 789L880 810L875 816ZM921 445L928 456L923 461ZM1059 703L1056 721L1046 711L1050 694ZM890 703L894 714L897 713ZM1189 709L1198 732L1180 734ZM959 760L956 768L958 768Z"/>
<path fill="#9a5ae0" d="M1017 468L1015 480L1018 480ZM917 452L918 463L919 463ZM922 558L923 573L925 572ZM954 719L973 730L966 734Z"/>
<path fill="#a880e8" d="M1227 461L1222 474L1218 468ZM1325 464L1344 479L1338 485L1319 470ZM1090 642L1092 655L1094 655ZM1332 483L1326 486L1328 488ZM1142 746L1143 752L1146 751ZM1291 769L1300 778L1301 776ZM1311 389L1311 396L1314 395ZM1162 356L1161 369L1151 366L1153 352ZM1172 485L1184 504L1178 517ZM904 605L889 612L882 607Z"/>
<path fill="#e85890" d="M1275 730L1278 742L1282 740ZM1187 379L1202 387L1201 401ZM1178 622L1183 643L1173 650L1168 629ZM1317 457L1314 468L1306 464L1310 454ZM976 465L965 473L966 474ZM869 558L872 570L875 568ZM1176 706L1166 713L1167 705L1176 699ZM1142 402L1144 427L1148 426Z"/>
<path fill="#e46aa6" d="M870 417L861 424L862 425ZM948 649L940 655L943 657ZM1132 520L1132 538L1136 538ZM975 362L971 374L973 375ZM1111 650L1103 669L1095 668ZM1251 761L1247 779L1252 780ZM883 403L883 408L885 407ZM893 539L890 559L880 559ZM888 566L879 583L875 576ZM903 468L899 482L900 482ZM1183 645L1183 664L1186 664ZM1023 383L1022 389L1026 389ZM1066 586L1057 593L1058 594ZM978 491L979 504L981 504ZM1045 787L1043 799L1044 800Z"/>
<path fill="#f0a0b4" d="M1024 616L1028 628L1025 631ZM1243 740L1236 749L1229 745ZM1153 708L1152 721L1145 725ZM997 415L995 423L996 423ZM1325 394L1325 405L1327 405ZM1333 385L1331 398L1333 398ZM1246 381L1246 393L1242 392L1243 380ZM1092 732L1092 746L1094 746ZM1097 707L1107 729L1090 728L1080 705ZM1315 451L1313 460L1316 461ZM1337 731L1338 737L1341 735ZM1072 380L1076 394L1077 393ZM1149 723L1153 734L1146 733L1142 722ZM1332 686L1319 699L1321 701ZM1214 469L1201 491L1205 493Z"/>
<path fill="#f08e80" d="M1165 368L1166 381L1171 380ZM1208 476L1212 482L1214 480ZM1206 417L1198 421L1200 423ZM1152 605L1144 626L1148 627ZM1314 495L1315 512L1302 513ZM1336 559L1332 569L1334 569ZM1163 580L1152 603L1156 604Z"/>
<path fill="#a858d8" d="M1025 477L1032 488L1034 487ZM1117 652L1114 661L1115 661ZM1330 784L1329 790L1331 790ZM1059 512L1063 523L1066 522ZM1258 552L1259 560L1262 559ZM1334 691L1340 697L1342 695ZM1295 413L1300 424L1302 423ZM1197 390L1194 396L1197 397Z"/>
<path fill="#a23a68" d="M951 713L956 720L958 718ZM998 404L1003 415L998 421L993 411ZM1135 366L1133 376L1136 376ZM1193 545L1185 558L1186 559ZM1164 604L1158 624L1147 619L1153 598ZM1138 654L1147 670L1140 669ZM1240 583L1236 585L1237 587ZM1083 459L1081 472L1075 471L1076 458ZM1012 632L1003 640L1005 641ZM1273 642L1277 656L1271 662ZM1320 722L1327 733L1318 735Z"/>
<path fill="#f6c09a" d="M1048 449L1043 452L1044 454ZM1250 629L1246 643L1236 644L1241 630ZM1083 677L1080 689L1073 690L1076 679ZM1275 585L1284 608L1272 605L1264 582ZM1103 485L1085 497L1076 491ZM1231 759L1231 774L1224 770ZM1188 556L1198 571L1202 567ZM1107 554L1098 561L1100 563ZM1076 634L1094 645L1090 653L1072 642ZM916 692L914 700L917 700ZM1065 485L1054 507L1047 499L1058 477Z"/>
<path fill="#b07ae6" d="M1128 502L1132 514L1135 512ZM1099 757L1097 770L1101 769ZM1166 707L1166 714L1169 713ZM1136 565L1133 579L1139 578ZM874 779L863 789L867 792ZM943 590L940 599L945 600ZM964 696L953 705L957 708Z"/>
<path fill="#e040a0" d="M874 661L875 671L877 670ZM854 715L855 730L857 729ZM966 485L953 495L950 487L963 478ZM955 698L952 704L956 704ZM958 772L955 776L957 777ZM896 357L906 363L901 366L891 360ZM1198 575L1207 582L1203 589L1194 583ZM1060 418L1050 438L1054 440ZM1049 693L1044 702L1040 699L1045 689ZM950 488L946 499L948 500ZM1096 435L1099 443L1101 442ZM1248 548L1246 565L1240 567ZM1079 376L1079 389L1082 389Z"/>
<path fill="#c45580" d="M1025 445L1024 451L1027 450ZM885 362L892 384L883 384ZM1324 369L1320 385L1312 386L1315 370ZM1072 574L1073 584L1074 584ZM1171 568L1173 574L1176 573ZM1266 613L1267 634L1270 633Z"/>
<path fill="#f4a888" d="M1167 664L1174 673L1176 671ZM1248 719L1241 735L1243 736ZM1226 528L1235 533L1234 537ZM1116 732L1109 736L1110 737ZM1315 566L1317 575L1319 575Z"/>
<path fill="#c95c84" d="M1140 640L1142 652L1132 649L1131 637ZM1224 642L1210 665L1201 666ZM1265 586L1288 598L1290 607L1267 595ZM924 580L914 587L915 589ZM1321 608L1317 622L1320 622Z"/>
<path fill="#f29ab8" d="M1174 572L1172 583L1178 583ZM908 630L906 638L909 638ZM949 550L949 562L952 561ZM920 460L914 483L919 483ZM978 478L982 488L977 489L974 480ZM1112 710L1105 722L1107 723ZM1003 740L1009 746L1010 745ZM928 393L925 404L927 404ZM965 502L969 508L971 506Z"/>
<path fill="#a848d4" d="M1249 717L1261 733L1264 730ZM845 491L844 510L846 510Z"/>
<path fill="#b2477a" d="M914 393L906 410L896 411L904 394ZM895 359L889 371L891 372ZM1322 387L1323 394L1326 393ZM879 577L857 591L852 583ZM1335 795L1325 812L1329 814ZM1196 431L1203 438L1205 435ZM1164 723L1156 729L1157 730ZM1108 766L1130 777L1120 788ZM1216 390L1213 408L1218 408Z"/>
<path fill="#c890ec" d="M1086 700L1086 707L1088 707ZM1073 507L1077 521L1081 519ZM1024 796L1028 809L1030 809ZM1148 751L1149 762L1154 761ZM1096 538L1095 548L1097 548ZM845 492L855 501L857 499ZM968 541L960 546L961 547Z"/>
<path fill="#f5b0a0" d="M1066 703L1061 707L1058 702ZM909 559L929 575L922 589ZM1244 388L1229 396L1229 386ZM1329 414L1335 424L1332 425L1326 416ZM1094 442L1092 456L1095 456ZM1153 596L1147 619L1149 620ZM1151 641L1151 664L1156 664Z"/>
<path fill="#b5446d" d="M1095 616L1095 629L1098 628ZM976 394L981 417L968 417L963 395ZM1252 734L1241 741L1242 743ZM937 510L936 517L938 517ZM1265 476L1275 488L1277 486ZM1084 687L1074 692L1072 688Z"/>
<path fill="#7fd0c0" d="M936 676L936 684L933 682L934 675Z"/>
<path fill="#e040a0" d="M998 661L1002 665L1003 664ZM879 609L883 624L887 622ZM1018 718L1017 742L1022 741ZM1215 539L1210 550L1212 550ZM896 407L894 421L897 421ZM960 421L973 438L976 435ZM940 682L942 690L945 688ZM950 675L950 687L955 686ZM981 524L982 529L985 528Z"/>
<path fill="#d86ad0" d="M1024 448L1028 453L1030 451ZM852 512L847 521L838 519L843 510ZM1309 666L1312 679L1313 679ZM915 681L919 695L906 694L902 679ZM1203 572L1206 581L1201 584L1198 576ZM978 579L973 587L974 588ZM985 463L986 474L988 474ZM1138 662L1139 670L1142 668ZM1101 570L1093 575L1095 578ZM1035 687L1024 694L1025 695ZM1130 495L1130 506L1131 506ZM958 582L957 606L946 602L947 578ZM1124 589L1126 597L1128 597ZM1073 559L1068 574L1072 574ZM926 696L931 709L933 708Z"/>
<path fill="#c2507a" d="M1115 359L1105 367L1106 368ZM1064 536L1052 543L1053 545ZM1048 651L1034 672L1012 673L1026 652ZM1303 582L1293 604L1298 606ZM902 569L901 582L903 582ZM1278 636L1276 643L1278 643ZM1194 465L1187 477L1189 478ZM1235 748L1237 760L1239 759ZM1105 666L1112 673L1113 672ZM1238 418L1242 440L1246 440ZM1288 449L1278 464L1283 467ZM1317 581L1316 588L1319 588ZM1099 511L1085 517L1080 508ZM1215 374L1221 379L1222 378ZM945 621L950 640L954 639Z"/>
<path fill="#a880e8" d="M1328 771L1331 779L1332 778ZM1005 728L1012 736L1013 734ZM1161 387L1162 393L1164 392ZM1304 715L1310 728L1307 731ZM956 708L953 714L957 714ZM1258 520L1255 524L1257 525ZM994 768L988 781L989 781ZM1124 490L1129 509L1121 513Z"/>
<path fill="#f6c09a" d="M935 442L947 463L940 467L928 446ZM923 570L933 587L922 597ZM865 747L862 766L865 766ZM900 612L893 627L882 622L889 607ZM1299 581L1292 592L1297 594ZM1068 645L1069 658L1073 657ZM1148 579L1139 585L1141 588ZM1336 631L1340 637L1336 639L1331 633ZM1061 611L1066 622L1057 624L1053 612ZM899 470L903 489L906 488Z"/>
<path fill="#c4a0f4" d="M964 456L963 462L965 462ZM1157 478L1161 492L1153 492L1149 478ZM1150 357L1154 379L1160 377ZM1290 571L1293 584L1296 583ZM1022 618L1024 629L1027 629ZM1239 408L1243 417L1244 417ZM854 794L851 813L856 813ZM1260 503L1256 507L1259 509ZM847 447L836 463L824 462L835 446ZM1260 398L1248 406L1243 403ZM1043 738L1043 748L1038 751L1038 741Z"/>
<path fill="#f06a70" d="M897 773L891 777L892 778ZM1055 650L1056 661L1058 660ZM957 526L968 536L968 535ZM1278 476L1282 487L1283 486ZM893 746L889 751L892 752ZM956 551L960 561L953 566ZM1241 491L1221 501L1211 487ZM907 363L888 378L883 359L902 344ZM1160 559L1158 579L1144 574ZM1283 535L1283 546L1286 546ZM889 717L877 737L882 739ZM1068 651L1061 661L1054 654L1061 644ZM1254 361L1257 370L1254 370L1251 360ZM1023 719L1030 741L1018 744L1011 722ZM1092 656L1097 668L1090 671L1085 659ZM930 452L942 469L944 467ZM1325 621L1314 640L1319 642ZM862 658L857 671L858 671ZM1314 793L1308 796L1306 792L1312 789ZM1023 496L1025 510L1029 508ZM1264 548L1269 554L1271 553Z"/>
<path fill="#a83a62" d="M843 496L849 502L850 501ZM1065 560L1069 571L1060 574ZM1275 403L1260 415L1256 405L1271 394ZM1258 731L1260 742L1262 742ZM1137 558L1132 561L1134 563ZM943 367L932 383L927 374L938 358ZM1014 672L1012 678L1015 678ZM1292 589L1294 600L1296 600ZM1334 411L1347 433L1335 446ZM1105 749L1098 768L1086 761ZM931 356L930 365L932 365ZM897 372L911 393L908 404Z"/>
<path fill="#e85890" d="M1240 591L1242 600L1244 599ZM970 516L966 522L969 523ZM1155 550L1163 558L1165 555ZM1317 790L1325 804L1319 806ZM1081 530L1080 538L1075 537ZM1219 482L1207 490L1207 491ZM1073 644L1066 657L1068 658ZM1061 554L1058 559L1059 560ZM1240 744L1239 755L1243 755ZM1153 504L1154 511L1157 510Z"/>
<path fill="#a23a68" d="M949 394L958 415L948 420L940 399ZM1246 701L1245 709L1247 709ZM1058 575L1055 581L1057 582ZM1141 553L1148 561L1149 559ZM1187 777L1182 785L1184 786ZM1104 405L1110 427L1099 439ZM855 451L852 456L853 457ZM1200 705L1206 715L1209 713ZM1123 498L1118 501L1119 502ZM939 713L943 719L945 717ZM1134 555L1122 562L1124 564ZM878 524L882 534L886 531ZM1124 483L1121 494L1117 491Z"/>
<path fill="#f08e80" d="M1330 394L1330 404L1325 406ZM1022 582L1020 588L1022 588ZM1266 424L1275 446L1277 445ZM1173 499L1157 519L1159 521ZM1211 788L1214 794L1212 794ZM1263 452L1260 470L1263 470ZM998 387L1000 397L992 399Z"/>
<path fill="#b060e8" d="M976 741L964 749L965 750ZM1064 641L1049 647L1048 634L1062 628ZM1312 350L1307 357L1309 358ZM910 730L917 736L915 737ZM981 779L978 786L981 787ZM923 656L917 667L919 667ZM933 709L933 717L935 716ZM1154 774L1153 786L1156 786ZM1276 530L1267 534L1262 529ZM1072 586L1082 592L1073 596L1064 590ZM960 568L952 573L952 566L961 562ZM1283 751L1280 757L1283 758ZM1236 422L1252 429L1245 440Z"/>
<path fill="#c95c84" d="M994 718L993 737L998 736ZM1169 738L1178 763L1165 762ZM1039 601L1045 625L1037 629L1032 604ZM918 385L921 394L922 393ZM1003 768L984 779L981 772ZM1217 766L1204 787L1209 790ZM1261 616L1260 630L1262 630ZM1206 457L1213 477L1197 483L1190 463ZM1197 390L1186 415L1170 417ZM1045 672L1051 688L1043 688ZM934 632L943 654L930 655Z"/>
<path fill="#f7b890" d="M1264 710L1266 723L1268 722ZM1251 643L1249 649L1251 649ZM1124 722L1121 728L1122 728ZM1234 646L1237 655L1240 654ZM1021 708L1020 714L1023 713ZM1235 604L1228 628L1217 625L1224 601ZM1331 484L1336 490L1333 493L1328 486ZM1250 540L1256 564L1245 566L1240 542Z"/>
<path fill="#b5446d" d="M908 566L899 588L887 589ZM1001 402L998 413L1001 413ZM961 460L939 472L932 463ZM1071 788L1073 796L1074 796ZM961 667L971 678L972 676ZM867 744L865 757L857 758L859 745Z"/>
<path fill="#bd4c76" d="M959 662L948 669L949 670ZM976 648L979 670L970 673L968 651ZM1213 661L1208 679L1213 679ZM1297 590L1295 596L1297 597ZM1065 436L1071 444L1072 442ZM1035 495L1017 507L1010 495ZM867 547L870 551L871 550ZM1032 576L1046 595L1035 600L1022 582ZM1210 758L1201 780L1184 776L1193 753ZM1093 709L1082 714L1079 709Z"/>
<path fill="#c45580" d="M1190 560L1188 566L1190 566ZM1290 495L1283 508L1288 509ZM1083 490L1068 514L1050 511L1065 487ZM882 421L890 428L891 427ZM1126 386L1123 394L1126 395ZM1285 692L1280 701L1283 702ZM903 580L922 589L920 602L901 593ZM1049 737L1037 745L1038 747ZM1203 537L1202 547L1204 547ZM1004 613L997 619L998 620ZM1098 429L1082 447L1084 449Z"/>
<path fill="#f4a08c" d="M856 398L867 406L865 415L854 407ZM1132 539L1125 560L1130 561ZM1059 622L1063 632L1064 631ZM872 642L873 648L874 648ZM865 515L863 532L866 532ZM1016 728L1018 737L1020 736ZM860 615L863 631L849 633ZM905 759L904 771L906 771Z"/>
<path fill="#f0a0b4" d="M1340 664L1336 674L1338 675ZM1246 545L1248 557L1250 556ZM1096 601L1103 608L1104 606ZM1321 655L1315 675L1319 676ZM937 452L939 467L942 466ZM1260 557L1261 570L1262 570ZM1022 674L1013 696L996 691ZM1274 437L1266 460L1269 461ZM1285 497L1279 506L1283 507Z"/>
<path fill="#8aa4ec" d="M1300 713L1287 733L1273 731L1287 711ZM955 790L964 811L950 813ZM1194 397L1183 418L1178 412L1189 391ZM953 442L952 453L946 451L947 440ZM1119 679L1127 692L1118 694ZM1067 748L1063 754L1065 754ZM1248 387L1252 399L1254 398ZM1206 716L1194 724L1189 723ZM856 697L856 722L859 721ZM1229 781L1231 793L1235 792ZM849 353L844 370L833 365L837 349ZM1212 716L1216 722L1218 719Z"/>
<path fill="#f9d4a8" d="M940 712L935 719L937 720ZM1297 637L1297 651L1300 651ZM1281 478L1282 492L1285 491ZM1257 743L1250 755L1252 756ZM1206 724L1215 746L1208 745ZM1180 439L1179 453L1182 453ZM1241 443L1252 453L1253 452ZM1271 509L1273 517L1276 516ZM1229 379L1222 382L1218 379ZM1213 439L1215 457L1203 465Z"/>
<path fill="#f08aa0" d="M916 407L921 424L911 424L906 407ZM1118 614L1131 633L1124 636ZM889 686L893 699L896 698ZM1166 490L1163 498L1165 498ZM844 758L843 766L840 764L841 756ZM925 446L923 458L924 458Z"/>
<path fill="#a858d8" d="M1229 429L1230 451L1235 450ZM1258 569L1262 591L1250 590L1246 568ZM1258 733L1255 745L1257 745ZM1223 350L1224 361L1221 364L1219 353ZM1327 749L1339 764L1342 761ZM1015 483L1016 499L1019 499ZM1154 464L1169 485L1172 482ZM1060 671L1069 680L1071 678ZM1035 580L1033 591L1036 591Z"/>
<path fill="#d04aa8" d="M1144 718L1146 733L1141 735ZM907 654L904 664L900 662L904 653ZM917 404L925 413L926 412ZM1143 409L1135 415L1135 416ZM846 687L836 693L838 695ZM931 375L921 383L923 385ZM1124 416L1126 423L1122 427L1119 420ZM1106 457L1104 463L1108 464ZM1218 616L1211 620L1212 622ZM904 474L889 484L879 480Z"/>
<path fill="#e46aa6" d="M1009 712L1028 723L1029 741ZM1240 644L1254 652L1246 664L1232 656ZM1226 535L1224 539L1225 540ZM871 492L874 511L866 514L863 494ZM1080 571L1078 583L1080 583ZM1266 463L1269 476L1274 475ZM947 632L945 644L950 644ZM1205 532L1200 540L1203 541ZM1144 668L1151 676L1152 675ZM938 519L953 527L948 532L933 524Z"/>
<path fill="#f29ab8" d="M872 720L882 726L876 734L866 728ZM905 478L912 499L917 497ZM958 483L949 489L950 490ZM1302 437L1295 442L1290 440ZM1094 399L1087 403L1087 397Z"/>
<path fill="#a848d4" d="M893 771L886 795L867 792ZM988 383L993 390L995 388ZM849 639L852 654L854 653ZM1085 674L1095 688L1099 685ZM1108 382L1103 396L1106 397ZM875 562L874 581L880 580ZM987 520L986 530L988 530ZM933 727L923 744L916 745ZM1073 572L1067 588L1060 582L1066 567ZM1205 509L1205 516L1202 514Z"/>
<path fill="#f4a888" d="M1212 783L1203 801L1193 803ZM1233 615L1232 624L1229 623ZM1034 772L1049 791L1052 787ZM1273 369L1274 377L1277 377ZM1237 618L1234 626L1229 623ZM920 535L936 546L931 552L915 541ZM1317 430L1312 438L1311 434L1315 427ZM1179 438L1185 452L1179 460L1173 446Z"/>
<path fill="#b2477a" d="M970 714L964 717L966 719ZM1056 661L1063 669L1065 667ZM1107 516L1109 521L1110 521ZM964 721L958 741L962 742Z"/>
<path fill="#b94a68" d="M1122 395L1120 405L1126 405ZM1006 554L996 571L1001 573ZM955 621L955 628L958 627ZM1169 682L1170 689L1172 689ZM1041 470L1036 482L1026 480L1031 468ZM848 601L847 606L849 606ZM947 435L949 454L954 453ZM1117 635L1108 657L1091 654Z"/>
<path fill="#f5b0a0" d="M1302 493L1297 495L1299 498ZM868 410L868 424L871 423ZM1273 755L1276 766L1279 765ZM1267 700L1262 711L1268 712ZM1202 396L1210 408L1204 412L1197 399ZM1321 550L1309 556L1299 550L1312 545ZM1088 609L1084 615L1082 613L1085 607Z"/>
<path fill="#5fc4c8" d="M970 371L974 392L977 391Z"/>
<path fill="#9a5ae0" d="M1222 520L1220 540L1211 540ZM1156 458L1148 469L1151 470ZM1028 466L1021 488L1027 489ZM872 482L881 489L879 492L870 485ZM1138 499L1136 514L1140 514Z"/>
<path fill="#ae4264" d="M979 439L984 455L974 454L969 438ZM1199 715L1189 740L1183 731L1194 707ZM1034 783L1044 789L1044 793L1035 787ZM1211 532L1217 547L1208 550L1203 535ZM852 568L859 591L849 588L842 565ZM896 354L907 364L908 362Z"/>
<path fill="#c890ec" d="M1003 408L1005 420L1008 419ZM859 776L869 781L868 785L858 779ZM1173 753L1177 763L1179 762Z"/>
<path fill="#b07ae6" d="M898 506L894 513L896 513ZM888 753L891 762L893 761ZM1091 449L1090 455L1093 455Z"/>
<path fill="#f8c8b0" d="M1232 391L1230 400L1231 400ZM1070 718L1064 726L1066 727ZM1294 789L1292 813L1275 817ZM1333 609L1333 618L1337 617Z"/>
<path fill="#6ab0e4" d="M928 782L906 792L908 777L931 766Z"/>
<path fill="#7fd0c0" d="M1030 541L1036 551L1028 557Z"/>
<path fill="#a848d4" d="M919 658L933 678L928 683ZM948 539L943 547L945 547ZM1232 550L1232 571L1216 571L1216 550ZM1040 543L1045 555L1047 554ZM910 378L906 384L909 385ZM1124 401L1117 426L1120 426ZM936 675L938 684L941 683ZM1130 762L1122 777L1115 777Z"/>
<path fill="#e46aa6" d="M1089 687L1087 692L1090 693ZM1246 575L1250 587L1253 585ZM1221 433L1212 438L1214 440ZM1155 708L1148 712L1149 713ZM1281 499L1283 506L1286 505ZM1298 451L1299 458L1302 457ZM1132 504L1125 508L1126 509ZM1004 611L1012 631L1003 629L995 609ZM892 467L886 479L890 480ZM1177 677L1188 692L1180 694L1169 679ZM1335 515L1331 528L1333 528ZM1156 722L1152 729L1154 729ZM893 389L896 404L899 403ZM877 720L876 732L879 732ZM933 482L932 502L917 503Z"/>
<path fill="#f6c09a" d="M1114 516L1118 525L1120 524ZM1102 756L1093 760L1091 758ZM1217 775L1220 801L1223 800ZM1135 484L1128 487L1130 489ZM1321 499L1331 509L1332 507ZM910 395L913 404L915 403ZM1337 386L1329 405L1318 404L1326 386ZM1014 608L1014 616L1016 616ZM872 525L877 545L871 543L866 523ZM1016 554L1015 559L1018 559ZM1073 624L1069 631L1070 632ZM1217 698L1224 701L1219 704L1213 701ZM1013 465L1014 471L1017 469ZM1297 400L1298 413L1301 412ZM1178 612L1173 624L1164 622L1169 610ZM1312 394L1296 410L1299 412ZM849 405L840 412L841 414ZM1335 472L1333 485L1336 485ZM861 485L862 491L865 489Z"/>
<path fill="#f9d4a8" d="M1337 769L1342 782L1344 781ZM993 587L1008 593L1000 604ZM918 396L919 404L921 403ZM922 603L918 610L919 611ZM1319 642L1317 652L1321 652ZM1090 706L1084 714L1077 712L1083 703Z"/>
<path fill="#c2507a" d="M1146 777L1145 784L1147 784ZM852 747L843 762L848 765ZM1065 388L1062 401L1064 402ZM1251 761L1247 769L1249 769ZM1221 669L1219 679L1222 679ZM1074 573L1080 590L1074 588ZM1240 760L1242 767L1245 766ZM1157 454L1153 466L1155 467ZM868 627L857 633L859 635Z"/>
<path fill="#a83a62" d="M1144 648L1140 660L1142 660ZM860 492L862 499L865 497ZM1028 362L1021 384L1013 377L1020 355ZM1321 705L1322 717L1324 716ZM1208 468L1209 485L1202 490ZM989 636L988 651L990 651ZM1144 378L1155 399L1149 412ZM867 575L872 586L869 591L864 580ZM1174 418L1163 431L1166 433Z"/>
<path fill="#f8c8b0" d="M1215 658L1197 666L1193 659L1211 651ZM1219 469L1213 477L1215 478ZM1265 755L1260 765L1261 765ZM1293 565L1296 573L1289 573ZM1282 681L1280 689L1282 689ZM924 504L930 514L933 512ZM1258 485L1247 508L1250 509ZM1310 497L1310 509L1314 508ZM1311 640L1305 648L1300 644L1306 635Z"/>
<path fill="#e040a0" d="M1288 702L1290 714L1294 713ZM973 596L964 608L967 609ZM981 592L979 603L981 603ZM1037 734L1036 756L1025 757ZM983 435L976 449L980 450ZM912 648L925 670L928 667Z"/>
<path fill="#ae4264" d="M1068 610L1078 620L1080 618ZM853 414L855 432L840 436ZM937 490L942 496L944 494ZM1192 634L1182 642L1183 643ZM867 742L853 758L857 760ZM1270 717L1262 721L1264 723ZM994 433L998 444L990 444L985 433ZM1281 355L1275 367L1277 368ZM1166 746L1174 765L1176 764ZM960 398L962 409L965 408ZM1296 437L1282 460L1272 459ZM1329 520L1324 531L1328 532Z"/>
<path fill="#bd4c76" d="M972 790L968 796L970 796ZM1164 661L1146 668L1137 662ZM861 776L859 791L852 789ZM1106 620L1105 629L1108 629ZM943 717L939 723L942 724ZM983 516L962 531L957 524L977 510ZM956 384L956 397L958 397Z"/>
<path fill="#d86ad0" d="M897 674L901 681L895 682L891 675ZM1130 643L1132 651L1133 651ZM894 638L891 645L893 645ZM1101 533L1101 558L1104 558ZM986 374L996 379L992 387L982 382ZM851 573L857 578L858 577ZM1335 607L1332 619L1335 619ZM1118 385L1127 402L1131 398ZM861 527L865 545L867 544ZM1084 517L1086 536L1088 536ZM1008 723L1007 731L1009 731ZM929 672L927 684L929 684ZM844 692L833 698L835 701ZM1287 548L1289 562L1293 561ZM991 591L980 599L981 600ZM1052 500L1047 505L1047 505ZM1215 426L1203 431L1204 423ZM1041 743L1036 767L1039 768ZM1135 605L1134 611L1136 611ZM1033 546L1042 562L1045 559ZM1221 584L1214 603L1217 604ZM1272 718L1271 725L1274 724Z"/>
<path fill="#f08aa0" d="M1054 391L1045 398L1047 400ZM1338 484L1329 490L1331 492ZM973 578L979 587L981 585ZM1219 494L1219 501L1221 501ZM871 671L854 688L857 690ZM926 561L923 584L912 588L916 565ZM1131 641L1132 650L1126 650ZM1084 772L1091 777L1086 781L1079 776ZM939 567L936 580L938 580ZM992 365L987 374L991 375Z"/>
<path fill="#7fd0c0" d="M1075 753L1062 773L1053 773L1066 753ZM861 785L857 792L854 792Z"/>
<path fill="#a23a68" d="M847 735L846 745L849 745ZM1237 436L1221 457L1223 458ZM997 620L1000 643L983 640L981 616ZM1113 786L1113 803L1106 809L1106 792ZM1122 569L1108 589L1094 583ZM846 756L842 761L845 762ZM1271 622L1266 635L1256 632ZM1237 553L1232 555L1234 557ZM1168 422L1179 432L1181 430Z"/>
<path fill="#8aa4ec" d="M1234 512L1232 519L1235 519ZM1068 652L1064 659L1066 659ZM1283 398L1284 416L1271 413ZM1256 556L1263 572L1253 570ZM1202 504L1193 509L1192 505L1202 501ZM1035 350L1028 355L1029 357ZM1163 590L1173 598L1174 597ZM1329 364L1326 372L1328 372ZM935 736L939 746L930 747ZM924 599L921 609L915 612L917 602Z"/>
<path fill="#c45580" d="M1323 660L1319 672L1322 672ZM1201 551L1198 556L1201 556ZM1283 765L1281 785L1269 780L1271 760ZM999 461L997 471L1003 471ZM849 434L845 450L836 453L840 437ZM1264 630L1279 638L1272 645L1257 638ZM1078 384L1067 391L1060 387L1071 380ZM1196 374L1191 397L1184 390ZM1179 645L1174 649L1175 650Z"/>
<path fill="#a880e8" d="M1116 649L1122 654L1123 653ZM1129 368L1125 374L1126 375ZM1165 458L1157 469L1159 470ZM1068 373L1050 383L1051 375ZM1305 376L1299 389L1302 390ZM1161 785L1158 790L1160 791ZM1055 364L1044 373L1045 374ZM1260 578L1258 585L1261 585ZM1177 543L1166 553L1167 554ZM1187 515L1179 527L1182 528ZM1326 385L1317 392L1318 393ZM1241 772L1244 780L1246 779ZM1010 599L1015 618L1019 617Z"/>
<path fill="#f06a70" d="M859 777L850 785L851 787ZM975 706L984 711L983 719L974 714ZM1227 418L1231 426L1227 425L1223 417ZM1049 472L1047 478L1049 478ZM850 350L848 360L842 359L844 349ZM1306 587L1312 592L1309 594ZM1099 698L1097 719L1085 713ZM1327 709L1311 722L1315 726ZM1057 600L1069 616L1072 613ZM1273 785L1270 810L1275 810ZM1059 486L1046 500L1050 502ZM937 650L939 660L936 662L934 652ZM1017 538L1008 556L1010 557ZM926 692L926 713L911 704Z"/>
<path fill="#c890ec" d="M975 537L966 543L968 545ZM1175 695L1177 704L1179 703ZM1179 787L1167 794L1167 786ZM917 472L919 480L921 480ZM1148 348L1158 358L1159 357ZM875 445L878 461L883 459ZM1121 659L1117 680L1111 673L1115 652ZM1140 525L1135 533L1138 534Z"/>
<path fill="#c4a0f4" d="M1141 536L1149 554L1139 553L1130 535ZM1143 671L1149 685L1150 684ZM922 415L906 425L900 410ZM1002 607L994 623L997 625ZM953 583L950 600L939 595ZM1005 515L1013 524L1014 522ZM964 752L984 760L987 774ZM930 727L935 739L936 738ZM1100 732L1092 751L1087 747ZM869 753L864 773L854 773ZM1183 680L1195 685L1191 689L1179 683ZM1248 490L1242 498L1245 499ZM1205 525L1207 535L1210 534ZM1252 730L1252 736L1253 736ZM1054 363L1054 371L1056 371ZM1083 478L1080 492L1082 492ZM1304 359L1300 363L1303 365ZM872 514L870 526L875 526Z"/>
<path fill="#e85890" d="M1158 517L1153 529L1157 530ZM1235 594L1234 603L1236 603ZM1153 590L1159 607L1148 609L1142 591ZM1197 603L1194 613L1196 613ZM1176 760L1179 772L1180 771ZM1089 715L1088 729L1080 727L1080 713ZM1284 435L1290 442L1292 440ZM907 407L914 428L918 427Z"/>
<path fill="#f0a0b4" d="M1165 731L1159 740L1160 741ZM1150 605L1140 613L1143 616ZM1037 689L1030 700L1025 695L1032 684ZM1265 768L1260 781L1264 782ZM1173 425L1169 444L1175 445ZM989 658L975 675L978 677Z"/>
<path fill="#b94a68" d="M904 367L908 373L910 371ZM889 729L897 743L892 748L885 734ZM845 649L856 670L847 675L836 654ZM910 752L908 775L902 771L904 749ZM1287 590L1279 612L1284 613ZM864 754L871 779L860 780ZM1166 659L1161 667L1162 668ZM1207 472L1211 481L1212 480Z"/>
<path fill="#b07ae6" d="M1068 372L1054 383L1058 387ZM866 376L863 387L865 387ZM888 477L895 495L884 496ZM939 549L930 571L917 568L926 546ZM1258 467L1258 473L1260 472ZM941 736L949 746L951 743ZM1014 786L1025 796L1027 794ZM894 448L900 451L900 455ZM935 378L944 397L930 401ZM998 782L1000 796L1003 795ZM962 756L959 767L964 767Z"/>
<path fill="#b2477a" d="M1289 495L1282 504L1285 506ZM1265 601L1259 616L1252 615ZM856 601L859 622L851 627ZM1086 632L1083 636L1085 637Z"/>
<path fill="#d04aa8" d="M1204 744L1204 751L1205 751ZM905 684L912 693L914 691ZM935 416L941 428L936 436L930 424ZM1215 642L1197 654L1191 640L1209 628Z"/>
<path fill="#a858d8" d="M1245 417L1248 439L1253 437ZM1271 515L1270 520L1272 520ZM1124 411L1121 422L1112 423L1115 412ZM1229 545L1228 552L1230 552ZM1246 621L1248 636L1239 643L1237 627Z"/>
<path fill="#b5446d" d="M945 449L938 465L931 458L938 442ZM1118 639L1110 643L1111 646ZM1307 752L1309 773L1293 774L1291 753ZM1148 665L1147 678L1151 677ZM907 371L913 389L900 394L894 375ZM882 661L882 671L885 670Z"/>
<path fill="#5fc4c8" d="M1066 703L1074 716L1067 716ZM1191 689L1193 696L1196 695Z"/>
<path fill="#f08e80" d="M1312 617L1315 637L1320 636ZM1042 583L1043 594L1046 594ZM1125 699L1120 707L1122 708ZM1339 355L1338 369L1344 368ZM895 401L888 411L891 413ZM1067 576L1065 583L1067 584ZM1122 358L1120 365L1116 362L1119 356ZM1235 419L1228 436L1222 428L1230 410ZM1288 495L1290 501L1292 501ZM974 635L970 643L972 644Z"/>
<path fill="#b060e8" d="M956 484L970 489L971 495L957 489ZM1127 475L1121 480L1118 478ZM1147 698L1151 718L1143 719L1140 700ZM1118 451L1117 463L1118 463ZM916 426L913 438L915 438ZM870 497L878 511L882 508Z"/>
<path fill="#f4a888" d="M972 482L968 496L974 496ZM1163 652L1162 662L1165 662Z"/>
<path fill="#9a5ae0" d="M1131 485L1130 504L1134 504ZM1230 699L1234 707L1235 706ZM1044 547L1032 555L1033 557ZM948 568L939 588L926 588L934 568ZM861 681L859 689L862 689ZM943 509L935 527L938 528ZM1135 683L1130 690L1126 686L1131 678ZM1012 666L1010 677L1005 671L1007 661ZM946 502L944 521L936 524Z"/>
<path fill="#6ab0e4" d="M883 669L866 687L869 690ZM884 782L889 789L891 787ZM1191 461L1192 469L1195 468Z"/>
<path fill="#f29ab8" d="M946 502L959 512L950 515L937 504ZM1135 370L1142 386L1132 384ZM849 600L851 611L855 610ZM1091 772L1080 793L1082 794ZM858 498L850 503L854 507Z"/>
<path fill="#c95c84" d="M856 751L855 767L843 760ZM1172 769L1169 796L1156 784L1160 757ZM1156 445L1146 451L1146 442ZM1236 775L1228 799L1214 797L1221 773ZM1094 559L1095 569L1096 569ZM1108 382L1102 394L1105 395ZM1266 422L1259 426L1260 428ZM1267 623L1263 650L1243 651ZM1268 581L1277 591L1278 589ZM948 756L947 762L949 762Z"/>
<path fill="#f5b0a0" d="M1125 454L1126 476L1117 476L1116 455ZM907 545L908 558L903 561ZM1117 553L1120 576L1124 575ZM1055 653L1054 660L1056 659ZM1282 358L1288 367L1291 364ZM1237 643L1238 655L1233 655L1231 643ZM1310 384L1302 390L1306 393ZM1034 711L1032 721L1033 722ZM1296 771L1298 780L1299 779Z"/>
<path fill="#f7b890" d="M1018 566L1013 574L1008 574L1013 566ZM999 499L1004 518L996 522ZM1122 455L1130 479L1133 477Z"/>
<path fill="#f4a08c" d="M875 545L866 551L868 553ZM1114 512L1114 518L1115 518ZM964 723L957 742L960 743ZM1184 609L1174 616L1175 617Z"/>
<path fill="#c4a0f4" d="M1151 558L1160 563L1158 568L1150 563ZM893 537L888 548L893 549ZM1121 351L1107 371L1100 354ZM1143 431L1146 448L1150 447ZM984 767L990 774L991 772ZM1231 695L1227 702L1228 703ZM1163 547L1154 553L1156 554ZM1161 655L1170 668L1173 665ZM1061 428L1061 440L1062 440ZM1270 559L1270 571L1274 571ZM864 731L870 747L860 751ZM1089 404L1069 418L1064 403L1084 389ZM1204 441L1198 453L1204 454ZM957 474L952 488L955 488ZM916 368L917 393L922 392ZM953 682L946 687L947 688ZM864 634L865 651L870 650ZM1183 788L1184 810L1179 807L1178 785ZM1052 717L1058 720L1057 725L1051 721ZM1160 459L1166 465L1167 463ZM999 474L987 485L992 488Z"/>
<path fill="#e85890" d="M1293 690L1287 710L1281 708ZM939 562L951 583L934 582ZM1327 469L1324 489L1314 490ZM1249 446L1236 468L1239 469ZM1256 563L1256 573L1251 570ZM1199 742L1194 756L1197 757ZM1090 556L1086 571L1089 571ZM1322 399L1317 418L1310 417L1314 398ZM1264 376L1248 383L1242 371ZM1262 430L1262 439L1255 437L1255 428Z"/>
<path fill="#b2477a" d="M1338 712L1330 734L1318 734ZM986 652L995 662L997 660ZM1199 701L1210 709L1209 715L1198 707ZM1107 579L1118 594L1122 590ZM1296 685L1303 692L1304 690ZM1273 496L1271 506L1273 506Z"/>
<path fill="#e040a0" d="M871 517L873 522L874 521ZM968 606L974 617L975 616ZM957 759L948 765L947 757L957 752ZM873 763L877 774L867 774ZM890 623L875 642L876 643ZM881 572L879 589L868 581L870 564ZM875 553L876 563L869 565L868 555ZM919 532L908 539L910 542ZM856 652L846 674L837 672ZM905 584L913 597L905 602ZM1192 506L1197 514L1192 518ZM992 594L989 607L980 608ZM987 572L978 593L961 587L970 566ZM1136 728L1126 734L1123 725ZM864 515L870 525L866 526Z"/>
<path fill="#c2507a" d="M1243 598L1232 603L1227 594ZM1303 667L1291 675L1292 676ZM1273 616L1267 624L1270 625ZM1042 355L1040 361L1041 362Z"/>
<path fill="#bd4c76" d="M1267 707L1254 714L1246 709L1260 702ZM1022 502L1008 516L1011 518ZM1101 716L1103 722L1104 721ZM932 585L926 592L927 593ZM1258 782L1245 790L1235 785L1248 777ZM1196 713L1205 723L1207 721ZM990 349L988 361L990 361ZM846 627L841 635L845 637ZM1151 794L1155 804L1151 809L1147 800ZM1257 412L1256 423L1258 423ZM1262 695L1253 707L1258 709ZM983 646L982 661L976 657ZM1142 375L1148 382L1150 379ZM1162 694L1156 706L1161 707Z"/>
<path fill="#9a5ae0" d="M901 382L892 386L892 383ZM1138 550L1140 559L1134 558ZM1323 492L1332 498L1324 502ZM1062 531L1051 538L1043 532ZM1128 688L1133 693L1134 692ZM951 785L949 801L937 797ZM941 618L929 626L931 628ZM1017 788L1011 804L1015 805ZM1043 422L1047 433L1049 431ZM918 533L925 540L927 538ZM1081 696L1085 701L1087 700ZM1044 458L1043 482L1031 484L1031 460ZM1045 567L1039 579L1041 579Z"/>
<path fill="#f5b0a0" d="M1225 592L1233 600L1234 599ZM1188 689L1195 696L1196 694ZM1241 422L1241 436L1232 431L1232 417ZM1279 400L1281 408L1283 408ZM1323 770L1318 783L1320 783ZM1248 457L1246 463L1248 463ZM1228 591L1228 598L1231 597Z"/>
<path fill="#f06a70" d="M1109 506L1098 514L1096 504ZM1239 555L1239 565L1242 565ZM1036 744L1014 755L1004 741L1026 730ZM929 704L929 719L934 719ZM1257 660L1250 674L1254 676ZM1096 647L1097 665L1100 664ZM1255 382L1253 406L1257 406ZM1248 630L1243 641L1248 642ZM1331 593L1345 600L1344 611L1331 604ZM964 453L955 459L959 462ZM1184 581L1190 589L1193 587ZM877 555L885 558L884 561L876 558Z"/>
<path fill="#f6c09a" d="M1156 456L1140 466L1132 456L1148 445ZM1040 707L1035 717L1037 718ZM1117 562L1114 580L1106 578L1109 560ZM966 536L950 547L943 545L959 534ZM1117 411L1120 422L1116 422ZM935 597L935 621L937 621ZM986 721L988 737L993 736ZM1257 516L1267 525L1268 524ZM1057 597L1059 606L1055 605L1053 596ZM1320 361L1318 367L1320 368ZM1194 668L1192 687L1196 687ZM1199 543L1204 555L1205 555ZM1212 527L1210 534L1207 534L1210 527ZM919 697L927 717L918 725L910 706ZM1015 520L1014 532L1017 532ZM1193 566L1197 575L1201 571ZM1104 572L1106 586L1108 585ZM1107 601L1109 607L1111 606ZM1324 449L1322 461L1325 461ZM957 708L947 726L941 723L951 705Z"/>
<path fill="#b07ae6" d="M919 635L927 655L912 661L904 641ZM1184 687L1194 707L1187 709L1176 689ZM973 663L968 672L973 674ZM940 698L940 704L942 703ZM1083 666L1099 675L1092 688L1076 679ZM855 442L851 452L847 448L851 438ZM1004 758L1001 766L997 765ZM921 445L914 462L904 451ZM917 637L934 646L935 654L918 645ZM998 440L998 448L992 451L993 443Z"/>
<path fill="#a848d4" d="M854 486L857 495L859 494ZM953 667L948 680L943 673ZM930 787L936 802L926 805L920 790ZM918 576L919 588L922 588ZM1108 567L1103 579L1106 580ZM1198 608L1203 632L1205 631ZM986 400L979 413L981 414ZM944 623L930 629L923 619L937 613Z"/>
<path fill="#a83a62" d="M1241 603L1251 613L1252 612ZM1105 502L1098 513L1101 515ZM938 435L933 438L934 439ZM1107 636L1110 652L1113 652ZM1132 541L1125 552L1130 554ZM1027 735L1038 744L1039 742ZM1186 778L1179 782L1181 784Z"/>
<path fill="#f08e80" d="M1284 393L1302 405L1291 418L1273 406ZM1309 769L1307 780L1310 780ZM1309 507L1313 514L1310 516L1305 509ZM1322 581L1324 599L1329 598ZM1167 740L1168 758L1173 757ZM1288 460L1288 467L1282 468L1282 460ZM1163 492L1173 501L1175 499Z"/>
<path fill="#f08aa0" d="M905 501L901 515L903 515ZM1138 753L1147 757L1144 760ZM889 385L882 402L869 404L876 387ZM906 455L895 462L897 464ZM1144 519L1155 539L1148 548L1137 527ZM1043 625L1041 637L1045 637ZM1150 576L1157 588L1160 586ZM1008 504L1009 512L1011 512ZM843 559L830 575L833 577ZM1102 796L1097 799L1098 800Z"/>
<path fill="#b94a68" d="M1128 576L1133 601L1136 600ZM1324 789L1324 802L1325 801ZM1101 451L1122 467L1101 475L1080 459Z"/>
<path fill="#c890ec" d="M942 790L942 799L945 799ZM1076 349L1073 359L1067 361ZM893 548L898 556L896 558ZM885 663L896 668L892 671ZM936 452L938 461L939 461ZM1090 507L1089 512L1091 512ZM1082 394L1074 399L1075 401ZM1007 520L1009 538L997 544ZM948 668L950 675L951 675ZM1102 757L1110 763L1104 767L1096 761Z"/>
<path fill="#f8c8b0" d="M1168 761L1149 776L1146 768ZM1290 469L1286 482L1290 482ZM1152 634L1150 655L1154 655ZM1257 616L1256 621L1257 621ZM1338 532L1350 548L1352 546ZM1331 650L1326 664L1331 665ZM1161 770L1160 780L1162 780ZM1336 567L1344 587L1333 585Z"/>
<path fill="#8aa4ec" d="M1160 786L1154 801L1146 795ZM958 497L963 510L966 509ZM991 497L990 504L992 504ZM1085 790L1084 801L1087 801ZM973 630L958 639L950 631ZM1322 386L1311 393L1312 396ZM956 620L960 633L961 633ZM935 765L939 770L941 768ZM898 417L893 436L882 432L886 412ZM1021 733L1027 739L1028 738Z"/>
<path fill="#f4a888" d="M1222 737L1216 748L1218 749ZM1335 382L1339 388L1341 386ZM1270 447L1263 459L1264 460ZM1164 437L1159 447L1160 447ZM1289 372L1292 376L1294 374ZM1263 489L1252 496L1254 498ZM1207 432L1208 439L1209 439ZM1321 698L1324 702L1325 700ZM1238 669L1244 674L1245 673Z"/>
<path fill="#b060e8" d="M1043 678L1046 687L1049 685ZM1183 427L1193 445L1196 442ZM914 786L921 797L912 801L905 790ZM1188 734L1184 747L1186 747ZM1029 358L1027 364L1029 365ZM1207 703L1195 724L1200 726ZM1205 552L1209 561L1205 563Z"/>
<path fill="#c45580" d="M1195 597L1204 601L1204 605L1195 601ZM1224 634L1230 649L1218 651ZM1309 444L1298 450L1300 453ZM1063 622L1071 639L1064 651ZM1236 404L1242 420L1230 426ZM1175 724L1175 729L1176 729Z"/>
<path fill="#f4a08c" d="M936 359L939 377L928 385L925 367ZM947 761L939 782L944 783ZM983 686L986 697L988 696ZM858 653L851 666L847 662ZM893 543L892 550L889 549ZM966 613L969 636L958 638L955 615ZM1161 746L1168 751L1167 757L1160 752Z"/>
<path fill="#f7b890" d="M1160 761L1158 772L1160 772ZM1263 382L1257 396L1259 397ZM1200 562L1207 569L1208 567ZM1107 450L1096 472L1076 470L1087 448ZM1210 745L1217 751L1218 750ZM1196 448L1191 464L1196 465Z"/>
<path fill="#a23a68" d="M1093 576L1092 601L1097 601ZM1105 509L1110 518L1106 519ZM1070 718L1075 731L1077 730ZM878 456L878 466L880 466ZM899 791L895 800L901 801ZM1223 442L1211 448L1208 439ZM1096 397L1102 409L1097 416L1091 404ZM881 690L876 705L870 702L875 687ZM1230 427L1218 436L1216 427L1228 418ZM1270 696L1278 717L1263 720L1255 699Z"/>
<path fill="#c95c84" d="M1335 424L1335 434L1337 434ZM1190 533L1186 536L1187 537ZM874 510L872 523L875 523ZM1202 751L1205 767L1200 772ZM1200 419L1199 433L1201 433ZM975 475L966 482L967 484ZM1125 599L1125 606L1128 605ZM1061 376L1085 389L1076 396ZM1103 474L1110 482L1112 479ZM1166 545L1173 566L1176 565ZM1084 639L1090 647L1091 645ZM974 631L967 649L952 644Z"/>
<path fill="#a858d8" d="M889 350L883 361L885 362ZM1205 488L1197 493L1197 485L1205 480ZM988 606L985 628L991 629ZM1131 544L1135 558L1132 562ZM1194 795L1190 803L1192 803ZM1338 432L1340 439L1337 439ZM1268 587L1259 593L1256 591L1265 585Z"/>
<path fill="#f9d4a8" d="M1245 433L1242 441L1236 439L1239 431ZM1267 692L1266 714L1271 714ZM1058 568L1046 590L1050 591ZM1197 549L1207 560L1208 559ZM904 751L907 761L910 759ZM1256 713L1261 723L1264 720ZM938 780L923 789L920 783L935 774ZM1300 668L1297 675L1301 675Z"/>
<path fill="#f0a0b4" d="M1336 396L1330 405L1332 406ZM1253 681L1252 698L1239 699L1241 682ZM1295 578L1298 587L1301 585ZM1086 456L1078 472L1070 473ZM1176 474L1174 492L1161 492ZM975 492L974 515L980 514ZM1292 539L1297 558L1302 555ZM1302 469L1294 473L1292 470ZM1307 423L1308 437L1310 437ZM1338 649L1337 667L1326 664Z"/>
<path fill="#d04aa8" d="M1098 639L1092 643L1093 645ZM998 443L997 451L1000 451ZM882 585L881 609L870 604L871 581ZM992 576L991 590L985 591L985 577ZM920 521L916 531L918 532ZM1044 421L1056 438L1060 435Z"/>
<path fill="#a880e8" d="M1184 494L1193 499L1189 501L1180 497ZM1236 383L1232 393L1235 394ZM1326 761L1318 775L1314 770ZM1280 377L1281 385L1284 384ZM1226 471L1225 482L1219 480L1221 469ZM1339 728L1342 740L1343 740ZM1287 513L1290 527L1291 526ZM1117 653L1118 665L1121 665Z"/>
<path fill="#e46aa6" d="M1080 400L1082 414L1087 413ZM939 775L939 799L927 805ZM920 552L919 561L920 561ZM1007 786L1006 798L1010 798ZM1001 510L1005 520L1002 521L998 512ZM1127 671L1122 684L1125 684ZM1245 368L1240 376L1243 377ZM1303 474L1298 485L1300 486ZM1196 519L1187 531L1182 530L1190 518ZM1181 742L1186 760L1179 761L1174 743ZM919 491L914 495L915 496ZM881 526L888 545L877 552Z"/>
<path fill="#6ab0e4" d="M1010 717L1010 739L994 744Z"/>
<path fill="#7fd0c0" d="M865 534L867 542L869 540ZM1311 640L1303 653L1297 650L1305 637Z"/>
<path fill="#d86ad0" d="M1263 751L1253 759L1254 760ZM1218 616L1223 632L1212 630L1207 614ZM974 438L967 460L969 461ZM918 788L914 799L916 799ZM1002 464L990 472L987 465ZM890 471L892 485L896 483ZM1128 594L1112 608L1100 605L1117 591ZM1038 371L1035 386L1036 386ZM1081 634L1079 649L1082 649ZM1283 762L1283 774L1286 774ZM1233 481L1225 486L1226 488ZM953 571L959 585L948 590L943 576ZM881 674L884 684L885 683Z"/>
<path fill="#b5446d" d="M1040 703L1044 712L1046 711ZM1092 428L1091 439L1094 439ZM1205 533L1200 545L1194 543L1199 531ZM959 750L962 762L955 763ZM875 513L875 525L877 525ZM1087 615L1087 628L1090 627Z"/>
<path fill="#ae4264" d="M1338 616L1331 626L1328 619L1335 609ZM919 524L917 532L920 533Z"/>
<path fill="#5fc4c8" d="M1315 643L1332 656L1328 663Z"/>
<path fill="#f29ab8" d="M1062 427L1043 437L1044 419ZM1154 465L1167 482L1170 478Z"/>
<path fill="#f6c09a" d="M1266 721L1269 727L1270 726ZM1247 685L1228 702L1232 706ZM987 458L1004 469L995 482ZM1227 670L1227 685L1228 684ZM971 364L976 370L977 368ZM1119 382L1115 404L1099 402L1102 380ZM1236 349L1224 357L1219 350ZM1312 734L1312 748L1314 748ZM1209 670L1210 679L1211 679ZM1325 767L1318 777L1314 776L1320 766ZM1156 583L1161 592L1155 597L1150 588ZM1101 374L1096 377L1098 379ZM1325 690L1328 713L1314 718ZM1329 711L1331 718L1328 718ZM1319 479L1321 492L1323 491ZM959 410L961 418L962 418Z"/>
<path fill="#a83a62" d="M1119 493L1119 500L1120 500ZM1169 617L1164 624L1167 626ZM1335 725L1338 740L1327 744L1325 729ZM898 640L898 653L900 653ZM1216 744L1214 756L1209 753ZM1134 366L1130 389L1119 381ZM1029 691L1032 711L1036 709ZM1332 617L1327 623L1330 624Z"/>
<path fill="#c2507a" d="M1175 414L1185 435L1172 433L1162 412ZM871 489L871 514L875 514ZM1075 406L1080 419L1081 418ZM993 375L990 392L994 392ZM1014 717L1023 721L1019 726L1009 722ZM1078 644L1072 653L1067 652ZM1189 418L1179 424L1180 425ZM903 581L905 600L909 599ZM1127 720L1129 728L1131 727ZM1332 526L1329 546L1321 543Z"/>
<path fill="#f4a888" d="M1257 528L1257 534L1258 533ZM1133 620L1125 625L1127 627ZM1164 665L1177 670L1173 678L1160 673ZM1284 355L1282 371L1285 371ZM1188 457L1174 466L1169 457L1182 449ZM1052 796L1061 811L1065 808ZM1047 450L1044 454L1046 455ZM1197 478L1204 483L1201 487Z"/>
<path fill="#c890ec" d="M1115 365L1114 379L1104 377L1105 364ZM961 751L966 759L960 763ZM1215 412L1211 414L1212 416ZM1100 580L1101 586L1103 585ZM993 373L998 384L990 387ZM968 437L965 443L967 444ZM974 485L976 491L977 490ZM926 536L940 544L930 552L916 544ZM1175 501L1166 521L1151 515ZM1188 397L1185 405L1186 405ZM1041 515L1040 528L1042 528Z"/>
<path fill="#e46aa6" d="M843 382L841 399L843 400ZM864 662L875 669L866 673L855 667ZM1249 559L1241 565L1243 567ZM888 716L895 724L897 722ZM999 740L995 754L989 753L993 739ZM1237 757L1237 762L1239 761ZM949 518L945 532L949 532ZM936 630L930 650L932 651ZM936 362L931 376L926 368ZM1088 522L1079 527L1076 521ZM1073 447L1069 469L1060 461L1064 439ZM1102 731L1101 740L1103 740ZM1037 503L1034 514L1037 515ZM1094 686L1093 695L1095 695ZM1080 657L1080 671L1082 671ZM1329 650L1334 658L1327 661Z"/>
<path fill="#a880e8" d="M1159 591L1160 599L1162 598ZM1229 421L1218 426L1219 422ZM1108 740L1103 754L1106 755ZM1177 501L1173 514L1166 506ZM1001 455L1008 478L997 483L991 461Z"/>
<path fill="#d86ad0" d="M935 542L924 553L925 554ZM1288 606L1291 625L1284 623ZM879 363L882 372L878 373L875 365ZM861 531L858 537L859 537ZM890 687L888 708L893 708ZM1264 749L1260 755L1262 756ZM851 404L860 423L848 422ZM1161 643L1164 653L1166 652ZM1243 372L1239 383L1242 384ZM925 661L913 669L915 671ZM1132 764L1141 779L1145 775ZM1170 568L1164 580L1159 578L1165 566Z"/>
<path fill="#b2477a" d="M1044 605L1037 609L1039 611ZM888 412L903 419L892 426L877 419ZM1187 705L1193 711L1195 709ZM904 577L914 585L914 584ZM900 358L896 367L899 368ZM1022 464L1033 472L1024 479L1013 472ZM1252 733L1259 743L1250 743ZM906 613L896 618L895 612ZM979 580L974 592L966 587Z"/>
<path fill="#f0a0b4" d="M1231 632L1224 645L1215 637ZM959 600L952 617L957 619ZM1226 597L1221 606L1216 606L1221 597ZM1122 589L1119 599L1122 600ZM1175 656L1174 664L1177 664ZM1161 653L1160 660L1162 660ZM1338 582L1344 598L1340 602ZM1338 595L1348 608L1351 605Z"/>
<path fill="#c4a0f4" d="M1184 503L1182 526L1186 526ZM897 557L901 564L896 567L892 560ZM903 589L910 603L914 600ZM1037 501L1042 506L1044 504ZM1050 626L1039 634L1041 636ZM983 662L979 672L982 672ZM1140 417L1142 429L1145 429ZM1231 647L1247 656L1237 663ZM1141 626L1140 632L1142 632ZM1196 411L1199 420L1201 420ZM1063 377L1075 399L1070 412L1058 390ZM1093 675L1079 683L1072 679L1085 671ZM919 559L913 571L903 567ZM1247 590L1231 607L1236 610ZM942 353L937 367L939 367ZM959 647L960 658L963 657ZM1222 539L1206 548L1200 537ZM872 443L869 458L859 454L862 439ZM1122 372L1128 391L1132 389ZM1176 598L1168 602L1167 597L1174 594ZM1198 700L1201 710L1198 709L1195 699Z"/>
<path fill="#8aa4ec" d="M858 476L860 486L863 485ZM1084 693L1091 703L1093 701ZM1074 408L1068 411L1069 413ZM1272 448L1270 459L1271 459ZM966 362L960 374L951 371L958 359ZM879 409L878 422L880 422ZM932 425L928 442L920 437ZM919 723L913 733L915 734ZM1228 694L1232 699L1234 697ZM1280 409L1280 417L1278 417ZM888 533L890 545L882 543L880 532ZM1023 392L1016 404L1020 406ZM1075 584L1069 599L1062 599L1068 584ZM1126 515L1115 527L1118 529ZM877 610L876 623L882 622ZM1230 467L1234 477L1239 473ZM1252 572L1255 579L1256 578Z"/>
<path fill="#b5446d" d="M1252 561L1251 574L1252 575ZM964 680L962 696L967 695ZM1325 539L1322 548L1325 549ZM1055 709L1051 714L1054 715ZM1073 651L1068 658L1071 659ZM995 758L993 776L999 776ZM1119 762L1127 788L1114 787ZM905 549L913 556L914 554ZM1172 736L1166 746L1172 748Z"/>
<path fill="#ae4264" d="M1279 439L1279 453L1281 453ZM1118 448L1117 455L1121 454ZM1145 401L1137 420L1130 417L1138 398ZM1052 716L1060 724L1062 722ZM884 629L867 643L870 646ZM1108 656L1099 665L1102 668ZM1275 417L1275 422L1276 422Z"/>
<path fill="#f7b890" d="M920 722L925 733L918 734L914 723ZM1215 376L1203 384L1204 386ZM1164 756L1155 763L1157 765ZM1217 674L1209 681L1210 682ZM1048 551L1051 559L1052 558ZM1165 410L1150 427L1153 429ZM1260 398L1257 410L1249 405L1252 393ZM1220 559L1210 570L1212 572Z"/>
<path fill="#b060e8" d="M1000 573L993 584L987 581L995 569ZM976 737L979 744L980 743ZM972 698L960 707L962 709ZM943 479L955 497L957 495ZM1108 607L1105 611L1106 612ZM1011 381L1010 390L1004 390ZM1100 457L1096 467L1092 468L1096 458ZM1119 457L1116 467L1118 468Z"/>
<path fill="#f08e80" d="M1096 502L1109 509L1107 516ZM912 473L916 486L910 486L906 473ZM1015 352L1010 377L1014 377ZM1272 716L1273 725L1275 724ZM1301 710L1299 717L1302 717ZM873 587L878 598L879 597ZM1006 738L997 745L999 747ZM1258 621L1255 639L1242 634ZM1325 404L1335 422L1338 419ZM1310 478L1311 490L1313 490Z"/>
<path fill="#bd4c76" d="M1115 371L1106 382L1108 383ZM1123 618L1123 634L1118 636ZM1170 474L1174 485L1176 484ZM845 600L839 611L835 601ZM1169 718L1163 728L1165 729ZM897 772L898 794L885 803L884 781ZM1305 440L1307 455L1310 454ZM1119 674L1113 689L1116 690ZM1194 408L1208 417L1206 424ZM885 656L882 674L886 674ZM1226 357L1227 365L1229 365ZM981 386L958 397L960 385ZM856 658L848 670L838 670ZM1198 632L1190 638L1192 640ZM1079 580L1088 590L1089 589Z"/>
<path fill="#f06a70" d="M1203 701L1203 723L1206 723ZM1161 545L1152 550L1153 552ZM878 621L893 641L879 654L865 634ZM979 438L984 455L973 455L968 438ZM1124 677L1129 683L1130 682ZM1120 689L1120 704L1124 704ZM1013 417L1012 429L1005 432ZM992 477L992 485L994 485ZM901 694L898 706L888 709L892 697ZM1123 718L1130 737L1122 746ZM1255 650L1252 660L1253 661ZM878 492L867 501L868 502ZM1020 744L1020 752L1022 752ZM928 619L934 630L930 631L924 620ZM842 697L836 710L837 710ZM1200 577L1200 585L1194 583L1194 575ZM1047 541L1037 549L1038 550ZM848 554L847 565L840 563L841 553ZM1105 766L1104 787L1089 789ZM1159 480L1152 500L1146 497ZM1076 627L1081 637L1083 637ZM967 496L976 512L963 516L953 499ZM1204 504L1193 511L1194 514ZM1090 658L1082 663L1084 665ZM890 494L895 504L897 503ZM902 636L898 649L890 643L895 630ZM1100 676L1108 699L1092 695L1084 673ZM1075 375L1073 382L1075 382Z"/>
<path fill="#e85890" d="M1111 383L1110 388L1112 389ZM1149 554L1141 576L1134 571L1142 549ZM1107 433L1105 442L1101 440L1104 431ZM1110 741L1120 750L1121 748ZM1305 758L1300 784L1304 784ZM1285 387L1298 397L1294 402ZM1125 752L1122 757L1125 758Z"/>
<path fill="#9a5ae0" d="M1173 476L1155 489L1152 473ZM1114 457L1112 473L1100 473L1102 457ZM1224 660L1224 681L1210 677L1211 656ZM1135 428L1139 441L1131 440L1128 427ZM881 555L873 578L877 579ZM859 756L864 769L866 768ZM1022 377L1016 389L1019 390ZM1066 584L1065 590L1066 590ZM1018 662L1021 673L1012 670L1010 659Z"/>
<path fill="#d04aa8" d="M880 570L885 589L872 595L866 576ZM1093 740L1079 746L1078 734ZM984 634L987 644L989 643ZM1243 722L1253 731L1254 729ZM938 711L931 724L926 724ZM899 444L909 461L911 459Z"/>
<path fill="#b94a68" d="M1144 415L1152 432L1145 442L1137 425ZM1084 724L1082 741L1076 736ZM990 454L985 457L987 458ZM1132 479L1127 488L1128 489ZM1096 360L1098 374L1103 372ZM863 405L867 424L871 423ZM1191 788L1192 804L1198 803ZM945 637L947 643L948 642ZM1229 697L1223 701L1224 702Z"/>
<path fill="#f9d4a8" d="M1218 758L1221 775L1206 776L1204 759ZM1326 527L1330 533L1332 531ZM1113 383L1109 405L1093 410ZM1066 596L1062 604L1060 601L1064 593ZM934 679L939 695L928 695L923 678ZM1222 663L1224 671L1217 669ZM936 534L928 539L931 542ZM1227 400L1222 407L1225 408ZM1309 738L1309 748L1305 749ZM1272 521L1270 531L1263 530ZM1030 371L1028 381L1029 381ZM1278 620L1273 638L1266 640L1271 622Z"/>
<path fill="#e040a0" d="M936 615L931 624L934 625ZM877 389L874 398L875 398ZM891 565L899 580L891 584L883 569Z"/>
<path fill="#c95c84" d="M1280 386L1272 411L1264 406L1273 381ZM1071 530L1072 543L1068 543ZM1190 393L1191 402L1193 401ZM968 775L974 791L967 794ZM1107 668L1109 681L1104 680Z"/>
<path fill="#f08aa0" d="M874 468L866 480L868 481ZM1043 503L1043 514L1046 514ZM956 655L944 661L935 655L947 649ZM986 443L980 453L985 455ZM919 511L912 523L914 524ZM931 482L931 493L926 494ZM1174 412L1173 419L1176 419Z"/>
<path fill="#f29ab8" d="M853 733L847 749L841 741ZM857 530L855 538L859 538ZM1221 565L1218 572L1216 570ZM953 761L957 774L959 773ZM906 354L902 357L903 359Z"/>
<path fill="#a23a68" d="M1089 732L1085 748L1076 750ZM1262 431L1260 442L1263 442ZM1131 423L1128 430L1129 430ZM958 447L957 464L962 464ZM1200 560L1202 573L1205 572ZM1021 477L1018 486L1021 486ZM1077 788L1090 808L1092 807Z"/>
<path fill="#7fd0c0" d="M1270 746L1262 761L1267 763ZM871 679L865 695L859 691L865 675ZM1014 765L999 772L1000 759L1014 752Z"/>
<path fill="#b07ae6" d="M1044 562L1053 570L1054 568ZM1080 611L1077 620L1070 618L1073 610ZM1160 766L1169 785L1160 784Z"/>
<path fill="#f5b0a0" d="M1115 719L1113 732L1115 732ZM1298 749L1305 762L1307 760ZM1204 682L1199 703L1203 703ZM1057 681L1057 693L1053 695ZM1096 369L1084 375L1080 369ZM1202 478L1196 482L1197 483Z"/>
<path fill="#c45580" d="M1312 722L1319 730L1321 728ZM1078 398L1069 418L1059 414L1068 394ZM1257 694L1250 706L1251 707ZM1244 620L1244 642L1234 637Z"/>
<path fill="#a848d4" d="M957 428L966 436L967 435ZM891 472L889 479L891 479ZM887 791L888 803L890 802ZM940 449L937 455L941 456ZM1151 599L1151 611L1152 611ZM893 447L890 470L893 470ZM1202 766L1202 779L1192 776L1193 763ZM1322 624L1316 646L1319 646Z"/>
<path fill="#5fc4c8" d="M1150 529L1148 543L1150 543Z"/>
<path fill="#f8c8b0" d="M1323 555L1328 562L1325 565L1320 558ZM1235 605L1238 627L1227 635ZM1214 575L1213 583L1209 583L1210 575ZM1161 669L1166 676L1162 678Z"/>
<path fill="#f4a08c" d="M1064 683L1066 689L1063 689ZM1049 733L1031 742L1032 732ZM885 619L869 629L859 623Z"/>
<path fill="#6ab0e4" d="M1075 785L1071 794L1067 788ZM975 622L972 633L967 633L970 621Z"/>
<path fill="#f29ab8" d="M944 392L948 399L946 399ZM1111 561L1100 566L1100 559L1111 554ZM867 580L872 605L877 604ZM869 395L869 401L873 400ZM1031 450L1025 461L1027 462ZM984 420L968 439L969 441ZM848 517L845 525L840 524Z"/>
<path fill="#e46aa6" d="M1209 554L1204 568L1205 568ZM1310 476L1306 485L1307 485ZM1313 707L1317 718L1319 717ZM1095 742L1112 752L1112 759ZM871 642L865 662L857 658ZM1234 444L1249 454L1245 459ZM1230 667L1230 689L1218 688ZM926 531L935 547L926 551ZM903 752L896 764L885 761L892 749ZM1155 489L1159 508L1161 507ZM940 721L939 731L941 731ZM902 520L913 537L917 534ZM1151 405L1151 416L1154 416ZM850 407L852 430L856 430Z"/>
<path fill="#a23a68" d="M1326 535L1320 545L1323 546ZM866 713L857 737L840 723ZM941 724L937 731L939 732ZM861 397L855 406L857 407ZM1177 590L1183 597L1184 596ZM1037 688L1050 694L1048 698L1035 692ZM927 392L930 416L914 420L911 395ZM886 426L890 430L891 429ZM952 495L952 508L949 509ZM1252 405L1248 416L1251 416ZM1014 447L1008 457L1011 459Z"/>
<path fill="#b060e8" d="M1040 452L1038 461L1040 462ZM947 400L945 415L940 411L942 396ZM1202 621L1195 637L1184 638L1192 621ZM952 707L940 717L944 720ZM891 618L890 625L892 625Z"/>
<path fill="#f8c8b0" d="M998 640L994 650L990 651L994 641ZM1218 702L1216 708L1219 708ZM1159 658L1156 662L1159 663ZM1326 464L1316 474L1318 475ZM986 681L986 687L989 687ZM1283 613L1279 622L1283 623Z"/>
<path fill="#a880e8" d="M1238 607L1244 615L1246 613ZM1129 488L1137 491L1135 495L1127 491ZM1177 501L1173 506L1175 507ZM936 704L934 710L937 710ZM1139 578L1143 585L1139 588L1135 581ZM1148 452L1142 463L1137 456L1143 445Z"/>
<path fill="#f6c09a" d="M1291 647L1289 653L1292 654ZM1029 435L1033 454L1035 454ZM1302 360L1307 368L1302 369L1298 360ZM1087 747L1094 760L1088 770ZM996 654L989 667L991 668ZM1035 600L1035 617L1037 617ZM925 605L915 613L917 616ZM1098 780L1102 788L1097 789ZM1208 352L1214 366L1205 364L1199 350ZM957 709L956 716L957 716ZM959 723L959 731L961 730ZM862 555L863 568L858 568L857 555Z"/>
<path fill="#b94a68" d="M990 779L986 796L991 796ZM1206 611L1201 624L1203 625ZM1115 660L1119 673L1110 672L1105 659ZM1026 572L1032 589L1024 599ZM846 470L856 495L848 508ZM1242 523L1230 548L1212 541L1224 516ZM1184 731L1200 739L1191 750ZM1052 448L1047 469L1051 470ZM884 568L893 592L883 593L874 569Z"/>
<path fill="#c4a0f4" d="M1314 480L1311 487L1313 488ZM1305 690L1301 700L1295 698ZM896 465L881 476L880 469L895 458ZM1250 683L1249 692L1251 692ZM1130 553L1127 560L1125 559L1128 552ZM961 478L964 487L967 486ZM1067 490L1064 508L1054 507L1057 489ZM970 613L979 622L980 621ZM941 778L946 799L949 798ZM937 763L941 775L943 774ZM1093 491L1076 505L1080 509ZM1200 591L1194 602L1186 602ZM1258 423L1269 444L1263 449ZM844 709L838 722L841 723ZM1131 771L1136 790L1128 797L1123 777ZM1191 366L1184 383L1189 384ZM1167 571L1158 586L1150 580L1159 564ZM1052 768L1053 778L1057 776ZM1299 730L1294 741L1297 742Z"/>
<path fill="#f9d4a8" d="M1168 523L1170 536L1172 535ZM1323 497L1328 510L1329 509ZM1228 413L1233 425L1225 434L1220 421ZM1013 628L1024 637L1020 642L1008 633ZM1178 755L1172 758L1174 761ZM969 646L973 657L975 656ZM1292 387L1286 399L1288 400ZM1056 530L1053 535L1056 536ZM1327 643L1321 647L1322 649Z"/>
<path fill="#a848d4" d="M904 673L895 680L896 681ZM885 460L893 468L894 467ZM1247 378L1241 389L1238 388ZM897 628L899 639L902 637ZM909 451L908 461L910 461ZM914 429L920 443L922 442ZM1049 715L1044 727L1048 728ZM1209 354L1212 366L1208 365L1204 353ZM1150 690L1146 710L1149 710ZM919 574L929 589L926 598L916 583Z"/>
<path fill="#7fd0c0" d="M1106 440L1100 453L1102 453ZM872 675L870 683L873 683ZM1088 602L1090 610L1093 609ZM877 686L865 693L860 687Z"/>
<path fill="#f7b890" d="M1305 689L1307 696L1309 694ZM1070 472L1070 482L1072 482ZM1091 772L1102 786L1096 790L1086 776ZM1171 796L1169 811L1159 803L1162 788ZM1087 677L1086 685L1081 688L1081 680Z"/>
<path fill="#c2507a" d="M1040 566L1039 581L1042 581ZM858 395L857 401L859 401ZM1166 717L1165 728L1168 728ZM1312 796L1313 802L1314 802ZM1209 381L1228 393L1225 403ZM874 380L863 385L865 388ZM1231 596L1228 610L1216 609L1220 595ZM969 556L982 577L986 574ZM975 551L984 564L973 570Z"/>
<path fill="#a83a62" d="M1303 596L1302 603L1305 603ZM945 580L947 596L941 601L938 584ZM1339 794L1338 812L1343 811ZM1302 498L1313 505L1311 512ZM1182 458L1173 465L1169 461L1179 454ZM1094 621L1097 625L1099 623ZM1294 666L1291 674L1293 674ZM1080 690L1079 695L1081 695ZM1066 654L1058 670L1044 670L1052 653ZM1221 464L1215 480L1204 480Z"/>
<path fill="#f08aa0" d="M998 560L998 567L1001 566ZM853 768L856 781L859 780ZM1214 432L1219 446L1222 445ZM870 432L865 443L858 442L862 431ZM1282 718L1278 743L1283 744ZM1030 595L1026 614L1020 610L1023 591ZM1045 389L1045 396L1041 396ZM864 439L864 446L866 445ZM845 362L835 367L837 369ZM892 437L905 445L897 451ZM861 639L869 650L864 652L856 641ZM1267 502L1267 521L1271 520ZM1182 358L1179 379L1170 384Z"/>
<path fill="#9a5ae0" d="M1073 539L1054 548L1048 541L1067 533ZM894 727L886 739L888 740ZM1003 626L996 629L998 631ZM859 514L868 529L858 532L850 517ZM945 489L940 496L933 496L938 489ZM1013 377L1017 399L1019 399ZM880 485L879 491L881 491ZM937 517L930 539L917 537L924 516ZM1089 406L1094 412L1095 411ZM1143 425L1143 439L1137 440ZM1006 371L1009 378L1010 378ZM1255 415L1239 424L1236 411L1252 402ZM1000 659L987 667L983 661L996 654Z"/>
<path fill="#8aa4ec" d="M1202 493L1204 503L1196 504L1194 494ZM1192 701L1187 707L1189 709ZM1015 453L1016 472L1006 466ZM1002 653L996 657L994 653ZM858 596L838 605L837 587L857 578ZM916 413L913 425L916 425ZM844 618L860 627L856 638ZM1241 428L1224 437L1221 427ZM1273 452L1265 463L1261 461L1268 450ZM1220 392L1234 413L1237 410ZM1325 393L1321 402L1327 402ZM997 615L998 628L988 627L987 615ZM1053 474L1046 482L1048 483ZM1216 655L1221 666L1213 670L1208 659ZM1097 739L1104 759L1094 767L1087 748ZM924 381L932 390L933 389ZM1054 705L1058 724L1050 729L1046 710ZM1314 737L1312 742L1316 741ZM1069 740L1067 749L1070 749ZM1102 531L1116 541L1115 546Z"/>
<path fill="#f06a70" d="M943 432L926 451L931 455ZM1327 680L1321 689L1315 686L1320 678ZM905 483L912 491L914 490ZM1132 475L1123 499L1126 500ZM1163 541L1154 549L1156 551ZM992 753L991 759L993 759ZM1019 537L1030 547L1031 546ZM1140 780L1138 791L1140 791ZM1241 404L1231 411L1233 413ZM1060 784L1066 797L1068 796ZM1158 637L1160 648L1164 646ZM1203 602L1193 607L1195 609Z"/>
<path fill="#bd4c76" d="M1135 460L1153 471L1149 479ZM925 672L927 685L929 685ZM961 677L965 686L967 685ZM1285 425L1279 438L1272 429L1279 415ZM948 528L949 541L952 540Z"/>
<path fill="#d04aa8" d="M1011 531L1006 537L1009 539ZM870 350L859 369L852 357L863 339ZM917 736L922 743L924 741ZM990 781L1000 786L1001 791L991 786ZM1015 704L1018 718L1013 720ZM885 351L878 355L879 356ZM936 512L930 525L932 526ZM943 784L945 797L947 797Z"/>
<path fill="#f0a0b4" d="M1239 541L1244 554L1237 553ZM1241 349L1257 369L1260 365ZM1327 760L1325 771L1327 771ZM1277 497L1259 507L1247 497ZM1287 565L1289 573L1292 572ZM958 463L961 476L964 475Z"/>
<path fill="#ae4264" d="M1177 597L1165 604L1166 606ZM889 618L887 627L891 626ZM1176 740L1175 750L1178 749ZM1314 535L1328 551L1330 549ZM1237 381L1239 394L1241 393ZM942 473L938 483L940 484ZM934 544L930 555L932 555ZM898 353L897 366L900 366Z"/>
<path fill="#f4a08c" d="M1022 463L1020 480L1023 481ZM845 688L851 708L834 711L829 691ZM1017 720L1010 730L1013 732ZM920 589L921 597L915 600L913 592ZM885 459L877 472L872 463ZM844 451L841 462L832 465L835 454ZM934 383L918 389L911 381L926 375ZM1093 403L1098 408L1099 407ZM849 406L853 410L854 409ZM902 696L916 704L913 708L899 700ZM1032 607L1035 612L1038 610ZM1063 575L1048 589L1052 592ZM968 669L967 682L968 682ZM872 656L872 668L874 668ZM981 543L970 551L973 554Z"/>
<path fill="#c95c84" d="M1121 459L1130 465L1128 469ZM1074 373L1077 381L1079 380ZM1088 351L1086 366L1089 366ZM1157 440L1145 448L1147 450ZM1017 783L1016 797L1019 796ZM996 682L994 693L996 693ZM960 393L950 400L954 404ZM1338 449L1335 455L1338 455Z"/>
<path fill="#b5446d" d="M847 475L836 481L837 483ZM1040 408L1033 422L1028 420L1035 406ZM1086 494L1078 498L1079 500ZM1097 614L1093 631L1089 626L1093 610ZM1123 764L1127 776L1129 775Z"/>
<path fill="#c45580" d="M982 587L971 609L973 610ZM906 352L917 363L919 360ZM1143 417L1132 426L1137 430ZM1304 427L1312 440L1315 437ZM1146 687L1142 693L1145 694Z"/>
<path fill="#d86ad0" d="M1232 427L1237 440L1228 444ZM1322 372L1317 385L1309 385ZM1319 477L1322 482L1324 480ZM1336 453L1331 476L1315 465ZM975 575L963 597L967 599ZM982 510L987 530L991 529ZM1065 660L1061 668L1064 669ZM1131 640L1136 660L1140 658ZM1165 662L1154 670L1155 671ZM1033 749L1037 759L1039 758ZM944 580L947 589L948 589ZM952 481L946 499L939 494L945 475ZM1212 658L1215 671L1218 670ZM1172 469L1178 487L1165 485Z"/>
<path fill="#b2477a" d="M845 584L840 597L834 590L840 577ZM912 380L913 387L916 386ZM1213 519L1213 526L1216 525ZM940 379L933 389L937 391ZM940 757L947 765L949 763ZM1150 441L1155 459L1145 458ZM1284 436L1279 458L1263 463L1268 442Z"/>
<path fill="#f4a888" d="M1251 461L1252 473L1255 472ZM1062 704L1070 711L1071 710ZM1296 504L1289 520L1283 521ZM1136 592L1126 597L1128 599ZM1236 571L1253 578L1251 588L1234 581ZM1146 357L1152 373L1140 369L1134 354ZM1298 531L1296 539L1292 537L1294 529ZM1293 538L1288 552L1290 552Z"/>
<path fill="#b07ae6" d="M900 643L908 665L893 663L885 641ZM888 772L892 792L896 790ZM1141 714L1137 726L1142 727ZM1034 595L1025 602L1026 603ZM1055 561L1059 579L1063 578ZM1209 394L1200 400L1201 402ZM953 484L950 505L935 510L939 489Z"/>
<path fill="#e040a0" d="M977 470L980 488L970 496ZM948 762L942 773L948 774ZM1223 682L1213 702L1217 704ZM920 731L924 738L919 739L916 732ZM953 448L954 470L959 469ZM864 363L869 374L862 377L857 365ZM864 580L875 588L867 596L856 588ZM1104 645L1109 652L1104 658L1099 651Z"/>
<path fill="#f08e80" d="M1177 479L1171 489L1174 490ZM1121 669L1125 673L1127 671ZM1297 779L1301 803L1305 802ZM897 598L899 617L904 615ZM1314 723L1307 730L1308 731ZM1334 680L1330 686L1332 687ZM1254 509L1249 516L1243 513L1248 506ZM1276 421L1274 434L1268 436L1270 423ZM1079 385L1078 390L1081 390Z"/>
<path fill="#e85890" d="M1322 557L1308 567L1300 559ZM1084 409L1102 422L1098 434L1080 421ZM1283 770L1288 775L1289 774ZM923 597L943 609L943 625L924 613ZM1173 692L1170 702L1164 700ZM1234 417L1234 432L1237 431ZM1224 487L1221 492L1223 493Z"/>
<path fill="#a858d8" d="M1077 645L1085 651L1081 656L1073 650ZM1090 572L1093 581L1096 580ZM1280 729L1269 737L1268 730Z"/>
<path fill="#c890ec" d="M1051 583L1042 601L1031 601ZM924 684L925 696L928 695ZM1040 555L1045 579L1049 577ZM1252 569L1260 578L1261 577ZM909 680L888 692L880 684L901 673Z"/>
<path fill="#f5b0a0" d="M1109 754L1101 761L1104 763ZM1209 392L1203 403L1205 404ZM1115 674L1112 682L1108 682L1111 675ZM1072 486L1070 498L1072 498ZM939 693L930 697L932 700ZM1195 516L1199 527L1192 529ZM1069 586L1067 592L1068 593Z"/>
<path fill="#5fc4c8" d="M1235 627L1233 641L1235 641Z"/>
<path fill="#f7b890" d="M1320 580L1310 599L1299 586L1310 568ZM1325 434L1313 441L1306 437ZM1267 606L1254 612L1252 608ZM1293 352L1285 359L1286 360ZM1252 438L1252 451L1246 450ZM1108 592L1104 610L1090 610ZM1108 390L1107 399L1102 400L1104 392Z"/>
<path fill="#a858d8" d="M1328 608L1320 615L1324 618ZM1183 739L1171 745L1163 741L1175 735ZM1269 682L1268 692L1264 690L1265 680ZM1204 349L1203 355L1206 355Z"/>
<path fill="#b94a68" d="M1191 375L1197 388L1199 387ZM1170 716L1148 725L1149 717L1171 707ZM972 446L963 451L961 446ZM1273 649L1273 660L1276 660ZM1317 656L1316 665L1318 665ZM1146 407L1151 419L1152 418ZM1269 482L1262 494L1264 495ZM1212 705L1210 712L1213 712ZM1026 655L1033 668L1037 665ZM957 600L960 623L952 622ZM875 412L862 429L846 425ZM1084 648L1083 659L1073 660L1075 648ZM983 777L977 785L979 786Z"/>
<path fill="#e85890" d="M1214 494L1213 510L1218 510ZM1090 779L1089 787L1092 786ZM1326 398L1330 411L1332 410ZM1296 629L1296 647L1285 651L1285 633ZM987 361L985 370L980 368ZM939 665L928 673L920 671ZM1281 613L1284 627L1289 625ZM1189 638L1197 646L1199 643Z"/>
<path fill="#e46aa6" d="M939 505L938 528L941 528ZM1280 717L1282 730L1285 729ZM880 700L873 703L873 699L879 696ZM1131 735L1134 753L1137 752ZM1111 752L1106 754L1107 755ZM946 566L952 578L953 578ZM1299 434L1283 454L1287 457ZM1280 573L1268 581L1269 582ZM850 577L865 597L857 600L842 581ZM1123 361L1113 379L1101 368ZM1209 581L1206 591L1202 587ZM1024 751L1006 763L1006 749ZM958 474L959 481L961 481ZM1233 547L1232 558L1233 558ZM857 499L866 514L858 515L850 500Z"/>
<path fill="#c45580" d="M1236 770L1244 777L1245 775ZM1338 792L1340 803L1342 802ZM1262 796L1241 810L1225 803ZM1323 576L1313 581L1315 584ZM914 393L917 401L918 400ZM1278 521L1276 532L1279 532ZM1023 735L1022 745L1024 745ZM1290 518L1299 528L1300 526ZM938 709L942 714L943 711ZM1131 667L1109 682L1104 667L1126 652ZM1128 440L1121 444L1123 446ZM976 765L987 774L978 781L967 772Z"/>
<path fill="#8aa4ec" d="M872 598L874 615L868 612ZM1126 764L1110 776L1106 770ZM1306 398L1297 412L1293 408ZM1194 681L1208 701L1196 710ZM1314 749L1310 762L1311 762ZM939 781L932 803L934 804ZM991 729L991 740L994 739ZM891 378L886 401L889 402ZM987 708L983 715L984 715ZM1056 532L1053 541L1048 541Z"/>
<path fill="#f6c09a" d="M1184 746L1189 752L1191 751ZM1206 609L1212 617L1214 616ZM857 404L862 418L851 416ZM978 532L978 552L968 551ZM1145 636L1147 650L1148 650ZM954 386L960 393L957 395ZM871 540L876 551L880 547ZM935 527L930 539L933 540ZM865 469L853 488L844 484L856 466ZM1038 746L1036 750L1039 751ZM1152 509L1153 525L1143 530L1142 514ZM897 539L895 553L900 553ZM907 658L902 660L904 662ZM1011 646L1012 658L1015 657ZM1176 583L1169 595L1164 587ZM936 386L950 403L953 400ZM1302 749L1295 759L1297 761ZM868 673L865 693L853 698ZM1164 595L1161 600L1163 600Z"/>
<path fill="#f06a70" d="M892 488L888 498L892 499ZM1186 751L1169 758L1166 750L1182 743ZM1009 672L1011 693L1000 694L997 674ZM1078 415L1081 419L1083 418ZM877 483L871 505L861 507L867 485ZM1003 526L1005 537L1008 537ZM1026 681L1015 691L1018 694ZM881 481L883 490L885 489ZM1041 676L1046 681L1048 679ZM1069 558L1066 569L1069 569ZM1074 756L1075 766L1079 765ZM900 676L902 687L904 686ZM853 772L851 782L854 782ZM1014 462L1008 465L1006 462L1013 460ZM915 606L901 622L905 624ZM1120 728L1118 736L1121 736Z"/>
<path fill="#f8c8b0" d="M909 451L899 458L900 459ZM1208 503L1207 513L1210 513ZM1014 433L1014 450L1017 449ZM1200 500L1197 515L1200 515ZM925 562L923 569L925 569ZM1339 640L1328 649L1330 651ZM1238 393L1236 407L1239 407ZM1325 560L1320 571L1315 568ZM1329 353L1323 366L1326 367Z"/>
<path fill="#5fc4c8" d="M1322 585L1326 608L1328 607ZM1194 647L1196 660L1190 659Z"/>
<path fill="#f4a08c" d="M869 701L878 712L880 709ZM857 567L865 576L866 575ZM937 501L941 507L944 505ZM1174 644L1174 658L1178 658ZM897 564L888 585L871 586L880 565ZM1110 354L1105 370L1110 371ZM1036 376L1029 381L1029 376ZM922 723L920 744L923 744ZM915 746L919 768L922 767ZM1012 635L1026 646L1021 652L1007 641ZM868 603L861 619L846 616Z"/>
<path fill="#b5446d" d="M1035 568L1031 580L1032 580ZM1099 767L1113 775L1114 784L1099 777ZM888 651L895 671L890 676ZM983 737L991 758L982 757L974 735ZM936 643L945 649L944 657L935 651ZM1295 627L1297 642L1287 648L1285 633ZM1022 679L1008 690L1003 687L1017 676ZM994 723L986 728L987 729Z"/>
<path fill="#a83a62" d="M1045 571L1040 591L1028 593ZM919 705L907 719L909 721ZM1335 509L1337 524L1340 524ZM1148 736L1142 754L1137 750L1142 732ZM1068 674L1070 688L1074 687ZM1054 520L1073 532L1065 541L1045 529ZM1239 789L1232 801L1236 803ZM1092 376L1090 383L1093 383ZM1159 770L1152 786L1143 774ZM1234 761L1228 774L1231 775ZM1236 727L1247 738L1248 736ZM1015 695L1019 700L1020 699Z"/>
<path fill="#f29ab8" d="M992 679L995 702L998 702ZM1175 572L1168 579L1169 580ZM932 745L932 759L935 759ZM947 750L967 759L966 773ZM1131 702L1130 709L1125 711ZM933 577L930 584L933 585ZM882 750L880 768L871 764L872 746ZM1172 627L1177 638L1179 637Z"/>
<path fill="#f08aa0" d="M1025 619L1027 627L1023 625L1022 618ZM1066 540L1075 556L1080 553ZM976 451L982 465L972 469ZM932 417L938 430L936 435L930 422ZM949 554L954 573L958 571ZM908 495L906 505L910 505ZM928 528L935 531L931 534L925 531ZM980 369L975 387L966 386L971 368ZM845 466L840 488L846 489ZM864 374L863 386L865 386ZM1236 667L1217 683L1220 686ZM930 416L920 437L906 424L916 403ZM961 546L957 557L958 558Z"/>
<path fill="#b07ae6" d="M1039 643L1033 658L1036 659ZM956 747L961 762L954 771L950 756ZM1141 699L1146 704L1148 702ZM1062 493L1064 515L1056 520ZM1026 426L1022 438L1014 437ZM1148 361L1139 384L1126 383L1135 360ZM917 358L918 376L908 374Z"/>
<path fill="#a880e8" d="M1180 581L1188 592L1182 594ZM974 354L976 372L966 367ZM1250 558L1241 566L1242 567ZM1313 434L1317 459L1302 451L1298 427ZM1266 387L1268 402L1270 401ZM1184 793L1191 815L1196 813Z"/>
<path fill="#a848d4" d="M1037 416L1034 425L1027 425L1030 416ZM931 433L912 446L903 434ZM955 488L967 497L957 504L945 495ZM1098 580L1094 585L1097 586ZM1049 435L1050 444L1052 444ZM1037 665L1041 677L1043 677ZM847 422L844 429L846 430ZM1017 757L1026 770L1030 767ZM1025 737L1029 746L1030 745ZM953 510L961 515L958 518L950 513ZM961 526L960 533L962 533Z"/>
<path fill="#ae4264" d="M1218 584L1223 598L1215 603L1210 589ZM966 761L966 773L969 772ZM1254 641L1251 649L1254 650ZM1091 752L1087 756L1089 757ZM1100 689L1093 709L1077 712L1084 692ZM911 652L910 676L903 681Z"/>
<path fill="#f4a888" d="M1285 653L1297 671L1287 677ZM1032 653L1039 675L1023 676L1016 654ZM1194 763L1198 778L1202 776ZM1241 785L1250 789L1249 792L1240 788ZM1307 733L1300 757L1292 755L1299 732ZM1183 516L1177 538L1181 538ZM985 747L979 757L981 758ZM1282 729L1276 739L1279 740ZM1143 720L1144 730L1148 729Z"/>
<path fill="#c4a0f4" d="M875 608L889 615L887 622ZM1252 454L1249 461L1251 462ZM889 671L885 677L887 678ZM1127 468L1114 479L1109 477ZM1207 636L1208 647L1211 646ZM873 594L869 607L872 608ZM1029 536L1042 541L1042 545L1029 540ZM894 762L888 774L882 775ZM929 388L934 393L935 391ZM1167 391L1175 406L1164 407L1156 392ZM854 521L855 533L856 533ZM1266 417L1265 428L1268 428Z"/>
<path fill="#e040a0" d="M903 543L908 549L910 548ZM915 532L912 539L914 540ZM1162 786L1174 804L1162 811ZM997 393L994 402L997 403ZM937 791L939 810L932 811L930 792ZM955 378L937 389L927 376L945 365Z"/>
<path fill="#c95c84" d="M1228 730L1215 737L1209 733L1222 727ZM1012 582L1009 608L994 613ZM862 669L868 676L869 674ZM1158 657L1160 666L1161 665ZM1145 520L1141 545L1144 545ZM1190 378L1186 383L1189 384ZM858 398L851 407L846 407L853 397Z"/>
<path fill="#c2507a" d="M946 380L951 405L957 404ZM947 536L940 558L930 552L938 531ZM874 642L870 648L872 649ZM1195 562L1209 582L1211 581ZM856 599L866 609L867 607ZM1073 505L1074 514L1076 513ZM1129 545L1129 557L1131 557ZM1137 417L1138 432L1140 431ZM882 675L881 682L882 682ZM1134 730L1128 737L1131 738Z"/>
<path fill="#f5b0a0" d="M1167 537L1158 541L1155 537L1164 532ZM1061 471L1073 489L1076 486ZM1189 364L1184 382L1188 383ZM1141 375L1149 396L1152 395ZM1278 420L1287 436L1289 434ZM1031 650L1026 662L1029 663ZM1260 549L1254 552L1256 554ZM1295 760L1304 781L1295 784L1286 763Z"/>
<path fill="#c890ec" d="M1224 719L1226 729L1221 732L1219 723ZM1054 632L1054 644L1045 648L1045 636ZM909 686L902 697L903 697ZM1016 578L1024 586L1025 584ZM857 543L850 555L844 547L851 535ZM1012 537L1008 548L1012 548ZM1075 742L1067 746L1068 748ZM888 785L896 795L897 793ZM867 648L862 657L864 658Z"/>
<path fill="#b2477a" d="M868 746L866 758L868 758ZM1220 625L1216 637L1218 638ZM1307 464L1297 488L1287 484ZM952 353L953 362L955 361ZM1068 384L1076 409L1061 419L1052 394ZM1003 571L1000 578L1003 578ZM1149 492L1146 496L1148 497ZM1240 573L1244 584L1246 582ZM1139 396L1139 408L1141 408Z"/>
<path fill="#b060e8" d="M996 597L992 618L995 618ZM955 488L951 495L952 496ZM874 772L864 778L865 780ZM944 616L940 626L941 627ZM1058 694L1057 702L1060 702ZM907 626L904 632L907 633ZM935 759L932 764L934 765ZM1197 365L1200 373L1194 376ZM1025 634L1018 648L1019 648Z"/>
<path fill="#a23a68" d="M1209 381L1204 406L1209 407ZM888 373L899 391L902 389ZM1273 750L1265 771L1268 772ZM1268 373L1264 387L1267 388ZM1196 351L1199 360L1201 359Z"/>
<path fill="#bd4c76" d="M1247 672L1248 694L1250 694ZM1140 791L1127 798L1127 787ZM1292 362L1296 368L1298 366ZM1326 594L1324 603L1328 603ZM910 442L898 451L900 453ZM987 552L980 570L975 563ZM962 781L969 792L971 790Z"/>
<path fill="#7fd0c0" d="M933 619L948 630L933 635L919 623ZM846 392L848 408L841 409L838 393ZM1164 726L1157 731L1157 732Z"/>
<path fill="#f9d4a8" d="M1083 498L1084 519L1069 513L1068 491ZM1142 465L1147 475L1149 473ZM1105 521L1106 545L1090 541ZM1239 482L1235 503L1221 505ZM1252 497L1245 510L1242 506L1249 493ZM1180 421L1166 435L1171 438ZM1145 349L1147 359L1142 357L1139 347ZM1241 363L1243 368L1245 367ZM971 659L958 666L960 668Z"/>
<path fill="#f08e80" d="M1138 784L1133 803L1123 797ZM996 521L1006 527L999 530L989 524ZM906 375L903 384L905 385ZM1326 740L1325 757L1329 757ZM1015 435L1012 447L1015 447ZM1167 660L1169 669L1171 668ZM1246 650L1238 670L1222 663L1230 643ZM1283 719L1272 728L1266 723L1278 715ZM1291 536L1288 541L1291 541Z"/>
<path fill="#f0a0b4" d="M1078 626L1083 649L1072 644L1067 621ZM1120 356L1122 378L1127 377ZM1224 706L1223 713L1224 713ZM1044 500L1053 513L1049 517L1040 505Z"/>
<path fill="#d86ad0" d="M916 662L919 671L915 673L912 664ZM1163 599L1172 604L1171 609L1162 605ZM1223 698L1238 717L1242 713ZM1141 359L1139 364L1140 365ZM877 562L865 579L854 566L865 549ZM871 520L869 529L870 529ZM941 432L945 438L947 436Z"/>
<path fill="#6ab0e4" d="M963 642L959 661L962 661ZM1076 702L1075 709L1078 709Z"/>
<path fill="#9a5ae0" d="M1141 469L1132 489L1138 491ZM1161 395L1169 408L1172 405ZM881 763L882 777L884 776ZM1162 383L1163 396L1168 394ZM947 587L945 596L948 596ZM1007 767L1017 787L1010 791L1000 771Z"/>
<path fill="#d04aa8" d="M1182 503L1177 506L1178 507ZM1105 708L1098 718L1094 713L1101 703Z"/>
<path fill="#c4a0f4" d="M1290 580L1309 593L1300 597ZM963 613L967 635L954 637ZM970 617L967 628L969 628ZM1038 762L1042 772L1044 771ZM1196 491L1192 511L1196 511ZM898 669L902 689L889 685L885 665ZM958 732L946 741L938 733L950 724ZM1303 669L1297 679L1299 681ZM1190 520L1176 525L1171 522ZM1052 663L1053 675L1058 674ZM881 709L887 718L889 715ZM1115 469L1118 484L1121 483ZM909 596L892 604L882 592ZM1333 759L1335 782L1321 780L1318 756Z"/>
<path fill="#8aa4ec" d="M1023 690L1034 699L1035 697ZM1105 521L1090 529L1088 519ZM1000 734L1001 743L995 743ZM959 780L958 797L947 798ZM1029 628L1030 653L1034 653ZM1095 416L1099 425L1103 421ZM897 634L894 644L896 645ZM1182 717L1183 736L1169 739ZM924 533L924 548L912 549ZM1072 787L1086 794L1083 807ZM1038 757L1033 766L1027 764ZM1119 639L1129 645L1124 650L1115 644ZM857 666L843 672L838 669L852 662ZM1163 558L1162 564L1164 564ZM1325 582L1336 589L1331 595L1321 588ZM1028 575L1020 579L1022 581Z"/>
<path fill="#a83a62" d="M1079 521L1065 540L1055 536L1068 516ZM1325 430L1312 440L1303 434ZM970 494L957 513L940 510L953 491ZM1148 447L1143 457L1146 458ZM1066 771L1063 780L1066 780ZM942 490L949 497L951 495ZM902 496L905 505L907 504Z"/>
<path fill="#f08e80" d="M1134 775L1115 786L1105 772L1124 761ZM1194 709L1198 713L1199 712ZM921 403L925 415L926 414ZM1317 569L1306 579L1307 580ZM1315 791L1305 800L1306 801ZM1153 613L1153 622L1156 622ZM1128 482L1121 492L1123 493Z"/>
<path fill="#f6c09a" d="M1182 722L1190 732L1193 730ZM1334 538L1352 548L1349 560ZM1314 372L1316 379L1318 378ZM1219 398L1223 409L1225 408ZM974 781L987 800L970 803ZM1036 523L1034 529L1036 529ZM905 793L886 811L888 813ZM1027 484L1032 498L1034 497ZM1078 780L1082 794L1084 793ZM891 415L888 430L890 430ZM1244 731L1252 742L1246 748ZM984 738L983 744L987 744ZM889 666L892 680L895 679ZM1339 708L1351 728L1353 726ZM1339 742L1341 753L1342 753ZM1025 687L1029 691L1030 689ZM996 443L999 450L994 452L991 446ZM1132 613L1123 621L1124 622ZM1296 687L1297 692L1299 691ZM1095 521L1100 539L1103 538Z"/>
<path fill="#b07ae6" d="M1070 756L1072 761L1074 759ZM1166 353L1166 359L1169 358ZM1072 541L1074 553L1076 553ZM1000 637L995 651L984 650ZM1101 666L1118 675L1111 687L1094 678ZM869 363L870 382L863 387L861 368ZM888 450L885 457L888 457ZM1177 585L1179 593L1180 592ZM844 651L834 659L836 660ZM883 690L888 706L892 704ZM893 465L890 473L883 473L886 466Z"/>
<path fill="#f4a888" d="M1085 574L1089 584L1094 580ZM1191 350L1189 355L1191 355ZM1077 523L1081 539L1083 538ZM1234 444L1233 468L1222 460L1224 436ZM1096 465L1093 482L1096 482ZM1327 351L1307 360L1303 352L1323 344Z"/>
<path fill="#c95c84" d="M1097 722L1094 726L1095 727ZM1167 535L1157 544L1159 546ZM1160 534L1165 553L1150 559ZM887 784L883 789L886 790ZM960 438L958 448L962 448ZM877 351L866 358L866 359ZM879 499L873 517L862 515Z"/>
<path fill="#f06a70" d="M1290 544L1295 553L1289 556ZM1316 514L1332 523L1329 532ZM1037 737L1029 742L1024 736ZM962 534L968 551L960 562L954 545ZM943 467L924 475L922 466ZM929 792L915 811L901 809ZM888 760L890 771L892 770ZM1339 568L1342 583L1331 586L1327 571ZM1252 654L1257 666L1259 664ZM1033 712L1037 725L1040 724ZM1262 372L1250 392L1246 385ZM911 785L904 790L905 791ZM1103 785L1107 807L1093 817L1090 795ZM1056 690L1045 711L1048 712ZM1160 516L1154 524L1158 526ZM1090 739L1074 746L1070 733ZM1055 507L1062 513L1063 512ZM1226 692L1222 704L1225 704Z"/>
<path fill="#b2477a" d="M1326 491L1326 499L1328 498ZM1014 587L1022 593L1023 592ZM1030 420L1028 426L1030 427ZM1183 611L1182 625L1170 629L1172 614ZM1299 521L1301 542L1305 541Z"/>
<path fill="#ae4264" d="M915 470L922 477L923 476ZM1047 355L1025 371L1021 361L1042 345ZM1190 433L1186 438L1189 439ZM889 366L896 392L886 401ZM908 415L905 424L908 425ZM1096 735L1097 742L1100 741ZM1283 747L1288 752L1289 750ZM1272 397L1272 406L1275 406ZM1213 469L1214 479L1215 479ZM940 568L951 586L942 594L932 575Z"/>
<path fill="#f7b890" d="M1269 380L1284 401L1269 415ZM1159 541L1163 550L1165 549ZM1294 708L1296 722L1299 722ZM1269 514L1268 525L1262 522L1262 510ZM1086 654L1089 661L1083 662L1080 654ZM1218 534L1222 544L1225 542ZM1096 558L1091 560L1093 563ZM1138 553L1150 561L1148 566ZM1225 535L1237 545L1236 555L1224 545ZM1291 571L1304 581L1301 595ZM1330 549L1341 554L1342 561L1332 556ZM1056 389L1058 398L1061 397Z"/>
<path fill="#9a5ae0" d="M1143 734L1137 745L1142 746ZM1105 634L1124 645L1119 653L1101 643ZM923 391L922 407L909 410ZM985 760L971 766L965 761ZM901 481L894 492L897 493Z"/>
<path fill="#f29ab8" d="M1101 718L1098 740L1085 734L1089 712ZM885 562L883 577L872 582ZM887 709L870 719L869 706L885 696ZM1121 589L1128 602L1131 601ZM909 602L900 607L893 602ZM897 476L905 485L907 483ZM856 778L863 781L862 785ZM927 608L928 617L930 617ZM896 462L897 472L899 471ZM1210 795L1209 804L1203 800L1204 791ZM933 693L928 703L930 703ZM894 486L897 495L892 500L889 491ZM1200 678L1201 696L1192 700ZM1100 531L1091 535L1091 532L1099 528Z"/>
<path fill="#f08aa0" d="M1042 550L1043 565L1048 563ZM849 677L849 694L838 695ZM901 677L907 687L911 683ZM955 419L942 437L939 429ZM1146 716L1141 725L1134 721L1138 711ZM869 595L871 603L873 602Z"/>
<path fill="#e040a0" d="M1035 565L1031 580L1026 582ZM1097 654L1098 660L1100 659ZM1096 736L1100 750L1102 749ZM950 526L954 531L955 529ZM885 717L878 731L868 727L875 713ZM882 687L897 693L890 700L875 693ZM855 355L870 366L862 377ZM1281 454L1288 475L1291 473Z"/>
<path fill="#c45580" d="M1152 555L1139 570L1141 572ZM1192 365L1186 389L1175 386ZM850 456L857 479L860 478ZM992 622L994 629L996 627ZM943 682L949 705L939 704L934 681ZM1323 592L1326 610L1329 609Z"/>
<path fill="#e85890" d="M1157 747L1148 752L1144 751L1153 745ZM1132 381L1133 392L1127 397ZM1161 483L1152 487L1149 480ZM1086 484L1088 492L1090 492ZM1200 571L1194 586L1188 583L1195 567ZM999 634L999 658L1004 658ZM1258 575L1252 579L1253 580ZM1255 465L1258 478L1261 477ZM1085 659L1090 682L1093 681ZM1048 366L1042 371L1043 372ZM1252 580L1250 587L1253 588ZM1234 355L1225 372L1229 374ZM1231 613L1226 615L1228 618ZM1208 497L1199 514L1201 515Z"/>
<path fill="#b060e8" d="M906 639L905 651L910 650ZM1118 427L1118 434L1120 433ZM1122 493L1130 507L1132 506ZM1051 712L1047 721L1039 721ZM1185 437L1181 452L1170 456L1173 441ZM907 582L910 591L907 592Z"/>
<path fill="#c890ec" d="M1032 626L1032 636L1035 635ZM877 512L865 524L868 527ZM1040 637L1038 648L1039 648ZM1029 359L1039 378L1027 380L1018 361ZM1098 517L1100 528L1102 528ZM926 622L910 629L897 622L914 615ZM937 701L939 714L941 714ZM1100 389L1115 410L1117 408ZM1085 450L1089 458L1088 460L1083 452ZM964 485L959 495L953 490L957 480ZM887 592L889 616L880 615L878 591ZM1181 566L1184 577L1180 581ZM1233 689L1234 696L1237 695Z"/>
<path fill="#d86ad0" d="M1328 574L1332 583L1325 586L1321 576ZM1218 599L1214 621L1198 615L1202 593ZM901 403L904 427L896 426L892 403ZM1018 519L1028 533L1021 539ZM1058 387L1060 396L1062 395ZM1044 715L1048 726L1049 726ZM1020 548L1012 558L1014 559ZM882 389L871 398L873 400ZM1156 585L1159 594L1161 593ZM1210 366L1206 385L1208 386ZM1089 524L1088 541L1081 546L1082 529ZM1164 583L1163 594L1168 593Z"/>
<path fill="#f9d4a8" d="M1071 604L1059 612L1061 614ZM1104 590L1102 599L1104 599ZM1217 552L1229 571L1232 568Z"/>
<path fill="#c2507a" d="M1259 604L1244 614L1241 601L1257 591ZM1160 386L1166 400L1157 399ZM1109 566L1118 575L1120 573ZM1173 378L1167 386L1164 382ZM1140 470L1141 481L1134 478L1134 468ZM903 730L903 748L907 748ZM1251 562L1250 585L1242 584ZM1010 600L1015 612L1016 611Z"/>
<path fill="#f5b0a0" d="M1214 565L1217 574L1219 573ZM1172 668L1178 687L1162 684L1156 665ZM1208 387L1197 408L1187 397ZM956 787L959 807L950 806L947 786ZM1035 408L1026 415L1027 416ZM1334 701L1331 709L1333 709ZM1268 376L1266 386L1268 387ZM1298 445L1300 455L1302 455ZM1014 622L1006 633L1008 633ZM1281 665L1291 680L1294 678ZM1066 761L1065 769L1068 768Z"/>
<path fill="#d04aa8" d="M886 436L866 446L861 431L880 420ZM1158 613L1168 619L1164 625ZM886 386L880 407L882 408ZM1038 388L1039 402L1040 402ZM1196 667L1199 675L1194 678Z"/>
<path fill="#f8c8b0" d="M1220 613L1207 623L1204 618L1216 608ZM967 580L967 600L972 600ZM1134 401L1141 409L1142 408ZM1223 650L1225 662L1227 661ZM1099 456L1086 467L1088 469ZM1220 682L1215 686L1216 687Z"/>
<path fill="#a880e8" d="M1323 796L1319 807L1311 801ZM1240 640L1226 653L1230 657ZM959 626L946 633L947 626L960 619ZM1250 707L1248 712L1249 713ZM1221 577L1221 584L1223 584Z"/>
<path fill="#5fc4c8" d="M1170 773L1166 791L1151 791ZM895 613L905 618L902 624Z"/>
<path fill="#b94a68" d="M895 727L886 744L874 736ZM876 506L871 514L872 515ZM1163 759L1156 774L1151 768ZM1167 731L1166 741L1169 740ZM1223 746L1223 759L1217 756ZM1075 562L1070 567L1073 569ZM1259 524L1265 535L1260 536ZM957 595L942 616L933 613ZM974 632L969 642L971 642ZM1088 552L1090 578L1094 577ZM1331 686L1334 696L1336 694Z"/>
<path fill="#a858d8" d="M1148 526L1142 535L1143 535ZM1257 796L1256 805L1259 805ZM999 723L999 738L1004 737ZM1207 491L1208 500L1203 499L1203 490ZM1209 427L1212 443L1215 442ZM1230 473L1228 483L1232 483ZM1098 558L1085 579L1090 581Z"/>
<path fill="#f0a0b4" d="M1174 598L1168 615L1171 615ZM1223 755L1211 764L1215 768ZM1217 635L1218 649L1222 648ZM1086 605L1092 620L1082 623L1076 608ZM1340 392L1322 403L1314 389ZM1233 511L1241 520L1243 518Z"/>
<path fill="#e46aa6" d="M1161 751L1156 768L1158 769ZM1098 385L1107 395L1109 393ZM854 574L853 590L855 590ZM1224 404L1221 412L1222 412ZM1195 426L1201 446L1193 444L1186 424ZM971 641L967 651L970 652ZM1266 753L1266 764L1269 764ZM1283 522L1275 545L1278 546ZM878 701L890 724L894 720ZM1213 500L1208 518L1202 519ZM873 676L871 685L874 685ZM1017 785L1010 791L1011 792ZM1049 371L1060 377L1057 380ZM1253 704L1250 714L1246 715L1249 705ZM1175 484L1172 493L1174 494Z"/>
<path fill="#bd4c76" d="M850 765L844 776L841 772ZM1339 595L1334 603L1337 604ZM1075 574L1069 586L1070 587ZM867 437L869 444L871 443ZM1266 353L1261 361L1263 362ZM960 758L968 766L970 764Z"/>
<path fill="#a848d4" d="M917 617L925 630L917 632ZM1186 627L1182 648L1168 651L1173 630ZM1106 731L1101 751L1103 751ZM1143 578L1139 602L1142 603ZM968 380L961 393L963 394Z"/>
<path fill="#b5446d" d="M982 501L976 511L978 512ZM1210 792L1202 802L1205 804ZM1045 430L1033 436L1031 431L1043 424ZM980 783L965 791L966 782ZM1277 634L1273 658L1256 652L1260 627ZM1095 631L1090 640L1092 640ZM1018 414L1014 427L1015 428ZM1337 387L1328 394L1328 395Z"/>
<path fill="#a23a68" d="M1039 735L1027 741L1028 743ZM895 359L888 375L892 376ZM1236 470L1238 479L1240 478ZM1023 391L1011 397L1012 386Z"/>
<path fill="#f4a08c" d="M1157 543L1152 552L1155 553ZM1097 651L1109 669L1112 666ZM1258 393L1251 404L1245 398ZM853 724L855 731L857 730ZM1242 517L1248 528L1238 530ZM845 745L850 763L853 762ZM1274 706L1272 721L1261 720L1263 705ZM862 583L859 588L862 589Z"/>
<path fill="#6ab0e4" d="M992 785L988 809L991 809Z"/>
<path fill="#7fd0c0" d="M1195 614L1190 629L1192 630ZM1225 664L1226 680L1219 680L1218 664Z"/>
<path fill="#c4a0f4" d="M1152 497L1144 504L1145 505ZM1103 647L1103 654L1106 653ZM889 725L886 730L889 731ZM975 576L979 600L965 603L962 579ZM895 695L907 704L903 715ZM882 369L881 386L869 385L870 367ZM1052 504L1055 515L1056 515ZM1170 368L1159 376L1161 378ZM1231 652L1242 657L1238 660ZM1043 706L1039 714L1042 715ZM1125 782L1139 803L1143 799ZM855 466L864 471L864 476Z"/>
<path fill="#e46aa6" d="M1207 684L1205 696L1196 696ZM1300 468L1303 479L1306 478ZM1319 405L1313 408L1314 410ZM977 567L983 581L977 590ZM942 409L940 428L932 432L934 413ZM1035 644L1036 651L1038 650ZM873 420L877 424L878 422ZM853 485L835 502L836 504ZM1146 582L1135 589L1136 591ZM989 623L994 633L998 629ZM908 697L914 704L915 701ZM1279 701L1300 713L1291 718ZM999 522L1002 531L996 533L993 524Z"/>
<path fill="#f5b0a0" d="M1027 428L1015 441L1018 443ZM1210 782L1222 789L1212 795L1201 788ZM939 366L943 382L934 384ZM1214 611L1210 625L1212 625ZM1221 735L1216 745L1210 738ZM1289 673L1305 686L1303 692ZM1189 658L1178 665L1182 668ZM1188 361L1196 385L1199 384ZM1010 684L1015 690L1017 687ZM1247 461L1256 466L1255 472L1246 467ZM1024 446L1014 453L1016 455ZM1311 412L1316 423L1318 422ZM1150 462L1152 476L1154 476Z"/>
<path fill="#b5446d" d="M991 592L991 599L992 599ZM1036 475L1034 485L1035 485ZM1293 679L1290 693L1292 693ZM1271 664L1264 674L1267 675ZM1235 612L1231 621L1235 622ZM854 565L851 570L853 571ZM1270 679L1271 686L1274 684ZM1051 687L1044 709L1047 710Z"/>
<path fill="#f6c09a" d="M1111 621L1108 628L1110 629ZM974 408L970 418L974 419ZM1142 662L1147 675L1143 679L1139 666ZM922 503L921 519L925 519ZM1312 638L1317 644L1318 642ZM1118 378L1125 387L1127 384ZM1100 565L1103 576L1106 575ZM1258 525L1253 539L1255 539ZM1216 562L1216 568L1218 568ZM966 596L974 600L974 607L966 602ZM1230 792L1216 812L1213 803ZM1093 630L1095 652L1079 656L1077 633ZM1035 432L1035 452L1029 452L1028 433ZM896 559L900 569L904 567ZM940 383L937 407L927 398ZM1303 566L1297 570L1298 572ZM1040 384L1037 392L1039 392ZM1276 664L1266 670L1270 674ZM1082 452L1082 463L1076 464L1076 453Z"/>
<path fill="#f4a08c" d="M989 381L986 385L988 386ZM912 462L901 470L903 471ZM1035 417L1044 432L1048 429ZM1174 535L1170 544L1174 545ZM1013 781L1005 801L992 799L999 780ZM1074 722L1081 729L1082 728ZM918 460L907 476L896 464ZM897 703L890 715L893 716ZM937 746L946 755L947 753Z"/>
<path fill="#b060e8" d="M1055 609L1062 613L1057 616L1051 613ZM1014 750L1010 760L1012 760ZM1109 422L1122 431L1115 436ZM1055 414L1061 429L1051 436ZM855 409L852 416L847 416ZM916 729L920 742L922 741ZM1211 759L1209 781L1199 779L1200 757ZM940 606L940 619L943 619Z"/>
<path fill="#c45580" d="M1236 674L1232 686L1234 686ZM1000 438L1003 459L1008 458ZM1322 740L1318 747L1319 748ZM967 738L968 756L971 756ZM1090 751L1096 765L1087 764ZM1191 468L1199 489L1193 498L1185 478Z"/>
<path fill="#e040a0" d="M1224 733L1225 745L1226 745ZM1148 574L1152 586L1154 585ZM892 756L901 775L891 789ZM949 371L948 377L950 376ZM894 511L906 520L907 518ZM976 698L981 711L983 710ZM1178 661L1177 668L1180 668ZM864 732L866 742L869 741ZM847 451L855 456L850 460L843 455Z"/>
<path fill="#f8c8b0" d="M1326 386L1315 397L1318 399ZM1170 486L1169 498L1170 498ZM1148 656L1148 666L1143 669L1143 659ZM1214 764L1220 783L1224 781ZM1214 364L1214 378L1216 378ZM1101 401L1088 406L1090 397ZM1067 443L1065 463L1058 464ZM1181 367L1170 374L1174 378Z"/>
<path fill="#8aa4ec" d="M875 357L871 372L863 374L868 359ZM1121 782L1115 800L1119 801ZM922 679L915 685L916 686ZM953 625L952 632L955 631ZM1289 558L1281 562L1283 564ZM1128 448L1134 454L1135 453ZM1232 577L1232 586L1236 586ZM932 638L953 650L944 655L923 643ZM1218 705L1209 726L1211 727ZM1019 443L1020 464L1022 464ZM1023 390L1027 399L1029 398ZM972 391L978 409L980 408ZM887 682L897 697L901 693ZM904 442L910 455L905 455ZM1171 738L1175 743L1177 741ZM936 785L928 806L931 807ZM1192 531L1197 538L1199 536Z"/>
<path fill="#f9d4a8" d="M1136 565L1135 575L1138 575ZM1296 623L1293 647L1280 643L1283 618ZM1295 455L1293 460L1295 460ZM1245 400L1245 411L1251 410ZM1068 415L1062 425L1063 426ZM1294 754L1284 759L1277 752ZM1053 352L1043 373L1046 374ZM1057 608L1058 622L1059 621ZM1313 764L1321 782L1317 787ZM1007 698L1007 708L1012 706ZM894 543L886 556L888 556Z"/>
<path fill="#f06a70" d="M970 679L980 698L971 700ZM924 449L913 457L916 460ZM1025 473L1036 484L1038 482ZM851 750L854 769L857 769ZM1301 646L1307 663L1300 668L1295 651ZM1077 557L1072 567L1074 568ZM1334 642L1325 649L1326 650ZM901 619L898 631L901 632ZM859 665L853 677L856 678ZM1229 692L1225 701L1226 701ZM1223 664L1223 671L1225 670ZM943 433L953 443L955 441ZM1337 795L1340 804L1337 803L1333 794ZM1330 471L1335 486L1331 490Z"/>
<path fill="#ae4264" d="M851 665L852 675L855 674ZM1219 367L1217 389L1206 392ZM1178 513L1191 536L1180 546ZM1047 355L1051 369L1052 369ZM994 619L991 633L993 633ZM1055 562L1060 573L1061 572ZM983 562L987 573L989 572ZM1164 774L1165 782L1168 781ZM868 653L847 662L848 652L869 643ZM1326 392L1323 399L1325 400ZM909 377L899 383L900 384ZM1209 694L1223 701L1224 710L1210 703Z"/>
<path fill="#b2477a" d="M996 753L1004 766L998 768L990 755ZM1111 708L1089 721L1077 714L1099 700ZM1044 511L1043 522L1045 522ZM1293 447L1280 456L1269 452ZM1131 663L1122 684L1113 685L1122 664ZM1100 444L1111 465L1099 479ZM877 554L896 566L886 576L867 563ZM894 707L878 723L881 725Z"/>
<path fill="#e85890" d="M1131 587L1110 597L1097 587L1118 577ZM1018 749L1018 755L1019 755ZM1125 567L1128 571L1129 570ZM1328 785L1317 795L1321 798ZM1202 614L1201 628L1203 628ZM1217 715L1223 728L1226 726ZM1019 694L1016 708L1009 709L1012 695Z"/>
<path fill="#f08e80" d="M1258 694L1266 715L1254 720L1245 699ZM1170 596L1188 607L1185 619ZM1278 423L1282 433L1283 432ZM1139 474L1136 479L1137 480ZM1248 365L1230 375L1214 368L1232 358Z"/>
<path fill="#f7b890" d="M1166 500L1160 511L1162 512ZM1327 418L1321 433L1314 432L1320 417ZM1195 644L1189 657L1179 656L1185 642ZM1191 687L1172 705L1174 707ZM1297 549L1292 556L1294 557ZM1071 618L1071 639L1076 638ZM976 652L981 659L983 656ZM1258 637L1257 648L1259 648Z"/>
<path fill="#a23a68" d="M1146 753L1152 766L1146 766L1140 754ZM1111 718L1107 730L1109 731ZM881 771L883 783L885 783ZM1303 543L1300 559L1288 558ZM1264 745L1262 750L1263 751ZM1042 731L1044 744L1046 743ZM1307 642L1310 647L1312 644ZM1097 636L1106 660L1090 667L1080 642ZM1020 682L1021 697L1022 696Z"/>
<path fill="#a83a62" d="M849 412L846 421L848 422ZM966 651L965 669L958 666L960 648ZM1335 650L1328 673L1321 671ZM1340 410L1335 423L1330 419ZM1245 520L1247 533L1250 533ZM966 602L982 610L975 619ZM962 507L962 520L964 520Z"/>
<path fill="#9a5ae0" d="M901 424L910 446L902 447L893 425ZM1159 667L1167 671L1164 675ZM1040 772L1035 784L1039 786ZM1125 476L1104 486L1105 478ZM845 674L850 680L852 677ZM1047 444L1043 465L1028 465L1033 445ZM1048 464L1064 475L1062 481L1045 470ZM988 546L985 565L975 561L978 542ZM951 718L944 723L945 725Z"/>
<path fill="#6ab0e4" d="M1325 532L1319 539L1322 541Z"/>
<path fill="#d04aa8" d="M865 686L865 695L866 695ZM946 526L945 537L938 533ZM873 606L875 614L871 619L869 611ZM1191 779L1198 789L1201 787ZM1066 454L1076 463L1077 462ZM956 616L939 625L933 617L950 608ZM1062 522L1060 528L1061 528ZM1040 669L1052 687L1045 695L1033 677Z"/>
<path fill="#c95c84" d="M931 427L929 439L922 435ZM1049 480L1063 502L1067 499ZM1226 713L1232 720L1234 718ZM858 466L851 487L856 488ZM1178 564L1190 584L1172 590L1159 569ZM852 483L849 511L833 497L836 469ZM1006 355L1020 374L1012 381L998 362ZM1179 546L1163 553L1154 544Z"/>
<path fill="#a880e8" d="M1119 778L1123 786L1119 787L1116 779ZM1323 561L1324 570L1326 570ZM1257 674L1262 687L1264 686ZM1166 594L1161 611L1151 613L1155 596ZM977 604L978 611L980 611ZM985 418L983 430L973 430L976 418ZM1275 570L1269 583L1271 584ZM1230 421L1232 432L1234 431ZM1320 753L1304 768L1308 771ZM1113 454L1098 473L1101 475ZM1318 732L1320 742L1323 741ZM1156 608L1165 616L1166 614ZM1109 568L1107 583L1109 583Z"/>
<path fill="#a858d8" d="M995 490L1016 501L1017 513L997 502ZM1041 436L1036 454L1041 454Z"/>
<path fill="#c890ec" d="M1133 490L1135 505L1139 504ZM970 746L970 757L971 757ZM850 631L847 635L849 636ZM954 609L948 628L934 622L940 603ZM1097 542L1116 552L1118 567ZM995 577L1000 592L992 590L987 575ZM865 378L869 384L864 387ZM1214 474L1221 491L1215 493L1208 477ZM1144 547L1149 569L1152 568ZM881 791L882 802L884 801Z"/>
<path fill="#f0a0b4" d="M1078 520L1068 527L1069 528ZM1189 568L1193 587L1196 587ZM1294 748L1289 760L1292 761ZM1321 465L1316 472L1318 473ZM1081 551L1075 560L1078 561ZM927 525L928 538L930 538ZM1241 505L1241 512L1243 512Z"/>
<path fill="#f08aa0" d="M1238 544L1231 567L1213 564L1220 541ZM1058 588L1050 612L1054 613ZM958 610L955 616L957 616Z"/>
<path fill="#f4a888" d="M1108 641L1109 651L1111 651ZM1177 481L1192 499L1195 496ZM1297 584L1310 591L1306 598ZM1173 603L1167 608L1164 606L1170 601ZM974 767L972 774L975 774Z"/>
<path fill="#d86ad0" d="M1049 639L1047 650L1049 650ZM1015 753L1010 763L1003 758L1008 748ZM1010 536L1026 543L1019 547L1004 540ZM1012 412L1009 434L998 435L1000 414ZM859 544L865 555L856 560ZM856 538L851 547L852 548ZM1064 496L1074 511L1060 513L1050 499ZM1125 753L1123 765L1125 765ZM1112 524L1115 537L1116 537ZM1175 519L1175 533L1179 532ZM939 389L951 404L953 403ZM1047 406L1044 422L1047 422ZM1188 381L1180 385L1181 387ZM1207 544L1217 550L1217 557L1207 551ZM1026 603L1037 612L1038 611Z"/>
<path fill="#bd4c76" d="M983 423L988 429L989 426ZM1063 389L1078 397L1067 405ZM1331 750L1332 757L1333 756ZM1079 724L1088 730L1085 733L1076 727ZM854 703L854 718L858 718ZM966 589L950 605L955 609ZM1013 549L1021 562L1025 558Z"/>
<path fill="#b94a68" d="M1074 645L1077 668L1068 666ZM1115 730L1114 748L1116 748ZM1294 417L1297 443L1285 438ZM1178 728L1188 732L1186 740L1177 736ZM1327 411L1320 424L1315 419ZM1160 743L1163 751L1165 749ZM990 594L981 619L960 621ZM1220 543L1212 555L1216 557Z"/>
<path fill="#b07ae6" d="M1018 709L1017 721L1022 721ZM974 512L963 522L965 524ZM886 506L890 521L892 520ZM922 463L908 477L911 480ZM1045 443L1047 451L1050 449ZM1069 510L1068 523L1070 523ZM936 482L945 491L946 490Z"/>
<path fill="#f29ab8" d="M1059 712L1079 723L1078 735L1058 724ZM999 792L992 798L994 800ZM890 775L896 784L898 782ZM921 441L918 453L914 452L917 440ZM1026 791L1022 804L1024 805ZM866 740L876 759L862 760ZM902 796L903 813L895 816ZM937 692L950 709L952 708Z"/>
<path fill="#a848d4" d="M896 462L891 471L892 471ZM1260 615L1262 630L1255 633ZM987 626L996 630L996 635L987 632ZM854 525L855 534L856 534ZM1066 638L1060 651L1062 652ZM854 468L843 478L845 479ZM1047 600L1046 616L1051 616ZM987 694L1001 701L998 709ZM1029 388L1043 410L1046 407Z"/>
<path fill="#c2507a" d="M1268 398L1268 408L1271 408ZM1308 585L1314 592L1316 590ZM1032 636L1028 645L1030 645ZM1049 789L1047 799L1051 798ZM1155 664L1152 677L1153 678ZM1202 410L1198 417L1199 418Z"/>
<path fill="#5fc4c8" d="M1063 491L1050 496L1046 489L1059 483Z"/>
<path fill="#f4a888" d="M1088 396L1085 404L1081 404ZM1259 388L1247 396L1251 400ZM1335 761L1330 772L1334 773ZM1332 666L1336 691L1341 689ZM1197 751L1198 761L1200 761ZM1312 574L1302 582L1304 584ZM1200 369L1202 379L1197 380ZM1138 413L1146 433L1131 436L1123 416ZM1211 524L1210 532L1212 532Z"/>
<path fill="#e040a0" d="M1047 650L1041 653L1043 655ZM931 563L921 570L923 572ZM958 642L942 658L945 660ZM938 423L936 431L939 431Z"/>
<path fill="#d04aa8" d="M1036 495L1037 505L1030 505L1029 495ZM1095 776L1091 781L1093 782ZM1141 348L1129 357L1130 359ZM919 678L915 693L917 693ZM882 666L885 680L879 682L877 668ZM1086 568L1090 588L1081 594L1077 574ZM1184 362L1179 369L1181 370ZM918 457L916 466L910 464Z"/>
<path fill="#c890ec" d="M1185 457L1176 463L1180 466ZM887 467L878 483L880 484ZM1052 500L1047 514L1041 511ZM1044 680L1045 692L1035 691ZM1201 636L1200 641L1203 642ZM1055 712L1050 735L1031 741ZM928 735L921 738L919 733L926 729ZM863 500L862 515L863 515ZM904 375L908 387L899 385Z"/>
<path fill="#c95c84" d="M1204 727L1213 747L1202 760L1193 739ZM1107 558L1106 566L1108 565ZM1018 589L1040 606L1039 621L1016 604ZM1215 774L1219 785L1213 788L1209 777ZM1247 662L1251 685L1256 684ZM1093 402L1093 410L1097 409ZM1015 594L1006 608L1003 604L1012 590ZM1248 592L1254 615L1241 613L1235 590ZM1162 421L1167 437L1161 442L1156 426ZM932 654L924 667L926 667ZM1256 567L1278 577L1273 587ZM888 760L889 766L891 765ZM1326 495L1320 507L1321 508ZM1048 535L1047 540L1048 540Z"/>
<path fill="#b2477a" d="M993 566L989 574L991 574ZM1168 486L1172 500L1174 499ZM897 643L877 656L871 640ZM1215 703L1237 713L1233 727L1211 717ZM1135 754L1128 766L1129 767Z"/>
<path fill="#f6c09a" d="M1244 760L1247 776L1239 773L1237 757ZM1088 624L1080 644L1084 645ZM1096 441L1094 452L1097 452ZM985 737L986 745L988 744ZM1118 400L1128 408L1129 406ZM867 750L857 756L859 758ZM1027 374L1029 386L1032 385ZM853 380L854 401L857 400ZM1119 749L1123 764L1116 769ZM1226 689L1223 696L1216 696L1220 689ZM1291 613L1291 628L1285 630L1285 614ZM976 561L977 569L979 568ZM862 709L852 715L852 710ZM1014 627L1002 647L989 641ZM966 648L964 659L966 660ZM1164 579L1146 589L1139 573L1157 563ZM1312 464L1308 470L1311 470Z"/>
<path fill="#b07ae6" d="M898 555L892 563L888 561ZM995 547L983 567L975 560ZM1113 572L1118 584L1120 583ZM870 419L870 432L872 432ZM871 386L874 403L879 401ZM1145 444L1139 465L1126 460ZM1178 354L1176 361L1179 361ZM1040 773L1041 783L1037 785L1036 775Z"/>
<path fill="#a858d8" d="M1144 534L1153 550L1145 562ZM1275 630L1263 648L1251 648ZM1036 638L1053 647L1044 652Z"/>
<path fill="#bd4c76" d="M859 464L860 485L851 486L849 466ZM918 416L909 423L902 419L911 412ZM1006 660L996 681L988 679ZM1335 628L1333 640L1338 640ZM1041 708L1038 713L1041 714ZM860 643L876 663L878 660ZM1111 796L1103 802L1105 804Z"/>
<path fill="#b5446d" d="M1076 467L1078 480L1082 479ZM1210 601L1202 613L1205 615ZM1186 790L1191 815L1196 813ZM1275 791L1258 803L1257 796ZM907 698L918 705L917 713ZM1270 491L1270 508L1274 507ZM919 381L925 390L921 395ZM898 616L914 624L911 633ZM1140 791L1154 802L1149 804Z"/>
<path fill="#e85890" d="M1154 783L1151 794L1154 794ZM1184 621L1187 625L1188 623ZM1311 522L1326 532L1325 541L1310 530ZM1327 525L1332 531L1334 529ZM1290 450L1303 469L1289 468ZM1328 765L1339 783L1328 788ZM1184 411L1177 422L1181 424Z"/>
<path fill="#d86ad0" d="M1255 699L1248 716L1238 710ZM855 360L850 367L851 368ZM1332 618L1329 625L1326 622L1329 616ZM861 420L863 429L860 430L858 421ZM1213 489L1205 496L1206 497ZM869 444L858 455L862 457ZM1275 568L1272 576L1275 577ZM1208 628L1202 638L1205 639ZM1272 584L1273 594L1276 594ZM1311 645L1310 656L1313 656ZM1000 460L1000 483L984 485L985 462ZM1041 707L1039 712L1042 712ZM1197 777L1190 779L1187 777ZM892 792L894 804L886 804ZM1235 522L1228 531L1226 526ZM1125 353L1123 367L1126 367ZM1107 603L1108 614L1110 613ZM974 665L970 682L972 682Z"/>
<path fill="#f5b0a0" d="M1253 763L1257 768L1259 767ZM991 572L989 596L978 588ZM1330 441L1327 448L1324 448ZM1141 508L1145 522L1137 526L1134 512ZM1245 488L1249 497L1250 496ZM1029 369L1032 377L1033 376ZM1265 438L1265 449L1268 448ZM1262 575L1255 580L1257 581Z"/>
<path fill="#f08aa0" d="M1063 574L1061 586L1062 586ZM846 715L848 722L850 722ZM1125 625L1131 638L1133 637ZM987 477L978 485L979 486ZM936 551L933 572L921 577ZM1126 641L1126 651L1132 649ZM1203 374L1209 380L1210 377ZM899 572L893 575L895 578Z"/>
<path fill="#b94a68" d="M1134 636L1110 649L1092 636L1117 623ZM1114 393L1116 404L1118 404ZM1105 661L1098 677L1085 679L1092 663ZM881 445L878 471L865 462L869 436ZM1248 381L1258 385L1253 393ZM911 712L909 723L903 719L905 708ZM1083 656L1093 676L1082 687L1072 667ZM1110 733L1104 743L1105 744Z"/>
<path fill="#f29ab8" d="M886 776L891 788L894 787ZM1240 412L1245 420L1247 418ZM1110 638L1110 646L1113 645ZM1143 658L1135 677L1141 679ZM906 593L920 602L908 607ZM881 440L888 446L889 445ZM1082 610L1082 616L1084 615ZM1059 749L1066 756L1068 754Z"/>
<path fill="#c2507a" d="M1134 608L1134 613L1136 612ZM1124 593L1115 616L1117 617ZM994 667L997 682L988 689ZM1112 423L1106 433L1100 432ZM979 585L978 593L981 593ZM1223 739L1230 757L1215 755ZM1308 560L1296 566L1296 558L1308 553Z"/>
<path fill="#c4a0f4" d="M1326 390L1336 399L1338 397ZM1304 499L1301 506L1302 507ZM1338 697L1341 701L1342 700ZM1305 683L1314 696L1310 703L1301 691ZM957 402L964 411L966 409ZM1115 586L1118 602L1105 602ZM1297 582L1293 587L1295 588ZM1256 642L1253 656L1255 656ZM1214 735L1212 744L1215 744ZM1081 657L1072 665L1076 668ZM990 473L979 481L981 483ZM942 728L939 740L944 740ZM1192 668L1188 675L1191 676ZM1241 659L1251 667L1252 665ZM1304 721L1305 732L1307 732ZM1235 660L1228 672L1221 666L1227 654Z"/>
<path fill="#f9d4a8" d="M1192 695L1187 702L1190 703ZM994 538L984 559L969 560L980 540ZM1045 422L1041 432L1043 433ZM1331 659L1326 664L1328 665ZM1303 403L1307 412L1302 413ZM1106 567L1101 571L1102 572ZM1044 407L1038 419L1042 420ZM1289 733L1298 738L1294 745ZM1048 470L1050 494L1055 493ZM1095 386L1095 393L1098 392ZM1249 764L1249 785L1236 788L1236 767ZM1233 574L1228 585L1230 586Z"/>
<path fill="#a83a62" d="M857 459L862 476L865 474ZM1234 610L1232 618L1235 618ZM1250 380L1242 385L1243 386ZM1274 520L1296 530L1284 537L1261 527ZM1124 519L1121 542L1123 542ZM966 668L967 682L970 681ZM966 731L977 738L973 747ZM1010 478L1018 498L1020 497ZM1057 764L1063 781L1052 788ZM1166 690L1160 703L1162 703ZM847 485L846 499L848 499ZM1324 399L1317 404L1317 405ZM868 736L853 749L857 753Z"/>
<path fill="#9a5ae0" d="M1108 773L1097 781L1098 782ZM1263 785L1260 795L1251 791L1255 781ZM940 767L943 785L936 788ZM1084 572L1074 579L1076 582ZM1288 582L1299 601L1292 616ZM1132 573L1134 581L1130 584ZM1046 565L1044 572L1047 572ZM1262 639L1253 655L1245 655Z"/>
<path fill="#8aa4ec" d="M1260 358L1253 368L1243 365L1250 355ZM873 490L873 497L875 496ZM1095 616L1094 624L1096 624ZM1252 387L1251 401L1253 401ZM1275 655L1276 666L1278 666ZM1190 448L1183 461L1185 462ZM1042 729L1044 735L1046 734ZM886 486L885 493L888 493ZM1221 554L1234 572L1221 579L1208 560ZM937 569L934 582L936 583ZM1292 362L1312 374L1308 383ZM1307 441L1310 450L1311 450ZM1159 512L1163 523L1157 522ZM918 405L916 414L918 414ZM1161 571L1150 587L1144 585L1155 569ZM1113 505L1094 514L1088 511ZM870 553L865 556L866 558Z"/>
<path fill="#e46aa6" d="M965 389L962 413L948 407L951 383ZM994 669L989 683L991 683ZM945 546L951 553L953 552ZM1339 775L1324 783L1312 777ZM989 711L985 735L970 736L974 712ZM1108 752L1123 770L1126 768ZM1266 417L1274 424L1275 422ZM898 436L893 446L895 447ZM944 509L952 515L947 520ZM1324 498L1332 514L1324 521ZM1188 493L1184 500L1187 501ZM1166 679L1171 697L1161 702ZM1275 475L1270 483L1271 484ZM905 486L910 505L895 510L891 491Z"/>
<path fill="#f7b890" d="M877 630L885 642L881 647ZM1322 561L1314 566L1316 568ZM1309 481L1312 491L1304 491L1301 481ZM1015 391L1012 402L1014 403ZM1256 480L1252 487L1250 484L1254 477ZM980 695L990 709L993 705Z"/>
<path fill="#ae4264" d="M1255 395L1265 405L1267 403ZM1004 556L989 574L992 576ZM1249 442L1239 448L1241 450ZM1084 623L1090 647L1080 649L1074 625Z"/>
<path fill="#5fc4c8" d="M1231 475L1227 480L1228 481Z"/>
<path fill="#f06a70" d="M1140 463L1139 468L1141 468ZM1186 461L1187 475L1190 474ZM1096 750L1088 770L1075 759L1083 739ZM1061 357L1064 374L1069 373ZM1107 434L1101 436L1103 438ZM1201 411L1195 421L1197 422ZM1215 443L1212 453L1214 454ZM1333 369L1350 381L1335 390L1318 379ZM1202 636L1196 655L1188 653ZM1226 563L1230 575L1233 574ZM1030 787L1024 797L1027 798ZM959 788L966 797L959 800ZM1174 703L1172 711L1175 711ZM1153 623L1159 639L1151 643L1146 627Z"/>
<path fill="#a23a68" d="M1260 665L1259 671L1262 670ZM1308 636L1314 655L1317 654ZM973 610L967 635L947 626ZM1189 659L1185 669L1180 665ZM860 395L857 402L859 403ZM972 686L967 712L958 711Z"/>
<path fill="#a848d4" d="M961 393L960 400L956 400L957 393ZM893 639L893 650L897 649ZM1029 756L1043 775L1045 773ZM883 645L880 657L882 658ZM1030 359L1030 365L1032 365ZM1016 711L1018 720L1015 720L1013 712ZM852 586L849 594L851 594ZM906 389L904 396L907 396ZM1199 791L1195 815L1181 816Z"/>
<path fill="#b060e8" d="M906 782L899 791L903 793ZM876 496L878 512L883 510ZM1338 348L1342 358L1344 357ZM1076 708L1076 722L1077 722ZM1099 628L1084 635L1071 629ZM901 445L898 469L900 469ZM976 451L975 457L977 457ZM1111 572L1111 583L1113 583ZM886 701L884 712L886 712ZM1091 567L1090 581L1092 581Z"/>
<path fill="#c45580" d="M1141 416L1141 428L1133 422ZM1263 414L1264 425L1266 425ZM1303 417L1305 431L1306 431ZM898 668L885 692L875 682ZM943 769L949 776L951 774ZM1269 387L1273 400L1270 403L1266 390Z"/>
<path fill="#f4a08c" d="M994 766L984 781L971 778L981 763ZM1105 407L1108 415L1110 413ZM1012 422L998 431L992 428ZM862 400L858 413L862 413Z"/>
<path fill="#f8c8b0" d="M1186 645L1183 650L1184 651ZM921 623L921 632L924 632ZM1119 523L1109 545L1113 546ZM1305 447L1312 455L1314 452ZM1194 562L1190 571L1193 572ZM1159 686L1159 697L1153 693Z"/>
<path fill="#a880e8" d="M1287 531L1302 551L1297 560L1282 540ZM1248 456L1249 462L1252 461ZM1250 623L1250 630L1245 629ZM984 628L987 649L989 648ZM1104 768L1102 790L1107 790ZM1287 488L1292 512L1295 511ZM1035 655L1028 664L1032 666ZM1193 782L1193 790L1195 790ZM1251 668L1248 673L1250 674ZM1319 779L1318 790L1320 790ZM1270 567L1263 578L1265 579ZM1139 460L1123 471L1113 459L1129 448ZM1328 606L1329 631L1332 630Z"/>
<path fill="#f0a0b4" d="M1236 519L1227 534L1231 536ZM1078 625L1087 642L1091 640ZM1219 513L1216 524L1211 523ZM1244 492L1246 499L1240 501L1239 493ZM1168 583L1169 599L1160 595ZM1247 620L1236 626L1238 628ZM1119 410L1116 420L1120 420ZM1088 694L1088 703L1091 702Z"/>
<path fill="#7fd0c0" d="M1135 521L1131 535L1133 535Z"/>
<path fill="#f08e80" d="M1179 649L1175 655L1176 656ZM1212 730L1221 733L1222 740L1213 736ZM1314 610L1316 630L1320 629ZM1159 637L1154 646L1151 645L1155 636ZM1208 714L1197 721L1192 717L1203 710Z"/>
<path fill="#b5446d" d="M943 401L946 427L926 428ZM894 544L882 566L884 567ZM893 382L891 392L893 392ZM1005 732L1007 738L1009 737ZM1090 613L1089 627L1091 627ZM1207 794L1199 809L1196 804L1205 789Z"/>
<path fill="#9a5ae0" d="M1191 694L1192 710L1180 705ZM871 546L863 563L868 565ZM860 449L861 456L855 457ZM891 409L885 423L888 424ZM1056 541L1055 554L1058 554ZM1112 796L1109 801L1112 802Z"/>
<path fill="#c2507a" d="M900 487L905 493L906 492ZM1228 381L1235 395L1226 399ZM935 395L920 418L905 412L919 388ZM1151 706L1149 716L1153 716ZM1172 462L1180 487L1163 487ZM1191 760L1194 767L1195 767ZM1337 609L1334 630L1336 630ZM935 486L933 497L936 497Z"/>
<path fill="#f5b0a0" d="M1064 497L1063 510L1066 510ZM1265 742L1268 748L1265 752L1262 745ZM1188 681L1188 692L1191 692ZM1159 645L1152 649L1154 651ZM1205 698L1210 718L1215 716ZM1031 695L1040 704L1041 703ZM1301 358L1311 372L1303 382L1293 368ZM1143 566L1155 583L1149 593ZM1241 453L1231 462L1235 465ZM1120 669L1126 691L1129 690Z"/>
<path fill="#6ab0e4" d="M1296 403L1294 410L1291 407Z"/>
<path fill="#f08aa0" d="M892 674L889 683L891 683ZM891 754L886 765L888 766ZM1116 506L1117 515L1119 514ZM1171 733L1165 746L1167 747ZM878 696L874 716L861 716ZM1120 720L1112 725L1114 727ZM1134 440L1137 451L1139 450ZM1208 474L1207 482L1210 482Z"/>
<path fill="#c45580" d="M1105 706L1090 718L1093 721ZM1090 573L1094 582L1096 581ZM962 579L975 598L979 594ZM1316 713L1302 721L1292 716ZM1103 614L1118 620L1111 627ZM960 698L949 722L941 713ZM1078 686L1076 700L1077 700Z"/>
<path fill="#b94a68" d="M847 412L846 423L848 423ZM1300 738L1315 746L1309 753L1294 744ZM1282 358L1280 364L1281 365ZM1338 689L1332 699L1337 700Z"/>
<path fill="#f7b890" d="M1257 722L1247 731L1250 733ZM1178 631L1179 643L1182 642ZM969 740L961 752L963 752ZM1310 364L1309 373L1313 373ZM1303 723L1299 734L1294 735L1298 723ZM1287 688L1282 698L1274 696L1279 686ZM1269 431L1266 436L1268 436ZM1209 715L1217 724L1219 721ZM1291 688L1289 705L1292 705ZM1307 379L1298 384L1294 376ZM1261 528L1271 546L1275 543ZM1133 526L1132 537L1138 536Z"/>
<path fill="#d86ad0" d="M1056 525L1056 532L1058 532ZM1172 449L1158 459L1152 448ZM1280 380L1261 392L1249 382L1267 371ZM1147 544L1148 551L1150 550ZM1167 676L1155 687L1159 690ZM899 546L879 559L866 551L886 538ZM1250 583L1252 597L1254 596ZM1068 795L1063 808L1057 807L1062 794ZM1106 488L1101 500L1103 501ZM1227 351L1227 357L1229 357ZM1246 669L1245 682L1248 682ZM985 790L991 813L975 814L970 791Z"/>
<path fill="#f4a08c" d="M1115 697L1125 719L1112 719L1103 697ZM869 492L863 513L847 507L852 485ZM1184 675L1174 689L1167 688L1177 674ZM1084 693L1085 705L1086 705ZM892 447L895 461L896 461ZM1051 770L1056 775L1057 774ZM1106 700L1115 704L1116 709L1106 705ZM929 578L928 592L931 592Z"/>
<path fill="#f6c09a" d="M1244 580L1246 594L1237 599ZM1072 568L1080 578L1081 577ZM1113 694L1110 701L1106 696ZM1039 744L1047 752L1048 751ZM1224 642L1221 656L1224 656ZM1291 750L1290 764L1292 764ZM878 374L881 391L873 391L871 374ZM1286 783L1283 793L1285 793ZM999 445L987 451L982 444Z"/>
<path fill="#e46aa6" d="M898 438L888 446L891 448ZM1173 350L1159 362L1163 365ZM851 445L857 449L855 450L849 446ZM1270 698L1262 716L1265 717ZM887 658L880 669L876 667L883 656ZM1131 619L1129 629L1132 629ZM1320 385L1316 405L1321 406ZM1047 635L1035 644L1034 634L1046 625ZM1011 549L1003 563L998 555ZM1246 543L1245 551L1249 551ZM1136 505L1137 520L1138 519ZM975 501L975 517L966 515ZM1069 787L1074 792L1075 790ZM985 662L985 685L989 684ZM1016 548L1015 561L1018 561Z"/>
<path fill="#b2477a" d="M1269 426L1253 432L1246 426ZM969 671L965 681L960 677ZM948 362L955 370L957 367ZM887 668L866 677L857 669L877 660ZM1319 443L1331 464L1320 470ZM975 773L973 778L974 779Z"/>
<path fill="#c95c84" d="M860 518L859 532L851 530L852 516ZM979 450L982 455L984 452ZM1277 726L1260 734L1258 721ZM901 652L893 656L895 658ZM1333 685L1319 706L1299 706L1313 685ZM1262 683L1265 690L1266 689ZM1319 474L1319 479L1322 479ZM913 555L912 564L914 564ZM1141 416L1135 436L1139 436ZM1006 395L1012 402L1014 400ZM1045 771L1047 777L1049 777ZM1248 385L1248 400L1249 400ZM1288 528L1302 548L1296 563ZM945 373L946 387L947 387Z"/>
<path fill="#bd4c76" d="M1162 675L1153 699L1146 694ZM1316 706L1320 727L1323 726ZM888 589L880 600L870 595L878 583ZM1176 758L1176 778L1167 778ZM1215 464L1219 483L1204 484L1200 465ZM1077 585L1084 592L1086 590Z"/>
<path fill="#f06a70" d="M1087 654L1092 673L1095 672ZM946 438L952 445L954 444ZM1272 479L1269 499L1252 495L1255 475ZM960 671L955 684L945 680ZM848 692L851 705L855 703ZM1062 442L1064 449L1065 448ZM1073 541L1081 550L1082 548ZM876 541L877 563L867 567L865 545ZM1305 438L1304 452L1307 452ZM1267 574L1266 582L1261 584L1262 576ZM1331 356L1338 363L1339 361ZM1060 647L1069 669L1063 676L1054 654Z"/>
<path fill="#ae4264" d="M1064 727L1065 732L1066 732ZM1073 449L1082 457L1083 456ZM1216 486L1203 492L1202 487L1215 481ZM928 636L914 651L918 654ZM917 772L937 786L931 801ZM1062 404L1057 415L1059 416ZM855 354L852 366L855 367ZM1119 728L1118 734L1121 733ZM1141 493L1135 502L1136 503ZM943 701L940 707L941 708ZM1098 789L1106 795L1106 794ZM1220 605L1202 621L1204 623ZM1316 665L1324 675L1326 673Z"/>
<path fill="#b060e8" d="M1111 404L1115 422L1117 422ZM1068 494L1068 508L1061 511L1061 497ZM1018 431L1010 447L1016 448ZM1053 631L1043 639L1045 641ZM955 706L958 719L960 719Z"/>
<path fill="#f0a0b4" d="M919 591L911 609L913 610ZM1243 587L1242 598L1245 597ZM1225 760L1240 780L1244 777ZM1176 631L1174 650L1179 650ZM1277 373L1268 389L1258 386L1267 371Z"/>
<path fill="#d04aa8" d="M930 672L912 680L914 664ZM1195 474L1199 478L1200 477Z"/>
<path fill="#8aa4ec" d="M941 661L936 674L939 675ZM1227 463L1234 481L1224 487ZM961 486L974 497L970 499ZM1099 359L1084 367L1081 357ZM1003 632L998 640L995 639ZM1110 745L1105 747L1106 749ZM1277 410L1276 418L1278 418ZM878 588L883 601L885 601ZM1035 613L1035 620L1038 619ZM950 563L948 572L951 572Z"/>
<path fill="#c4a0f4" d="M862 410L863 428L865 428ZM1333 638L1324 651L1314 644L1323 631ZM1098 669L1085 676L1081 674ZM911 465L913 472L916 471ZM981 643L984 652L979 654ZM902 363L888 370L888 364ZM966 755L965 771L967 771ZM869 679L867 700L854 690ZM1099 671L1088 678L1089 679ZM881 568L885 585L890 583ZM1213 362L1208 373L1211 374ZM952 386L941 393L943 395ZM1107 515L1088 523L1086 513L1104 505Z"/>
<path fill="#a83a62" d="M1082 670L1077 686L1070 685ZM1001 653L998 666L1000 666ZM969 764L967 780L957 778L960 763ZM1210 581L1201 586L1205 590ZM964 562L967 580L969 579ZM1215 535L1196 542L1193 536L1211 528ZM946 716L949 741L954 740ZM1297 677L1296 692L1299 692ZM867 632L860 637L861 638ZM945 720L937 740L929 741L937 720Z"/>
<path fill="#a23a68" d="M1209 772L1190 784L1178 778L1197 766ZM921 354L907 374L889 371L904 352ZM901 787L891 808L896 809ZM1312 611L1302 627L1294 617L1304 600ZM1164 533L1159 543L1156 543ZM993 538L985 551L975 548L983 535ZM1089 423L1078 431L1079 432ZM920 663L913 683L917 684Z"/>
<path fill="#e85890" d="M1287 364L1297 379L1293 383ZM1017 406L1015 412L1017 413ZM1314 782L1313 789L1311 787L1312 779ZM1059 382L1055 393L1058 394ZM1249 754L1262 775L1266 772Z"/>
<path fill="#e040a0" d="M1103 467L1092 490L1097 492ZM951 643L956 666L938 672ZM1295 579L1292 588L1294 589ZM1024 756L1015 762L1016 763ZM1150 449L1148 456L1150 456ZM1015 556L1001 564L995 558ZM927 713L934 730L926 728ZM894 529L894 548L881 541ZM978 461L974 472L977 472Z"/>
<path fill="#f8c8b0" d="M945 669L934 678L935 680ZM1118 769L1112 789L1101 786L1108 766ZM1242 771L1243 779L1240 780L1240 772ZM1110 559L1090 570L1082 563ZM1288 674L1292 686L1294 686ZM1285 611L1276 627L1266 618L1275 602Z"/>
<path fill="#a880e8" d="M1309 394L1295 404L1290 400ZM1216 410L1212 422L1204 424ZM873 602L866 615L871 617ZM1021 773L1022 781L1024 780ZM1085 545L1075 564L1059 565L1070 545ZM894 542L907 548L906 553L893 547Z"/>
<path fill="#a848d4" d="M852 690L856 695L857 693ZM1042 772L1045 796L1051 795ZM1252 494L1240 501L1241 503ZM1008 353L1008 358L1011 358ZM893 783L898 790L900 788ZM874 541L875 561L879 560ZM1102 767L1099 776L1102 777ZM924 698L925 710L927 709ZM982 467L979 474L982 475Z"/>
<path fill="#f9d4a8" d="M1264 641L1258 644L1259 645ZM1064 405L1063 414L1065 414ZM1298 546L1295 556L1298 557ZM1315 780L1315 792L1318 792Z"/>
<path fill="#f08e80" d="M1320 478L1323 489L1326 488ZM1248 611L1239 630L1235 623ZM959 605L953 608L954 609ZM1203 780L1205 794L1207 793ZM1090 728L1097 753L1101 752ZM1043 501L1050 521L1044 524L1037 505ZM1152 516L1146 527L1149 528Z"/>
<path fill="#c890ec" d="M1125 618L1136 637L1119 641ZM930 596L932 607L937 604ZM868 421L867 427L868 427ZM1136 747L1135 755L1137 755ZM864 388L865 396L867 395ZM1043 703L1050 711L1052 709ZM1155 725L1147 737L1142 726Z"/>
<path fill="#a858d8" d="M977 586L975 601L981 600ZM1324 561L1327 569L1328 568ZM1008 478L999 495L1003 497ZM1280 611L1283 620L1279 620Z"/>
<path fill="#b07ae6" d="M953 668L954 678L957 677Z"/>
<path fill="#f4a888" d="M1189 699L1180 704L1181 706ZM1172 551L1177 557L1173 560ZM1238 549L1238 557L1233 560ZM1217 751L1220 760L1222 760ZM1313 497L1312 506L1314 507Z"/>
<path fill="#f29ab8" d="M1078 440L1087 459L1077 470L1068 451ZM1019 634L1016 655L1019 655ZM1161 416L1164 429L1167 427ZM900 783L903 803L908 802ZM869 407L867 427L860 428L862 408ZM1023 445L1025 457L1026 457ZM931 757L920 765L921 767Z"/>
<path d="M1063 419L1076 417L1070 436L1052 441Z" fill="#62c8c0"/><path d="M1150 408L1176 402L1186 418L1168 432L1148 428Z" fill="#f7c79c"/><path d="M1128 366L1146 360L1152 378L1136 388Z" fill="#f3b4c0"/><path d="M955 372L972 366L968 398L950 404Z" fill="#b99af0"/>
</g><line x1="1097" y1="404" x2="1092" y2="788" stroke="#a03868" stroke-width="1.2" opacity="0.55"/>
</g>
</svg>
</body>
</html>
